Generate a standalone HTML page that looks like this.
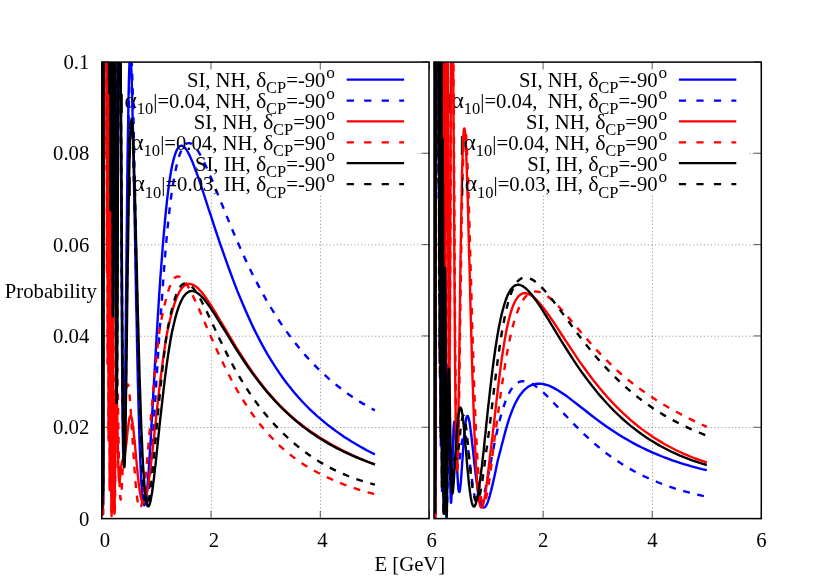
<!DOCTYPE html>
<html><head><meta charset="utf-8"><title>plot</title>
<style>
html,body{margin:0;padding:0;background:#fff;}
svg{display:block;will-change:transform;}
text{font-family:"Liberation Serif",serif;fill:#000;}
</style></head><body>
<svg width="830" height="581" viewBox="0 0 830 581">
<rect width="830" height="581" fill="#fff"/>
<defs><clipPath id="cl"><rect x="101.80" y="61.90" width="327.70" height="456.70"/></clipPath><clipPath id="cr"><rect x="434.00" y="61.90" width="327.30" height="456.70"/></clipPath></defs>
<g stroke="#8c8c8c" stroke-width="0.85" stroke-dasharray="1.2 2.3" transform="translate(0.3,0.3)" fill="none"><line x1="101.80" y1="427.26" x2="429.50" y2="427.26"/><line x1="101.80" y1="335.92" x2="429.50" y2="335.92"/><line x1="101.80" y1="244.58" x2="429.50" y2="244.58"/><line x1="101.80" y1="153.24" x2="429.50" y2="153.24"/><line x1="211.03" y1="518.60" x2="211.03" y2="61.90"/><line x1="320.27" y1="518.60" x2="320.27" y2="61.90"/><line x1="434.00" y1="427.26" x2="761.30" y2="427.26"/><line x1="434.00" y1="335.92" x2="761.30" y2="335.92"/><line x1="434.00" y1="244.58" x2="761.30" y2="244.58"/><line x1="434.00" y1="153.24" x2="761.30" y2="153.24"/><line x1="543.10" y1="518.60" x2="543.10" y2="61.90"/><line x1="652.20" y1="518.60" x2="652.20" y2="61.90"/></g>
<rect x="117.00" y="62.40" width="299.00" height="132.40" fill="#fff"/>
<g stroke="#333" stroke-width="0.8" fill="none"><line x1="101.80" y1="518.60" x2="109.40" y2="518.60"/><line x1="429.50" y1="518.60" x2="421.90" y2="518.60"/><line x1="101.80" y1="427.26" x2="109.40" y2="427.26"/><line x1="429.50" y1="427.26" x2="421.90" y2="427.26"/><line x1="101.80" y1="335.92" x2="109.40" y2="335.92"/><line x1="429.50" y1="335.92" x2="421.90" y2="335.92"/><line x1="101.80" y1="244.58" x2="109.40" y2="244.58"/><line x1="429.50" y1="244.58" x2="421.90" y2="244.58"/><line x1="101.80" y1="153.24" x2="109.40" y2="153.24"/><line x1="429.50" y1="153.24" x2="421.90" y2="153.24"/><line x1="101.80" y1="61.90" x2="109.40" y2="61.90"/><line x1="429.50" y1="61.90" x2="421.90" y2="61.90"/><line x1="101.80" y1="518.60" x2="101.80" y2="511.00"/><line x1="101.80" y1="61.90" x2="101.80" y2="69.50"/><line x1="211.03" y1="518.60" x2="211.03" y2="511.00"/><line x1="211.03" y1="61.90" x2="211.03" y2="69.50"/><line x1="320.27" y1="518.60" x2="320.27" y2="511.00"/><line x1="320.27" y1="61.90" x2="320.27" y2="69.50"/><line x1="429.50" y1="518.60" x2="429.50" y2="511.00"/><line x1="429.50" y1="61.90" x2="429.50" y2="69.50"/></g>
<line x1="346.70" y1="79.70" x2="404.10" y2="79.70" stroke="#0000ff" stroke-width="2.3"/><text x="326.30" y="77.80" font-size="17.3">o</text><text x="286.23" y="87.10" font-size="20.7">=-90</text><text x="266.05" y="93.20" font-size="16.5">CP</text><text x="256.05" y="87.10" font-size="22">δ</text><text x="255.85" y="87.10" font-size="20.7" text-anchor="end" xml:space="preserve">SI, NH, </text>
<path clip-path="url(#cl)" fill="none" stroke-width="2.4" stroke-linejoin="round" d="M102,31.9 102,31.9 102.1,31.9 102.1,31.9 102.1,67.6 102.1,422.2 102.1,31.9 102.1,31.9 102.2,31.9 102.2,31.9 102.2,122.6 102.2,495.1 102.2,31.9 102.2,31.9 102.3,31.9 102.3,31.9 102.3,31.9 102.3,31.9 102.3,31.9 102.4,31.9 102.4,220.1 102.4,355.2 102.4,376.7 102.4,495.3 102.4,485.8 102.5,195.4 102.5,31.9 102.5,31.9 102.5,31.9 102.5,31.9 102.5,31.9 102.6,31.9 102.6,31.9 102.6,31.9 102.6,31.9 102.6,31.9 102.6,31.9 102.7,31.9 102.7,31.9 102.7,31.9 102.7,31.9 102.7,31.9 102.8,31.9 102.8,31.9 102.8,31.9 102.8,31.9 102.8,31.9 102.8,31.9 102.9,31.9 102.9,70.2 102.9,310.2 102.9,31.9 102.9,388.4 102.9,302.7 103,283.3 103,494.4 103,339.2 103,504.5 103,428 103,458.7 103.1,485.3 103.1,390.8 103.1,499.8 103.1,333.3 103.1,423.6 103.2,363.3 103.2,202.6 103.2,466.3 103.2,31.9 103.2,327.5 103.2,181.9 103.3,31.9 103.3,338.7 103.3,31.9 103.3,31.9 103.3,247.9 103.3,31.9 103.4,31.9 103.4,116.3 103.4,31.9 103.4,31.9 103.4,31.9 103.5,31.9 103.5,31.9 103.5,31.9 103.5,31.9 103.5,31.9 103.5,31.9 103.6,31.9 103.6,31.9 103.6,31.9 103.6,31.9 103.6,31.9 103.6,31.9 103.7,31.9 103.7,31.9 103.7,31.9 103.7,31.9 103.7,31.9 103.7,31.9 103.8,31.9 103.8,31.9 103.8,31.9 103.8,31.9 103.8,31.9 103.9,31.9 103.9,31.9 103.9,31.9 103.9,31.9 103.9,31.9 103.9,31.9 104,31.9 104,31.9 104,31.9 104,31.9 104,31.9 104,31.9 104.1,31.9 104.1,31.9 104.1,31.9 104.1,31.9 104.1,31.9 104.2,31.9 104.2,31.9 104.2,31.9 104.2,31.9 104.2,31.9 104.2,31.9 104.3,31.9 104.3,31.9 104.3,31.9 104.3,31.9 104.3,31.9 104.3,31.9 104.4,31.9 104.4,31.9 104.4,31.9 104.4,31.9 104.4,31.9 104.4,31.9 104.5,31.9 104.5,31.9 104.5,31.9 104.5,31.9 104.5,31.9 104.6,31.9 104.6,31.9 104.6,31.9 104.6,31.9 104.6,31.9 104.6,31.9 104.7,31.9 104.7,31.9 104.7,31.9 104.7,31.9 104.7,31.9 104.7,31.9 104.8,31.9 104.8,31.9 104.8,31.9 104.8,31.9 104.8,31.9 104.8,31.9 104.9,31.9 104.9,31.9 104.9,31.9 104.9,31.9 104.9,31.9 105,31.9 105,31.9 105,31.9 105,31.9 105,31.9 105,31.9 105.1,31.9 105.1,31.9 105.1,31.9 105.1,31.9 105.1,31.9 105.1,31.9 105.2,31.9 105.2,31.9 105.2,31.9 105.2,31.9 105.2,31.9 105.3,31.9 105.3,31.9 105.3,31.9 105.3,31.9 105.3,31.9 105.3,31.9 105.4,31.9 105.4,31.9 105.4,31.9 105.4,31.9 105.4,31.9 105.4,31.9 105.5,31.9 105.5,31.9 105.5,31.9 105.5,31.9 105.5,31.9 105.5,31.9 105.6,31.9 105.6,31.9 105.6,31.9 105.6,31.9 105.6,31.9 105.7,31.9 105.7,31.9 105.7,31.9 105.7,31.9 105.7,31.9 105.7,31.9 105.8,31.9 105.8,31.9 105.8,31.9 105.8,31.9 105.8,31.9 105.8,31.9 105.9,31.9 105.9,31.9 105.9,31.9 105.9,31.9 105.9,31.9 106,31.9 106,31.9 106,31.9 106,31.9 106,31.9 106,31.9 106.1,31.9 106.1,31.9 106.1,31.9 106.1,31.9 106.1,31.9 106.1,31.9 106.2,31.9 106.2,31.9 106.2,31.9 106.2,31.9 106.2,31.9 106.2,31.9 106.3,31.9 106.3,31.9 106.3,31.9 106.3,31.9 106.3,31.9 106.4,31.9 106.4,31.9 106.4,31.9 106.4,31.9 106.4,31.9 106.4,31.9 106.5,31.9 106.5,31.9 106.5,31.9 106.5,31.9 106.5,31.9 106.5,31.9 106.6,31.9 106.6,31.9 106.6,31.9 106.6,31.9 106.6,31.9 106.6,31.9 106.7,31.9 106.7,31.9 106.7,31.9 106.7,31.9 106.7,31.9 106.8,31.9 106.8,31.9 106.8,31.9 106.8,31.9 106.8,31.9 106.8,31.9 106.9,31.9 106.9,31.9 106.9,31.9 106.9,31.9 106.9,31.9 106.9,31.9 107,31.9 107,31.9 107,31.9 107,31.9 107,31.9 107.1,31.9 107.1,31.9 107.1,31.9 107.1,31.9 107.1,31.9 107.1,31.9 107.2,31.9 107.2,31.9 107.2,31.9 107.2,31.9 107.2,31.9 107.2,31.9 107.3,31.9 107.3,31.9 107.3,31.9 107.4,31.9 107.4,31.9 107.4,31.9 107.5,31.9 107.5,31.9 107.6,31.9 107.6,31.9 107.6,31.9 107.7,31.9 107.7,31.9 107.7,31.9 107.8,31.9 107.8,31.9 107.8,31.9 107.9,31.9 107.9,31.9 108,31.9 108,31.9 108,31.9 108.1,31.9 108.1,31.9 108.1,31.9 108.2,31.9 108.2,31.9 108.2,31.9 108.3,31.9 108.3,31.9 108.4,31.9 108.4,31.9 108.4,31.9 108.5,31.9 108.5,31.9 108.5,31.9 108.6,31.9 108.6,31.9 108.6,31.9 108.7,31.9 108.7,31.9 108.8,31.9 108.8,31.9 108.8,31.9 108.9,31.9 108.9,31.9 108.9,31.9 109,31.9 109,31.9 109,31.9 109.1,43 109.1,74 109.2,89.4 109.2,89.2 109.2,74.2 109.3,45.5 109.3,31.9 109.3,31.9 109.4,31.9 109.4,31.9 109.4,31.9 109.5,31.9 109.5,31.9 109.6,31.9 109.6,31.9 109.6,31.9 109.7,31.9 109.7,31.9 109.7,31.9 109.8,31.9 109.8,31.9 109.8,31.9 109.9,31.9 109.9,31.9 110,31.9 110,31.9 110,31.9 110.1,31.9 110.1,31.9 110.1,31.9 110.2,31.9 110.2,31.9 110.2,31.9 110.3,31.9 110.3,31.9 110.4,31.9 110.4,58 110.4,99.2 110.5,134.4 110.5,163.1 110.5,185.1 110.6,200.2 110.6,208.5 110.6,210 110.7,204.9 110.7,193.7 110.8,176.7 110.8,154.4 110.8,127.3 110.9,96.2 110.9,61.5 110.9,31.9 111,31.9 111,31.9 111,31.9 111.1,31.9 111.1,31.9 111.2,31.9 111.2,31.9 111.2,31.9 111.3,31.9 111.3,31.9 111.3,31.9 111.4,31.9 111.4,31.9 111.4,31.9 111.5,31.9 111.5,31.9 111.6,31.9 111.6,31.9 111.6,31.9 111.7,31.9 111.7,31.9 111.7,31.9 111.8,31.9 111.8,31.9 111.8,31.9 111.9,31.9 111.9,31.9 112,31.9 112,31.9 112,31.9 112.1,31.9 112.1,31.9 112.1,31.9 112.2,31.9 112.2,31.9 112.2,31.9 112.3,49.5 112.3,81.8 112.4,112.6 112.4,141.7 112.4,169 112.5,194.2 112.5,217.2 112.5,237.9 112.6,256.2 112.6,272.1 112.7,285.5 112.7,296.3 112.7,304.6 112.8,310.4 112.8,313.7 112.8,314.6 112.9,313 112.9,309.2 112.9,303.2 113,295.1 113,285 113.1,273 113.1,259.3 113.1,244.1 113.2,227.3 113.2,209.3 113.2,190.2 113.3,170.1 113.3,149.1 113.3,127.5 113.4,105.3 113.4,82.8 113.5,60 113.5,37.1 113.5,31.9 113.6,31.9 113.6,31.9 113.6,31.9 113.7,31.9 113.7,31.9 113.7,31.9 113.8,31.9 113.8,31.9 113.9,31.9 113.9,31.9 113.9,31.9 114,31.9 114,31.9 114,31.9 114.1,31.9 114.1,31.9 114.1,31.9 114.2,31.9 114.2,31.9 114.3,31.9 114.3,31.9 114.3,31.9 114.4,31.9 114.4,31.9 114.4,31.9 114.5,31.9 114.5,31.9 114.5,31.9 114.6,31.9 114.6,31.9 114.7,31.9 114.7,31.9 114.7,31.9 114.8,31.9 114.8,31.9 114.8,31.9 114.9,31.9 114.9,31.9 114.9,31.9 115,31.9 115,31.9 115.1,31.9 115.1,31.9 115.1,31.9 115.2,31.9 115.2,31.9 115.2,38.5 115.3,56.8 115.3,75 115.3,93.1 115.4,110.9 115.4,128.5 115.5,145.8 115.5,162.8 115.5,179.4 115.6,195.6 115.6,211.4 115.6,226.7 115.7,241.4 115.7,255.6 115.7,269.3 115.8,282.3 115.8,294.7 115.9,306.5 115.9,317.6 115.9,328.1 116,337.8 116,346.9 116,355.3 116.1,362.9 116.1,369.9 116.1,376.1 116.2,381.6 116.2,386.4 116.3,390.5 116.3,393.8 116.3,396.5 116.4,398.5 116.4,399.7 116.4,400.4 116.5,400.3 116.5,399.6 116.5,398.3 116.6,396.4 116.6,393.8 116.7,390.7 116.7,387.1 116.7,382.8 116.8,378.1 116.8,372.9 116.8,367.2 116.9,361 116.9,354.4 116.9,347.3 117,339.9 117,332.1 117.1,324 117.1,315.6 117.1,306.8 117.2,297.8 117.2,288.5 117.2,279 117.3,269.3 117.3,259.5 117.3,249.4 117.4,239.2 117.4,229 117.5,218.6 117.5,208.1 117.5,197.6 117.6,187.1 117.6,176.5 117.6,166 117.7,155.5 117.7,145 117.7,134.7 117.8,124.3 117.8,114.1 117.9,104 117.9,94.1 117.9,84.3 118,74.6 118,65.1 118,55.8 118.1,46.7 118.1,37.8 118.1,31.9 118.2,31.9 118.4,31.9 118.6,31.9 118.8,31.9 119,31.9 119.2,31.9 119.5,31.9 119.7,31.9 119.9,31.9 120.1,31.9 120.3,31.9 120.5,62.7 120.7,105.2 120.9,148.8 121.2,192.1 121.4,234.3 121.6,274.4 121.8,311.6 122,345.4 122.2,375.3 122.4,401 122.6,422.4 122.9,439.3 123.1,451.8 123.3,460 123.5,464 123.7,464.2 123.9,460.7 124.1,453.9 124.3,444.1 124.6,431.7 124.8,417.1 125,400.5 125.2,382.4 125.4,363.1 125.6,342.9 125.8,322 126,300.9 126.3,279.7 126.5,258.7 126.7,238.1 126.9,218.1 127.1,198.9 127.3,180.5 127.5,163.2 127.7,147.1 128,132.1 128.2,118.5 128.4,106.1 128.6,95.2 128.8,85.6 129,77.4 129.2,70.5 129.4,65.1 129.7,60.9 129.9,58.1 130.1,56.5 130.3,56.1 130.5,56.9 130.7,58.9 130.9,61.8 131.1,65.7 131.4,70.6 131.6,76.3 131.8,82.9 132,90.1 132.2,98.1 132.4,106.6 132.6,115.7 132.8,125.2 133.1,135.2 133.3,145.6 133.5,156.3 133.7,167.3 133.9,178.4 134.1,189.8 134.3,201.3 134.5,212.8 134.8,224.4 135,236 135.2,247.6 135.4,259.1 135.6,270.5 135.8,281.7 136,292.9 136.2,303.8 136.5,314.6 136.7,325.1 136.9,335.4 137.1,345.5 137.3,355.3 137.5,364.8 137.7,374 137.9,382.9 138.2,391.5 138.4,399.9 138.6,407.8 138.8,415.5 139,422.8 139.2,429.8 139.4,436.5 139.6,442.9 139.8,448.9 140.1,454.6 140.3,459.9 140.5,464.9 140.7,469.6 140.9,474 141.1,478.1 141.3,481.9 141.5,485.3 141.8,488.5 142,491.4 142.2,493.9 142.4,496.2 142.6,498.3 142.8,500 143,501.5 143.2,502.8 143.5,503.8 143.7,504.5 143.9,505 144.1,505.3 144.3,505.4 144.5,505.3 144.7,504.9 144.9,504.4 145.2,503.7 145.4,502.8 145.6,501.7 145.8,500.4 146,499 146.2,497.4 146.4,495.7 146.6,493.9 146.9,491.9 147.1,489.7 147.3,487.5 147.5,485.1 147.7,482.6 147.9,480 148.1,477.4 148.3,474.6 148.6,471.7 148.8,468.8 149,465.7 149.2,462.6 149.4,459.5 149.6,456.2 149.8,452.9 150,449.6 150.3,446.2 150.5,442.7 150.7,439.2 150.9,435.7 151.1,432.1 151.3,428.5 151.5,424.9 151.7,421.3 152,417.6 152.2,413.9 152.4,410.2 152.6,406.5 152.8,402.8 153,399 153.2,395.3 153.4,391.6 153.7,387.8 153.9,384.1 154.1,380.4 154.3,376.7 154.5,373 154.7,369.3 154.9,365.6 155.1,361.9 155.4,358.3 155.6,354.6 155.8,351 156,347.4 156.2,343.9 156.4,340.3 157.7,318.8 159,298.1 160.3,278.6 161.7,260.4 163,243.5 164.3,228.1 165.6,214.2 166.9,201.7 168.2,190.7 169.5,181 170.8,172.7 172.1,165.7 173.5,159.9 174.8,155.2 176.1,151.6 177.4,148.9 178.7,147.1 180,146.1 181.3,145.7 182.6,146 183.9,146.9 185.3,148.2 186.6,150 187.9,152.2 189.2,154.6 190.5,157.4 191.8,160.4 193.1,163.6 194.4,167 195.7,170.5 197.1,174.2 198.4,177.9 199.7,181.7 201,185.6 202.3,189.5 203.6,193.5 204.9,197.5 206.2,201.5 207.5,205.5 208.8,209.6 210.2,213.6 211.5,217.6 212.8,221.6 214.1,225.6 215.4,229.6 216.7,233.5 218,237.4 219.3,241.3 220.6,245.2 222,249 225.8,259.9 229.6,270.5 233.4,280.7 237.2,290.6 241.1,300 244.9,309 248.7,317.6 252.5,325.9 256.4,333.7 260.2,341.1 264,348.1 267.8,354.8 271.7,361.2 275.5,367.2 279.3,372.9 283.1,378.3 287,383.5 290.8,388.3 294.6,392.9 298.4,397.3 302.2,401.5 306.1,405.5 309.9,409.3 313.7,412.9 317.5,416.4 321.4,419.7 325.2,422.9 329,425.9 332.8,428.8 336.7,431.6 340.5,434.3 344.3,436.9 348.1,439.3 351.9,441.7 355.8,444 359.6,446.3 363.4,448.4 367.2,450.5 371.1,452.5 374.9,454.4" stroke="#0000ff"/>
<line x1="346.70" y1="100.57" x2="404.10" y2="100.57" stroke="#0000ff" stroke-width="2.3" stroke-dasharray="7.2 10.3"/><text x="326.30" y="98.67" font-size="17.3">o</text><text x="286.23" y="107.97" font-size="20.7">=-90</text><text x="266.05" y="114.07" font-size="16.5">CP</text><text x="256.05" y="107.97" font-size="22">δ</text><text x="255.85" y="107.97" font-size="20.7" text-anchor="end" xml:space="preserve">|=0.04, NH, </text><text x="136.71" y="114.27" font-size="16.5">10</text><text x="124.41" y="107.97" font-size="23.5">α</text><text x="120.26" y="107.97" font-size="20.7">|</text>
<path clip-path="url(#cl)" fill="none" stroke-width="2.4" stroke-linejoin="round" d="M102,31.9 102,31.9 102.1,31.9 102.1,31.9 102.1,98.9 102.1,391.4 102.1,31.9 102.1,31.9 102.2,31.9 102.2,31.9 102.2,98.6 102.2,509.4 102.2,31.9 102.2,31.9 102.3,31.9 102.3,31.9 102.3,31.9 102.3,31.9 102.3,31.9 102.4,31.9 102.4,195.1 102.4,394.3 102.4,400.8 102.4,500.7 102.4,501.1 102.5,233.3 102.5,31.9 102.5,31.9 102.5,31.9 102.5,31.9 102.5,31.9 102.6,31.9 102.6,31.9 102.6,31.9 102.6,31.9 102.6,31.9 102.6,31.9 102.7,31.9 102.7,31.9 102.7,31.9 102.7,31.9 102.7,31.9 102.8,31.9 102.8,31.9 102.8,31.9 102.8,31.9 102.8,56.3 102.8,31.9 102.9,31.9 102.9,119.4 102.9,284.9 102.9,31.9 102.9,420.1 102.9,262.2 103,321.5 103,463.9 103,354.4 103,492.2 103,428.6 103,452.5 103.1,486.5 103.1,378 103.1,514.3 103.1,305.8 103.1,455.2 103.2,327.6 103.2,233.5 103.2,452.3 103.2,31.9 103.2,355.8 103.2,156.2 103.3,31.9 103.3,351.1 103.3,31.9 103.3,31.9 103.3,257.9 103.3,31.9 103.4,31.9 103.4,135.4 103.4,31.9 103.4,31.9 103.4,31.9 103.5,31.9 103.5,31.9 103.5,31.9 103.5,31.9 103.5,31.9 103.5,31.9 103.6,31.9 103.6,31.9 103.6,31.9 103.6,31.9 103.6,31.9 103.6,31.9 103.7,31.9 103.7,31.9 103.7,31.9 103.7,31.9 103.7,31.9 103.7,31.9 103.8,31.9 103.8,31.9 103.8,31.9 103.8,31.9 103.8,31.9 103.9,31.9 103.9,31.9 103.9,31.9 103.9,31.9 103.9,31.9 103.9,31.9 104,31.9 104,31.9 104,31.9 104,31.9 104,31.9 104,31.9 104.1,31.9 104.1,31.9 104.1,31.9 104.1,31.9 104.1,31.9 104.2,31.9 104.2,31.9 104.2,31.9 104.2,31.9 104.2,31.9 104.2,31.9 104.3,31.9 104.3,31.9 104.3,31.9 104.3,31.9 104.3,31.9 104.3,31.9 104.4,31.9 104.4,31.9 104.4,31.9 104.4,31.9 104.4,31.9 104.4,31.9 104.5,31.9 104.5,31.9 104.5,31.9 104.5,31.9 104.5,31.9 104.6,31.9 104.6,31.9 104.6,31.9 104.6,31.9 104.6,31.9 104.6,31.9 104.7,31.9 104.7,31.9 104.7,31.9 104.7,31.9 104.7,31.9 104.7,31.9 104.8,31.9 104.8,31.9 104.8,31.9 104.8,31.9 104.8,31.9 104.8,31.9 104.9,31.9 104.9,31.9 104.9,31.9 104.9,31.9 104.9,31.9 105,31.9 105,31.9 105,31.9 105,31.9 105,31.9 105,31.9 105.1,31.9 105.1,31.9 105.1,31.9 105.1,31.9 105.1,31.9 105.1,31.9 105.2,31.9 105.2,31.9 105.2,31.9 105.2,31.9 105.2,31.9 105.3,31.9 105.3,31.9 105.3,31.9 105.3,31.9 105.3,31.9 105.3,31.9 105.4,31.9 105.4,31.9 105.4,31.9 105.4,31.9 105.4,31.9 105.4,31.9 105.5,31.9 105.5,31.9 105.5,31.9 105.5,31.9 105.5,31.9 105.5,31.9 105.6,31.9 105.6,31.9 105.6,31.9 105.6,31.9 105.6,31.9 105.7,31.9 105.7,31.9 105.7,31.9 105.7,31.9 105.7,31.9 105.7,31.9 105.8,31.9 105.8,31.9 105.8,31.9 105.8,31.9 105.8,31.9 105.8,31.9 105.9,31.9 105.9,31.9 105.9,31.9 105.9,31.9 105.9,31.9 106,31.9 106,31.9 106,31.9 106,31.9 106,31.9 106,31.9 106.1,31.9 106.1,31.9 106.1,31.9 106.1,31.9 106.1,31.9 106.1,31.9 106.2,31.9 106.2,31.9 106.2,31.9 106.2,31.9 106.2,31.9 106.2,31.9 106.3,31.9 106.3,31.9 106.3,31.9 106.3,31.9 106.3,31.9 106.4,31.9 106.4,31.9 106.4,31.9 106.4,31.9 106.4,31.9 106.4,31.9 106.5,31.9 106.5,31.9 106.5,31.9 106.5,31.9 106.5,31.9 106.5,31.9 106.6,31.9 106.6,31.9 106.6,31.9 106.6,31.9 106.6,31.9 106.6,31.9 106.7,31.9 106.7,31.9 106.7,31.9 106.7,31.9 106.7,31.9 106.8,31.9 106.8,31.9 106.8,31.9 106.8,31.9 106.8,31.9 106.8,31.9 106.9,31.9 106.9,31.9 106.9,31.9 106.9,31.9 106.9,31.9 106.9,31.9 107,31.9 107,31.9 107,31.9 107,31.9 107,31.9 107.1,31.9 107.1,31.9 107.1,31.9 107.1,31.9 107.1,31.9 107.1,31.9 107.2,31.9 107.2,31.9 107.2,31.9 107.2,31.9 107.2,31.9 107.2,31.9 107.3,31.9 107.3,31.9 107.3,31.9 107.4,31.9 107.4,31.9 107.4,31.9 107.5,31.9 107.5,31.9 107.6,31.9 107.6,31.9 107.6,31.9 107.7,31.9 107.7,31.9 107.7,31.9 107.8,31.9 107.8,31.9 107.8,31.9 107.9,31.9 107.9,31.9 108,31.9 108,31.9 108,31.9 108.1,31.9 108.1,31.9 108.1,31.9 108.2,31.9 108.2,31.9 108.2,31.9 108.3,31.9 108.3,31.9 108.4,31.9 108.4,31.9 108.4,31.9 108.5,31.9 108.5,31.9 108.5,31.9 108.6,31.9 108.6,31.9 108.6,31.9 108.7,31.9 108.7,31.9 108.8,31.9 108.8,31.9 108.8,31.9 108.9,31.9 108.9,31.9 108.9,31.9 109,31.9 109,31.9 109,31.9 109.1,31.9 109.1,65.1 109.2,87.7 109.2,94.8 109.2,87 109.3,65.1 109.3,31.9 109.3,31.9 109.4,31.9 109.4,31.9 109.4,31.9 109.5,31.9 109.5,31.9 109.6,31.9 109.6,31.9 109.6,31.9 109.7,31.9 109.7,31.9 109.7,31.9 109.8,31.9 109.8,31.9 109.8,31.9 109.9,31.9 109.9,31.9 110,31.9 110,31.9 110,31.9 110.1,31.9 110.1,31.9 110.1,31.9 110.2,31.9 110.2,31.9 110.2,31.9 110.3,31.9 110.3,31.9 110.4,31.9 110.4,31.9 110.4,71.1 110.5,110.4 110.5,143.7 110.5,170.6 110.6,190.8 110.6,204.3 110.6,211 110.7,211.1 110.7,204.9 110.8,192.7 110.8,174.9 110.8,152 110.9,124.6 110.9,93.2 110.9,58.5 111,31.9 111,31.9 111,31.9 111.1,31.9 111.1,31.9 111.2,31.9 111.2,31.9 111.2,31.9 111.3,31.9 111.3,31.9 111.3,31.9 111.4,31.9 111.4,31.9 111.4,31.9 111.5,31.9 111.5,31.9 111.6,31.9 111.6,31.9 111.6,31.9 111.7,31.9 111.7,31.9 111.7,31.9 111.8,31.9 111.8,31.9 111.8,31.9 111.9,31.9 111.9,31.9 112,31.9 112,31.9 112,31.9 112.1,31.9 112.1,31.9 112.1,31.9 112.2,31.9 112.2,31.9 112.2,31.9 112.3,31.9 112.3,41.1 112.4,73.4 112.4,104.3 112.4,133.5 112.5,161 112.5,186.5 112.5,210 112.6,231.2 112.6,250.2 112.7,266.8 112.7,280.9 112.7,292.6 112.8,301.8 112.8,308.6 112.8,312.9 112.9,314.8 112.9,314.3 112.9,311.6 113,306.7 113,299.7 113.1,290.7 113.1,279.8 113.1,267.2 113.2,253 113.2,237.3 113.2,220.2 113.3,201.9 113.3,182.6 113.3,162.4 113.4,141.4 113.4,119.9 113.5,97.8 113.5,75.5 113.5,53 113.6,31.9 113.6,31.9 113.6,31.9 113.7,31.9 113.7,31.9 113.7,31.9 113.8,31.9 113.8,31.9 113.9,31.9 113.9,31.9 113.9,31.9 114,31.9 114,31.9 114,31.9 114.1,31.9 114.1,31.9 114.1,31.9 114.2,31.9 114.2,31.9 114.3,31.9 114.3,31.9 114.3,31.9 114.4,31.9 114.4,31.9 114.4,31.9 114.5,31.9 114.5,31.9 114.5,31.9 114.6,31.9 114.6,31.9 114.7,31.9 114.7,31.9 114.7,31.9 114.8,31.9 114.8,31.9 114.8,31.9 114.9,31.9 114.9,31.9 114.9,31.9 115,31.9 115,31.9 115.1,31.9 115.1,31.9 115.1,31.9 115.2,31.9 115.2,31.9 115.2,31.9 115.3,31.9 115.3,31.9 115.3,47.9 115.4,65.8 115.4,83.6 115.5,101.3 115.5,118.7 115.5,135.9 115.6,152.8 115.6,169.3 115.6,185.5 115.7,201.3 115.7,216.6 115.7,231.4 115.8,245.7 115.8,259.5 115.9,272.8 115.9,285.4 115.9,297.4 116,308.8 116,319.6 116,329.7 116.1,339.2 116.1,348 116.1,356.1 116.2,363.5 116.2,370.3 116.3,376.3 116.3,381.6 116.3,386.3 116.4,390.3 116.4,393.5 116.4,396.1 116.5,398.1 116.5,399.4 116.5,400 116.6,400 116.6,399.4 116.7,398.1 116.7,396.3 116.7,393.9 116.8,391 116.8,387.4 116.8,383.4 116.9,378.9 116.9,373.8 116.9,368.3 117,362.4 117,356 117.1,349.3 117.1,342.1 117.1,334.6 117.2,326.8 117.2,318.6 117.2,310.1 117.3,301.4 117.3,292.4 117.3,283.2 117.4,273.8 117.4,264.2 117.5,254.4 117.5,244.5 117.5,234.5 117.6,224.3 117.6,214.1 117.6,203.9 117.7,193.6 117.7,183.2 117.7,172.9 117.8,162.6 117.8,152.3 117.9,142 117.9,131.9 117.9,121.8 118,111.8 118,101.9 118,92.1 118.1,82.5 118.1,73.1 118.1,63.8 118.2,54.7 118.4,31.9 118.6,31.9 118.8,31.9 119,31.9 119.2,31.9 119.5,31.9 119.7,31.9 119.9,31.9 120.1,31.9 120.3,31.9 120.5,31.9 120.7,62.2 120.9,103.6 121.2,146 121.4,188.3 121.6,229.5 121.8,268.7 122,305.3 122.2,338.8 122.4,368.6 122.6,394.6 122.9,416.4 123.1,434.1 123.3,447.6 123.5,457 123.7,462.5 123.9,464.2 124.1,462.4 124.3,457.3 124.6,449.3 124.8,438.7 125,425.8 125.2,410.9 125.4,394.4 125.6,376.5 125.8,357.6 126,337.9 126.3,317.7 126.5,297.3 126.7,276.9 126.9,256.7 127.1,236.8 127.3,217.6 127.5,199 127.7,181.3 128,164.5 128.2,148.8 128.4,134.2 128.6,120.8 128.8,108.5 129,97.6 129.2,87.9 129.4,79.4 129.7,72.3 129.9,66.4 130.1,61.7 130.3,58.2 130.5,55.9 130.7,54.8 130.9,54.7 131.1,55.7 131.4,57.7 131.6,60.6 131.8,64.4 132,69.1 132.2,74.5 132.4,80.7 132.6,87.5 132.8,94.9 133.1,102.9 133.3,111.4 133.5,120.4 133.7,129.8 133.9,139.5 134.1,149.5 134.3,159.7 134.5,170.2 134.8,180.9 135,191.7 135.2,202.6 135.4,213.5 135.6,224.5 135.8,235.5 136,246.4 136.2,257.3 136.5,268.1 136.7,278.8 136.9,289.3 137.1,299.7 137.3,309.9 137.5,320 137.7,329.8 137.9,339.4 138.2,348.8 138.4,357.9 138.6,366.8 138.8,375.4 139,383.7 139.2,391.8 139.4,399.6 139.6,407.1 139.8,414.3 140.1,421.3 140.3,427.9 140.5,434.3 140.7,440.3 140.9,446.1 141.1,451.6 141.3,456.7 141.5,461.6 141.8,466.2 142,470.6 142.2,474.6 142.4,478.4 142.6,481.9 142.8,485.1 143,488.1 143.2,490.8 143.5,493.3 143.7,495.5 143.9,497.5 144.1,499.3 144.3,500.8 144.5,502.1 144.7,503.2 144.9,504.1 145.2,504.7 145.4,505.2 145.6,505.4 145.8,505.5 146,505.4 146.2,505.2 146.4,504.7 146.6,504.1 146.9,503.3 147.1,502.4 147.3,501.3 147.5,500.1 147.7,498.8 147.9,497.3 148.1,495.7 148.3,494 148.6,492.1 148.8,490.2 149,488.1 149.2,486 149.4,483.7 149.6,481.4 149.8,479 150,476.5 150.3,473.9 150.5,471.3 150.7,468.5 150.9,465.7 151.1,462.9 151.3,460 151.5,457 151.7,454 152,451 152.2,447.9 152.4,444.7 152.6,441.6 152.8,438.4 153,435.1 153.2,431.9 153.4,428.6 153.7,425.3 153.9,421.9 154.1,418.6 154.3,415.2 154.5,411.8 154.7,408.5 154.9,405.1 155.1,401.7 155.4,398.3 155.6,394.9 155.8,391.5 156,388.1 156.2,384.7 156.4,381.3 157.7,360.6 159,340.4 160.3,321.1 161.7,302.8 163,283.9 164.3,266.1 165.6,249.8 166.9,235.1 168.2,221.9 169.5,210 170.8,199.4 172.1,189.9 173.5,181.6 174.8,174.3 176.1,167.9 177.4,162.3 178.7,157.6 180,153.7 181.3,150.5 182.6,147.9 183.9,145.9 185.3,144.5 186.6,143.6 187.9,143.1 189.2,143.1 190.5,143.4 191.8,144.1 193.1,145.1 194.4,146.4 195.7,147.9 197.1,149.7 198.4,151.7 199.7,153.8 201,156.1 202.3,158.6 203.6,161.2 204.9,163.9 206.2,166.7 207.5,169.6 208.8,172.6 210.2,175.6 211.5,178.7 212.8,181.8 214.1,185 215.4,188.2 216.7,191.4 218,194.7 219.3,197.9 220.6,201.2 222,204.4 225.8,213.8 229.6,223.2 233.4,232.3 237.2,241.2 241.1,249.9 244.9,258.3 248.7,266.4 252.5,274.2 256.4,281.7 260.2,289 264,295.9 267.8,302.6 271.7,309 275.5,315.1 279.3,321 283.1,326.7 287,332.1 290.8,337.3 294.6,342.3 298.4,347.1 302.2,351.7 306.1,356.1 309.9,360.3 313.7,364.3 317.5,368.2 321.4,371.9 325.2,375.4 329,378.9 332.8,382.1 336.7,385.3 340.5,388.3 344.3,391.2 348.1,393.9 351.9,396.6 355.8,399.1 359.6,401.6 363.4,403.9 367.2,406.1 371.1,408.3 374.9,410.4" stroke="#0000ff" stroke-dasharray="6.8 7.7"/>
<line x1="346.70" y1="121.44" x2="404.10" y2="121.44" stroke="#ff0000" stroke-width="2.3"/><text x="326.30" y="119.54" font-size="17.3">o</text><text x="293.13" y="128.84" font-size="20.7">=90</text><text x="272.94" y="134.94" font-size="16.5">CP</text><text x="262.94" y="128.84" font-size="22">δ</text><text x="262.74" y="128.84" font-size="20.7" text-anchor="end" xml:space="preserve">SI, NH, </text>
<path clip-path="url(#cl)" fill="none" stroke-width="2.4" stroke-linejoin="round" d="M102,31.9 102,500.1 102.1,31.9 102.1,31.9 102.1,68.2 102.1,340.5 102.1,31.9 102.1,31.9 102.2,31.9 102.2,356 102.2,437.4 102.2,31.9 102.2,31.9 102.2,31.9 102.3,31.9 102.3,31.9 102.3,31.9 102.3,31.9 102.3,31.9 102.4,413.6 102.4,326.6 102.4,473.2 102.4,217.2 102.4,31.9 102.4,31.9 102.5,31.9 102.5,31.9 102.5,31.9 102.5,31.9 102.5,31.9 102.5,31.9 102.6,31.9 102.6,31.9 102.6,31.9 102.6,31.9 102.6,31.9 102.6,31.9 102.7,31.9 102.7,31.9 102.7,31.9 102.7,31.9 102.7,31.9 102.8,31.9 102.8,31.9 102.8,307.2 102.8,344.1 102.8,89.3 102.8,190.9 102.9,500 102.9,419.5 102.9,379.4 102.9,480.9 102.9,473.4 102.9,444.5 103,398.7 103,496.5 103,237.2 103,504.3 103,81.9 103,461.8 103.1,31.9 103.1,396.4 103.1,31.9 103.1,251.9 103.1,31.9 103.2,31.9 103.2,31.9 103.2,31.9 103.2,81.8 103.2,31.9 103.2,31.9 103.3,31.9 103.3,31.9 103.3,31.9 103.3,31.9 103.3,31.9 103.3,31.9 103.4,31.9 103.4,31.9 103.4,31.9 103.4,31.9 103.4,31.9 103.5,31.9 103.5,31.9 103.5,31.9 103.5,31.9 103.5,31.9 103.5,31.9 103.6,31.9 103.6,31.9 103.6,31.9 103.6,31.9 103.6,31.9 103.6,31.9 103.7,31.9 103.7,31.9 103.7,31.9 103.7,31.9 103.7,31.9 103.7,31.9 103.8,31.9 103.8,31.9 103.8,31.9 103.8,31.9 103.8,31.9 103.9,31.9 103.9,31.9 103.9,31.9 103.9,31.9 103.9,31.9 103.9,31.9 104,31.9 104,31.9 104,31.9 104,31.9 104,31.9 104,31.9 104.1,31.9 104.1,31.9 104.1,31.9 104.1,31.9 104.1,31.9 104.2,31.9 104.2,31.9 104.2,31.9 104.2,31.9 104.2,31.9 104.2,31.9 104.3,31.9 104.3,31.9 104.3,31.9 104.3,31.9 104.3,31.9 104.3,31.9 104.4,31.9 104.4,31.9 104.4,31.9 104.4,31.9 104.4,31.9 104.4,31.9 104.5,31.9 104.5,31.9 104.5,31.9 104.5,31.9 104.5,31.9 104.6,31.9 104.6,31.9 104.6,31.9 104.6,31.9 104.6,31.9 104.6,31.9 104.7,31.9 104.7,31.9 104.7,31.9 104.7,31.9 104.7,31.9 104.7,31.9 104.8,31.9 104.8,31.9 104.8,31.9 104.8,31.9 104.8,31.9 104.8,31.9 104.9,31.9 104.9,31.9 104.9,31.9 104.9,31.9 104.9,31.9 105,31.9 105,31.9 105,31.9 105,31.9 105,31.9 105,31.9 105.1,31.9 105.1,31.9 105.1,31.9 105.1,31.9 105.1,31.9 105.1,31.9 105.2,31.9 105.2,31.9 105.2,31.9 105.2,31.9 105.2,31.9 105.3,31.9 105.3,31.9 105.3,31.9 105.3,31.9 105.3,31.9 105.3,31.9 105.4,31.9 105.4,31.9 105.4,31.9 105.4,31.9 105.4,31.9 105.4,31.9 105.5,31.9 105.5,31.9 105.5,31.9 105.5,31.9 105.5,31.9 105.5,31.9 105.6,31.9 105.6,31.9 105.6,31.9 105.6,31.9 105.6,31.9 105.7,31.9 105.7,31.9 105.7,31.9 105.7,31.9 105.7,31.9 105.7,31.9 105.8,31.9 105.8,31.9 105.8,31.9 105.8,31.9 105.8,31.9 105.8,31.9 105.9,31.9 105.9,31.9 105.9,31.9 105.9,31.9 105.9,31.9 106,31.9 106,31.9 106,31.9 106,31.9 106,31.9 106,31.9 106.1,31.9 106.1,31.9 106.1,31.9 106.1,31.9 106.1,31.9 106.1,31.9 106.2,31.9 106.2,31.9 106.2,31.9 106.2,31.9 106.2,31.9 106.2,31.9 106.3,31.9 106.3,31.9 106.3,31.9 106.3,31.9 106.3,31.9 106.4,31.9 106.4,31.9 106.4,31.9 106.4,72.2 106.4,120.9 106.4,149 106.5,156.2 106.5,142.9 106.5,110.8 106.5,62.3 106.5,31.9 106.5,31.9 106.6,31.9 106.6,31.9 106.6,31.9 106.6,31.9 106.6,31.9 106.6,31.9 106.7,31.9 106.7,31.9 106.7,31.9 106.7,31.9 106.7,31.9 106.8,31.9 106.8,31.9 106.8,31.9 106.8,31.9 106.8,31.9 106.8,31.9 106.9,31.9 106.9,31.9 106.9,58.6 106.9,119.4 106.9,171.3 106.9,212.9 107,243.2 107,261.8 107,268.4 107,263.3 107,247.2 107.1,221 107.1,185.9 107.1,143.4 107.1,95 107.1,42.7 107.1,31.9 107.2,31.9 107.2,31.9 107.2,31.9 107.2,31.9 107.2,31.9 107.2,31.9 107.3,31.9 107.3,31.9 107.3,31.9 107.4,31.9 107.4,31.9 107.4,31.9 107.5,31.9 107.5,77.5 107.6,176.8 107.6,259.9 107.6,320.6 107.7,355.4 107.7,363.2 107.7,345.2 107.8,304.7 107.8,246.7 107.8,177 107.9,101.9 107.9,31.9 108,31.9 108,31.9 108,31.9 108.1,31.9 108.1,31.9 108.1,31.9 108.2,31.9 108.2,31.9 108.2,31.9 108.3,49 108.3,117.4 108.4,185.9 108.4,251.1 108.4,309.6 108.5,359 108.5,397.4 108.5,423.5 108.6,436.9 108.6,437.6 108.6,426.5 108.7,404.6 108.7,373.9 108.8,336 108.8,293.3 108.8,247.9 108.9,202.1 108.9,157.8 108.9,116.9 109,81.1 109,51.6 109,31.9 109.1,31.9 109.1,31.9 109.2,31.9 109.2,31.9 109.2,38.9 109.3,62.8 109.3,92.3 109.3,126.2 109.4,163.4 109.4,202.7 109.4,242.8 109.5,282.6 109.5,321 109.6,357 109.6,389.9 109.6,418.8 109.7,443.2 109.7,462.8 109.7,477.2 109.8,486.3 109.8,490.3 109.8,489.2 109.9,483.4 109.9,473.2 110,459.1 110,441.7 110,421.5 110.1,399.1 110.1,375.3 110.1,350.5 110.2,325.4 110.2,300.6 110.2,276.7 110.3,254 110.3,233.2 110.4,214.4 110.4,198.2 110.4,184.6 110.5,173.9 110.5,166.3 110.5,161.7 110.6,160.1 110.6,161.6 110.6,166 110.7,173.1 110.7,182.7 110.8,194.7 110.8,208.7 110.8,224.5 110.9,241.8 110.9,260.3 110.9,279.7 111,299.7 111,320.1 111,340.4 111.1,360.5 111.1,380.1 111.2,399 111.2,416.9 111.2,433.7 111.3,449.2 111.3,463.3 111.3,475.8 111.4,486.7 111.4,495.9 111.4,503.4 111.5,509.1 111.5,513.1 111.6,515.4 111.6,516.1 111.6,515.1 111.7,512.7 111.7,508.8 111.7,503.6 111.8,497.1 111.8,489.6 111.8,481.2 111.9,471.9 111.9,461.9 112,451.3 112,440.4 112,429.1 112.1,417.6 112.1,406.1 112.1,394.7 112.2,383.5 112.2,372.5 112.2,361.9 112.3,351.8 112.3,342.2 112.4,333.2 112.4,325 112.4,317.4 112.5,310.6 112.5,304.7 112.5,299.6 112.6,295.3 112.6,291.9 112.7,289.4 112.7,287.7 112.7,287 112.8,287 112.8,287.9 112.8,289.5 112.9,291.9 112.9,295.1 112.9,298.9 113,303.3 113,308.4 113.1,314 113.1,320.1 113.1,326.6 113.2,333.5 113.2,340.7 113.2,348.2 113.3,356 113.3,363.9 113.3,372 113.4,380.1 113.4,388.3 113.5,396.5 113.5,404.6 113.5,412.6 113.6,420.5 113.6,428.3 113.6,435.8 113.7,443 113.7,450 113.7,456.8 113.8,463.2 113.8,469.2 113.9,475 113.9,480.3 113.9,485.3 114,489.8 114,494 114,497.8 114.1,501.2 114.1,504.1 114.1,506.7 114.2,508.8 114.2,510.6 114.3,511.9 114.3,512.9 114.3,513.5 114.4,513.7 114.4,513.5 114.4,513.1 114.5,512.3 114.5,511.2 114.5,509.8 114.6,508.1 114.6,506.2 114.7,504 114.7,501.6 114.7,498.9 114.8,496.1 114.8,493.1 114.8,490 114.9,486.7 114.9,483.3 114.9,479.8 115,476.2 115,472.6 115.1,468.9 115.1,465.1 115.1,461.3 115.2,457.6 115.2,453.8 115.2,450 115.3,446.3 115.3,442.7 115.3,439 115.4,435.5 115.4,432 115.5,428.6 115.5,425.4 115.5,422.2 115.6,419.1 115.6,416.2 115.6,413.3 115.7,410.6 115.7,408.1 115.7,405.7 115.8,403.4 115.8,401.2 115.9,399.3 115.9,397.4 115.9,395.7 116,394.2 116,392.8 116,391.6 116.1,390.5 116.1,389.6 116.1,388.8 116.2,388.1 116.2,387.6 116.3,387.3 116.3,387.1 116.3,387 116.4,387.1 116.4,387.2 116.4,387.5 116.5,388 116.5,388.5 116.5,389.2 116.6,389.9 116.6,390.8 116.7,391.7 116.7,392.8 116.7,393.9 116.8,395.2 116.8,396.5 116.8,397.8 116.9,399.3 116.9,400.8 116.9,402.3 117,403.9 117,405.6 117.1,407.3 117.1,409.1 117.1,410.9 117.2,412.7 117.2,414.5 117.2,416.4 117.3,418.2 117.3,420.1 117.3,422 117.4,423.9 117.4,425.9 117.5,427.8 117.5,429.7 117.5,431.6 117.6,433.4 117.6,435.3 117.6,437.2 117.7,439 117.7,440.8 117.7,442.6 117.8,444.3 117.8,446.1 117.9,447.7 117.9,449.4 117.9,451 118,452.6 118,454.2 118,455.7 118.1,457.2 118.1,458.6 118.1,460 118.2,461.3 118.4,468.3 118.6,473.7 118.8,477.6 119,480 119.2,481.3 119.5,481.4 119.7,480.7 119.9,479.4 120.1,477.6 120.3,475.6 120.5,473.4 120.7,471.3 120.9,469.2 121.2,467.3 121.4,465.7 121.6,464.3 121.8,463.1 122,462.1 122.2,461.3 122.4,460.8 122.6,460.3 122.9,459.9 123.1,459.6 123.3,459.3 123.5,459 123.7,458.6 123.9,458.1 124.1,457.5 124.3,456.8 124.6,456 124.8,455 125,453.8 125.2,452.5 125.4,451.1 125.6,449.5 125.8,447.8 126,446 126.3,444.1 126.5,442.2 126.7,440.2 126.9,438.1 127.1,436.1 127.3,434.1 127.5,432.1 127.7,430.1 128,428.2 128.2,426.5 128.4,424.8 128.6,423.2 128.8,421.7 129,420.4 129.2,419.3 129.4,418.3 129.7,417.5 129.9,416.8 130.1,416.3 130.3,416 130.5,415.8 130.7,415.9 130.9,416.1 131.1,416.4 131.4,417 131.6,417.7 131.8,418.5 132,419.5 132.2,420.7 132.4,421.9 132.6,423.4 132.8,424.9 133.1,426.5 133.3,428.3 133.5,430.1 133.7,432.1 133.9,434.1 134.1,436.2 134.3,438.3 134.5,440.5 134.8,442.7 135,445 135.2,447.3 135.4,449.6 135.6,451.9 135.8,454.2 136,456.6 136.2,458.9 136.5,461.2 136.7,463.4 136.9,465.7 137.1,467.9 137.3,470.1 137.5,472.2 137.7,474.3 137.9,476.3 138.2,478.3 138.4,480.2 138.6,482 138.8,483.8 139,485.5 139.2,487.1 139.4,488.6 139.6,490.1 139.8,491.5 140.1,492.8 140.3,494.1 140.5,495.2 140.7,496.3 140.9,497.3 141.1,498.2 141.3,499 141.5,499.7 141.8,500.4 142,500.9 142.2,501.4 142.4,501.8 142.6,502.1 142.8,502.4 143,502.5 143.2,502.6 143.5,502.6 143.7,502.5 143.9,502.3 144.1,502.1 144.3,501.8 144.5,501.4 144.7,501 144.9,500.4 145.2,499.9 145.4,499.2 145.6,498.5 145.8,497.7 146,496.9 146.2,496 146.4,495 146.6,494 146.9,492.9 147.1,491.8 147.3,490.6 147.5,489.4 147.7,488.2 147.9,486.9 148.1,485.5 148.3,484.1 148.6,482.7 148.8,481.2 149,479.7 149.2,478.2 149.4,476.6 149.6,475 149.8,473.3 150,471.7 150.3,470 150.5,468.3 150.7,466.5 150.9,464.8 151.1,463 151.3,461.2 151.5,459.3 151.7,457.5 152,455.6 152.2,453.8 152.4,451.9 152.6,450 152.8,448.1 153,446.2 153.2,444.2 153.4,442.3 153.7,440.4 153.9,438.4 154.1,436.5 154.3,434.5 154.5,432.5 154.7,430.6 154.9,428.6 155.1,426.7 155.4,424.7 155.6,422.8 155.8,420.8 156,418.8 156.2,416.9 156.4,414.9 157.7,403.1 159,391.6 160.3,380.5 161.7,369.9 163,359.9 164.3,350.5 165.6,341.8 166.9,333.7 168.2,327.7 169.5,321.9 170.8,316.5 172.1,311.4 173.5,306.8 174.8,302.7 176.1,299.1 177.4,295.9 178.7,293.2 180,290.8 181.3,288.9 182.6,287.3 183.9,286 185.3,285 186.6,284.4 187.9,284 189.2,283.9 190.5,284 191.8,284.3 193.1,284.9 194.4,285.6 195.7,286.5 197.1,287.5 198.4,288.7 199.7,290.1 201,291.5 202.3,293.1 203.6,294.8 204.9,296.5 206.2,298.3 207.5,300.2 208.8,302.1 210.2,304.1 211.5,306.2 212.8,308.3 214.1,310.4 215.4,312.5 216.7,314.7 218,316.8 219.3,319 220.6,321.3 222,323.5 225.8,329.9 229.6,336.4 233.4,342.7 237.2,349 241.1,355.1 244.9,361 248.7,366.7 252.5,372.2 256.4,377.5 260.2,382.6 264,387.4 267.8,392.1 271.7,396.5 275.5,400.8 279.3,404.8 283.1,408.6 287,412.3 290.8,415.8 294.6,419.1 298.4,422.3 302.2,425.3 306.1,428.2 309.9,431 313.7,433.6 317.5,436.1 321.4,438.6 325.2,440.9 329,443.1 332.8,445.3 336.7,447.3 340.5,449.3 344.3,451.2 348.1,453.1 351.9,454.9 355.8,456.6 359.6,458.3 363.4,459.9 367.2,461.5 371.1,463 374.9,464.5" stroke="#ff0000"/>
<line x1="346.70" y1="142.31" x2="404.10" y2="142.31" stroke="#ff0000" stroke-width="2.3" stroke-dasharray="7.2 10.3"/><text x="326.30" y="140.41" font-size="17.3">o</text><text x="293.13" y="149.71" font-size="20.7">=90</text><text x="272.94" y="155.81" font-size="16.5">CP</text><text x="262.94" y="149.71" font-size="22">δ</text><text x="262.74" y="149.71" font-size="20.7" text-anchor="end" xml:space="preserve">|=0.04, NH, </text><text x="143.60" y="156.01" font-size="16.5">10</text><text x="131.30" y="149.71" font-size="23.5">α</text><text x="127.16" y="149.71" font-size="20.7">|</text>
<path clip-path="url(#cl)" fill="none" stroke-width="2.4" stroke-linejoin="round" d="M102,31.9 102,471.6 102.1,31.9 102.1,31.9 102.1,77.1 102.1,360 102.1,31.9 102.1,31.9 102.2,31.9 102.2,354.5 102.2,461.7 102.2,31.9 102.2,31.9 102.2,31.9 102.3,31.9 102.3,31.9 102.3,31.9 102.3,31.9 102.3,31.9 102.4,407.5 102.4,362.8 102.4,429.9 102.4,183.7 102.4,31.9 102.4,31.9 102.5,31.9 102.5,31.9 102.5,31.9 102.5,31.9 102.5,31.9 102.5,31.9 102.6,31.9 102.6,31.9 102.6,31.9 102.6,31.9 102.6,31.9 102.6,31.9 102.7,31.9 102.7,31.9 102.7,31.9 102.7,31.9 102.7,31.9 102.8,31.9 102.8,31.9 102.8,341.1 102.8,336.1 102.8,90 102.8,236.9 102.9,513.9 102.9,387.5 102.9,409.2 102.9,483.4 102.9,439.1 102.9,479.9 103,355 103,513.8 103,214.2 103,499.5 103,72.7 103,450.1 103.1,31.9 103.1,393.4 103.1,31.9 103.1,269.7 103.1,31.9 103.2,31.9 103.2,31.9 103.2,31.9 103.2,83 103.2,31.9 103.2,31.9 103.3,31.9 103.3,31.9 103.3,31.9 103.3,31.9 103.3,31.9 103.3,31.9 103.4,31.9 103.4,31.9 103.4,31.9 103.4,31.9 103.4,31.9 103.5,31.9 103.5,31.9 103.5,31.9 103.5,31.9 103.5,31.9 103.5,31.9 103.6,31.9 103.6,31.9 103.6,31.9 103.6,31.9 103.6,31.9 103.6,31.9 103.7,31.9 103.7,31.9 103.7,31.9 103.7,31.9 103.7,31.9 103.7,31.9 103.8,31.9 103.8,31.9 103.8,31.9 103.8,31.9 103.8,31.9 103.9,31.9 103.9,31.9 103.9,31.9 103.9,31.9 103.9,31.9 103.9,31.9 104,31.9 104,31.9 104,31.9 104,31.9 104,31.9 104,31.9 104.1,31.9 104.1,31.9 104.1,31.9 104.1,31.9 104.1,31.9 104.2,31.9 104.2,31.9 104.2,31.9 104.2,31.9 104.2,31.9 104.2,31.9 104.3,31.9 104.3,31.9 104.3,31.9 104.3,31.9 104.3,31.9 104.3,31.9 104.4,31.9 104.4,31.9 104.4,31.9 104.4,31.9 104.4,31.9 104.4,31.9 104.5,31.9 104.5,31.9 104.5,31.9 104.5,31.9 104.5,31.9 104.6,31.9 104.6,31.9 104.6,31.9 104.6,31.9 104.6,31.9 104.6,31.9 104.7,31.9 104.7,31.9 104.7,31.9 104.7,31.9 104.7,31.9 104.7,31.9 104.8,31.9 104.8,31.9 104.8,31.9 104.8,31.9 104.8,31.9 104.8,31.9 104.9,31.9 104.9,31.9 104.9,31.9 104.9,31.9 104.9,31.9 105,31.9 105,31.9 105,31.9 105,31.9 105,31.9 105,31.9 105.1,31.9 105.1,31.9 105.1,31.9 105.1,31.9 105.1,31.9 105.1,31.9 105.2,31.9 105.2,31.9 105.2,31.9 105.2,31.9 105.2,31.9 105.3,31.9 105.3,31.9 105.3,31.9 105.3,31.9 105.3,31.9 105.3,31.9 105.4,31.9 105.4,31.9 105.4,31.9 105.4,31.9 105.4,31.9 105.4,31.9 105.5,31.9 105.5,31.9 105.5,31.9 105.5,31.9 105.5,31.9 105.5,31.9 105.6,31.9 105.6,31.9 105.6,31.9 105.6,31.9 105.6,31.9 105.7,31.9 105.7,31.9 105.7,31.9 105.7,31.9 105.7,31.9 105.7,31.9 105.8,31.9 105.8,31.9 105.8,31.9 105.8,31.9 105.8,31.9 105.8,31.9 105.9,31.9 105.9,31.9 105.9,31.9 105.9,31.9 105.9,31.9 106,31.9 106,31.9 106,31.9 106,40.7 106,48.7 106,31.9 106.1,31.9 106.1,31.9 106.1,31.9 106.1,31.9 106.1,31.9 106.1,31.9 106.2,31.9 106.2,31.9 106.2,31.9 106.2,31.9 106.2,31.9 106.2,31.9 106.3,31.9 106.3,31.9 106.3,31.9 106.3,31.9 106.3,31.9 106.4,31.9 106.4,31.9 106.4,31.9 106.4,70.6 106.4,123.5 106.4,156.8 106.5,169.5 106.5,162 106.5,135.5 106.5,92.1 106.5,34.7 106.5,31.9 106.6,31.9 106.6,31.9 106.6,31.9 106.6,31.9 106.6,31.9 106.6,31.9 106.7,31.9 106.7,31.9 106.7,31.9 106.7,31.9 106.7,31.9 106.8,31.9 106.8,31.9 106.8,31.9 106.8,31.9 106.8,31.9 106.8,31.9 106.9,31.9 106.9,31.9 106.9,43.8 106.9,106.6 106.9,161.4 106.9,206.5 107,241.1 107,264.3 107,275.8 107,275.8 107,264.7 107.1,243.2 107.1,212.5 107.1,173.9 107.1,128.8 107.1,78.9 107.1,31.9 107.2,31.9 107.2,31.9 107.2,31.9 107.2,31.9 107.2,31.9 107.2,31.9 107.3,31.9 107.3,31.9 107.3,31.9 107.4,31.9 107.4,31.9 107.4,31.9 107.5,31.9 107.5,53.8 107.6,154.6 107.6,241.9 107.6,309.1 107.7,351.9 107.7,368.5 107.7,359.3 107.8,326.8 107.8,275.4 107.8,210.3 107.9,137.7 107.9,63.6 108,31.9 108,31.9 108,31.9 108.1,31.9 108.1,31.9 108.1,31.9 108.2,31.9 108.2,31.9 108.2,31.9 108.3,31.9 108.3,87.4 108.4,155.1 108.4,221.1 108.4,282.3 108.5,335.9 108.5,379.7 108.5,412.2 108.6,432.6 108.6,440.5 108.6,436.4 108.7,421.1 108.7,396.1 108.8,363 108.8,323.9 108.8,280.7 108.9,235.6 108.9,190.7 108.9,147.8 109,108.7 109,74.9 109,47.5 109.1,31.9 109.1,31.9 109.2,31.9 109.2,31.9 109.2,31.9 109.3,43.4 109.3,67.6 109.3,97.1 109.4,130.7 109.4,167.4 109.4,206 109.5,245.3 109.5,284.3 109.6,321.9 109.6,357.3 109.6,389.5 109.7,417.9 109.7,442.1 109.7,461.5 109.8,476 109.8,485.4 109.8,489.8 109.9,489.3 109.9,484.2 110,474.9 110,461.7 110,445.1 110.1,425.8 110.1,404.2 110.1,381 110.2,356.7 110.2,332 110.2,307.4 110.3,283.4 110.3,260.4 110.4,239 110.4,219.5 110.4,202.3 110.5,187.5 110.5,175.5 110.5,166.2 110.6,159.9 110.6,156.6 110.6,156.1 110.7,158.5 110.7,163.6 110.8,171.3 110.8,181.4 110.8,193.7 110.9,207.8 110.9,223.6 110.9,240.8 111,259.1 111,278.3 111,297.9 111.1,317.9 111.1,337.9 111.2,357.6 111.2,376.9 111.2,395.4 111.3,413.1 111.3,429.8 111.3,445.2 111.4,459.3 111.4,471.9 111.4,483 111.5,492.5 111.5,500.3 111.6,506.5 111.6,511.1 111.6,514 111.7,515.3 111.7,515.1 111.7,513.3 111.8,510.2 111.8,505.8 111.8,500.1 111.9,493.3 111.9,485.6 112,476.9 112,467.5 112,457.5 112.1,446.9 112.1,436 112.1,424.8 112.2,413.4 112.2,401.9 112.2,390.5 112.3,379.3 112.3,368.3 112.4,357.7 112.4,347.5 112.4,337.7 112.5,328.6 112.5,320 112.5,312.2 112.6,305 112.6,298.6 112.7,293 112.7,288.2 112.7,284.2 112.8,281 112.8,278.6 112.8,277 112.9,276.3 112.9,276.3 112.9,277.1 113,278.7 113,281 113.1,283.9 113.1,287.5 113.1,291.7 113.2,296.5 113.2,301.8 113.2,307.6 113.3,313.8 113.3,320.4 113.3,327.4 113.4,334.6 113.4,342.2 113.5,349.9 113.5,357.8 113.5,365.8 113.6,373.8 113.6,381.9 113.6,390 113.7,398.1 113.7,406.1 113.7,413.9 113.8,421.7 113.8,429.2 113.9,436.5 113.9,443.6 113.9,450.5 114,457.1 114,463.3 114,469.3 114.1,474.9 114.1,480.2 114.1,485.2 114.2,489.8 114.2,494 114.3,497.8 114.3,501.3 114.3,504.4 114.4,507.1 114.4,509.4 114.4,511.4 114.5,513 114.5,514.2 114.5,515.1 114.6,515.6 114.6,515.8 114.7,515.7 114.7,515.2 114.7,514.4 114.8,513.4 114.8,512.1 114.8,510.5 114.9,508.6 114.9,506.5 114.9,504.2 115,501.7 115,499 115.1,496.1 115.1,493 115.1,489.8 115.2,486.5 115.2,483 115.2,479.5 115.3,475.8 115.3,472.1 115.3,468.2 115.4,464.4 115.4,460.5 115.5,456.6 115.5,452.7 115.5,448.7 115.6,444.8 115.6,440.9 115.6,437 115.7,433.2 115.7,429.4 115.7,425.7 115.8,422 115.8,418.4 115.9,414.9 115.9,411.5 115.9,408.2 116,405 116,401.9 116,398.9 116.1,396 116.1,393.2 116.1,390.6 116.2,388.1 116.2,385.7 116.3,383.4 116.3,381.3 116.3,379.3 116.4,377.5 116.4,375.7 116.4,374.2 116.5,372.7 116.5,371.4 116.5,370.2 116.6,369.2 116.6,368.3 116.7,367.5 116.7,366.9 116.7,366.3 116.8,365.9 116.8,365.7 116.8,365.5 116.9,365.5 116.9,365.6 116.9,365.8 117,366.1 117,366.6 117.1,367.1 117.1,367.7 117.1,368.5 117.2,369.3 117.2,370.2 117.2,371.2 117.3,372.3 117.3,373.5 117.3,374.8 117.4,376.1 117.4,377.5 117.5,378.9 117.5,380.5 117.5,382.1 117.6,383.7 117.6,385.4 117.6,387.2 117.7,388.9 117.7,390.8 117.7,392.7 117.8,394.6 117.8,396.5 117.9,398.5 117.9,400.5 117.9,402.5 118,404.6 118,406.6 118,408.7 118.1,410.8 118.1,412.9 118.1,415 118.2,417.1 118.4,429.4 118.6,441.3 118.8,452.5 119,462.8 119.2,471.8 119.5,479.7 119.7,486.2 119.9,491.3 120.1,495.2 120.3,497.8 120.5,499.2 120.7,499.5 120.9,498.8 121.2,497.2 121.4,494.8 121.6,491.7 121.8,488 122,483.8 122.2,479.1 122.4,474.2 122.6,469 122.9,463.6 123.1,458.1 123.3,452.5 123.5,447 123.7,441.5 123.9,436.1 124.1,430.9 124.3,425.8 124.6,420.9 124.8,416.3 125,411.9 125.2,407.8 125.4,404 125.6,400.5 125.8,397.4 126,394.6 126.3,392.1 126.5,390 126.7,388.2 126.9,386.8 127.1,385.7 127.3,384.9 127.5,384.5 127.7,384.4 128,384.6 128.2,385.1 128.4,385.8 128.6,386.9 128.8,388.2 129,389.8 129.2,391.6 129.4,393.7 129.7,395.9 129.9,398.3 130.1,400.9 130.3,403.7 130.5,406.5 130.7,409.6 130.9,412.7 131.1,415.9 131.4,419.2 131.6,422.5 131.8,426 132,429.4 132.2,432.9 132.4,436.4 132.6,439.8 132.8,443.3 133.1,446.7 133.3,450.2 133.5,453.5 133.7,456.8 133.9,460.1 134.1,463.3 134.3,466.4 134.5,469.4 134.8,472.3 135,475.2 135.2,477.9 135.4,480.6 135.6,483.1 135.8,485.5 136,487.8 136.2,490 136.5,492.1 136.7,494 136.9,495.8 137.1,497.5 137.3,499 137.5,500.5 137.7,501.8 137.9,503 138.2,504 138.4,504.9 138.6,505.7 138.8,506.4 139,507 139.2,507.4 139.4,507.7 139.6,507.9 139.8,508 140.1,508 140.3,507.8 140.5,507.6 140.7,507.2 140.9,506.7 141.1,506.2 141.3,505.5 141.5,504.8 141.8,503.9 142,503 142.2,501.9 142.4,500.8 142.6,499.6 142.8,498.3 143,497 143.2,495.6 143.5,494.1 143.7,492.5 143.9,490.9 144.1,489.2 144.3,487.4 144.5,485.6 144.7,483.8 144.9,481.9 145.2,479.9 145.4,477.9 145.6,475.9 145.8,473.8 146,471.6 146.2,469.5 146.4,467.3 146.6,465.1 146.9,462.8 147.1,460.5 147.3,458.2 147.5,455.9 147.7,453.5 147.9,451.2 148.1,448.8 148.3,446.4 148.6,444 148.8,441.6 149,439.1 149.2,436.7 149.4,434.2 149.6,431.8 149.8,429.3 150,426.9 150.3,424.4 150.5,422 150.7,419.5 150.9,417.1 151.1,414.6 151.3,412.2 151.5,409.8 151.7,407.3 152,404.9 152.2,402.5 152.4,400.1 152.6,397.8 152.8,395.4 153,393 153.2,390.7 153.4,388.4 153.7,386.1 153.9,383.8 154.1,381.5 154.3,379.2 154.5,377 154.7,374.8 154.9,372.6 155.1,370.4 155.4,368.2 155.6,366.1 155.8,364 156,361.9 156.2,359.8 156.4,357.8 157.7,345.6 159,334.3 160.3,324.4 161.7,318.1 163,311.9 164.3,306.1 165.6,300.7 166.9,295.7 168.2,291.2 169.5,287.3 170.8,284 172.1,281.3 173.5,279.3 174.8,277.8 176.1,276.9 177.4,276.5 178.7,276.6 180,277 181.3,277.9 182.6,279 183.9,280.5 185.3,282.2 186.6,284.1 187.9,286.3 189.2,288.6 190.5,291 191.8,293.6 193.1,296.3 194.4,299.1 195.7,301.9 197.1,304.8 198.4,307.8 199.7,310.7 201,313.8 202.3,316.8 203.6,319.8 204.9,322.9 206.2,325.9 207.5,329 208.8,332 210.2,335 211.5,338 212.8,341 214.1,343.9 215.4,346.8 216.7,349.7 218,352.6 219.3,355.4 220.6,358.2 222,361 225.8,368.8 229.6,376.3 233.4,383.5 237.2,390.3 241.1,396.8 244.9,403 248.7,408.8 252.5,414.3 256.4,419.6 260.2,424.5 264,429.1 267.8,433.5 271.7,437.7 275.5,441.6 279.3,445.3 283.1,448.8 287,452 290.8,455.1 294.6,458.1 298.4,460.8 302.2,463.4 306.1,465.9 309.9,468.2 313.7,470.4 317.5,472.5 321.4,474.5 325.2,476.4 329,478.2 332.8,479.9 336.7,481.6 340.5,483.1 344.3,484.6 348.1,486 351.9,487.3 355.8,488.6 359.6,489.9 363.4,491 367.2,492.2 371.1,493.2 374.9,494.3" stroke="#ff0000" stroke-dasharray="6.8 7.7"/>
<line x1="346.70" y1="163.18" x2="404.10" y2="163.18" stroke="#000000" stroke-width="2.3"/><text x="326.30" y="161.28" font-size="17.3">o</text><text x="286.23" y="170.58" font-size="20.7">=-90</text><text x="266.05" y="176.68" font-size="16.5">CP</text><text x="256.05" y="170.58" font-size="22">δ</text><text x="255.85" y="170.58" font-size="20.7" text-anchor="end" xml:space="preserve">SI, IH, </text>
<path clip-path="url(#cl)" fill="none" stroke-width="2.4" stroke-linejoin="round" d="M102,31.9 102,134 102.1,31.9 102.1,31.9 102.1,31.9 102.1,474.1 102.1,31.9 102.1,31.9 102.2,31.9 102.2,31.9 102.2,232.1 102.2,508.2 102.2,31.9 102.2,31.9 102.3,31.9 102.3,31.9 102.3,31.9 102.3,31.9 102.3,31.9 102.4,31.9 102.4,31.9 102.4,463.1 102.4,502.1 102.4,429.1 102.4,215.5 102.5,31.9 102.5,72.2 102.5,31.9 102.5,31.9 102.5,31.9 102.5,31.9 102.6,31.9 102.6,31.9 102.6,31.9 102.6,31.9 102.6,31.9 102.6,31.9 102.7,31.9 102.7,31.9 102.7,31.9 102.7,31.9 102.7,31.9 102.8,31.9 102.8,31.9 102.8,31.9 102.8,31.9 102.8,31.9 102.8,31.9 102.9,215.5 102.9,31.9 102.9,108.6 102.9,363.8 102.9,31.9 102.9,470.9 103,276.3 103,421.7 103,430 103,436.3 103,459.4 103,469.9 103.1,438 103.1,462.2 103.1,430.1 103.1,364 103.1,477.4 103.2,189.7 103.2,490 103.2,138.2 103.2,230.1 103.2,352.4 103.2,31.9 103.3,291.2 103.3,81 103.3,31.9 103.3,234.8 103.3,31.9 103.3,31.9 103.4,80.5 103.4,31.9 103.4,31.9 103.4,31.9 103.4,31.9 103.5,31.9 103.5,31.9 103.5,31.9 103.5,31.9 103.5,31.9 103.5,31.9 103.6,31.9 103.6,31.9 103.6,31.9 103.6,31.9 103.6,31.9 103.6,31.9 103.7,31.9 103.7,31.9 103.7,31.9 103.7,31.9 103.7,31.9 103.7,31.9 103.8,31.9 103.8,31.9 103.8,31.9 103.8,31.9 103.8,31.9 103.9,31.9 103.9,31.9 103.9,31.9 103.9,31.9 103.9,31.9 103.9,31.9 104,31.9 104,31.9 104,31.9 104,31.9 104,31.9 104,31.9 104.1,31.9 104.1,31.9 104.1,31.9 104.1,31.9 104.1,31.9 104.2,31.9 104.2,31.9 104.2,31.9 104.2,31.9 104.2,31.9 104.2,31.9 104.3,31.9 104.3,31.9 104.3,31.9 104.3,31.9 104.3,31.9 104.3,31.9 104.4,31.9 104.4,31.9 104.4,31.9 104.4,31.9 104.4,31.9 104.4,31.9 104.5,31.9 104.5,31.9 104.5,31.9 104.5,31.9 104.5,31.9 104.6,31.9 104.6,31.9 104.6,31.9 104.6,31.9 104.6,31.9 104.6,31.9 104.7,31.9 104.7,31.9 104.7,31.9 104.7,31.9 104.7,31.9 104.7,31.9 104.8,31.9 104.8,31.9 104.8,31.9 104.8,31.9 104.8,31.9 104.8,31.9 104.9,31.9 104.9,31.9 104.9,31.9 104.9,31.9 104.9,31.9 105,31.9 105,31.9 105,31.9 105,31.9 105,31.9 105,31.9 105.1,31.9 105.1,31.9 105.1,31.9 105.1,31.9 105.1,31.9 105.1,31.9 105.2,31.9 105.2,31.9 105.2,31.9 105.2,31.9 105.2,31.9 105.3,31.9 105.3,31.9 105.3,31.9 105.3,31.9 105.3,31.9 105.3,31.9 105.4,31.9 105.4,31.9 105.4,31.9 105.4,31.9 105.4,31.9 105.4,31.9 105.5,31.9 105.5,31.9 105.5,31.9 105.5,31.9 105.5,31.9 105.5,31.9 105.6,31.9 105.6,31.9 105.6,31.9 105.6,31.9 105.6,31.9 105.7,31.9 105.7,31.9 105.7,31.9 105.7,31.9 105.7,31.9 105.7,31.9 105.8,31.9 105.8,31.9 105.8,31.9 105.8,31.9 105.8,31.9 105.8,31.9 105.9,31.9 105.9,31.9 105.9,31.9 105.9,31.9 105.9,31.9 106,31.9 106,31.9 106,31.9 106,31.9 106,31.9 106,31.9 106.1,31.9 106.1,31.9 106.1,31.9 106.1,31.9 106.1,31.9 106.1,31.9 106.2,31.9 106.2,31.9 106.2,31.9 106.2,31.9 106.2,31.9 106.2,31.9 106.3,31.9 106.3,31.9 106.3,31.9 106.3,31.9 106.3,31.9 106.4,31.9 106.4,31.9 106.4,31.9 106.4,31.9 106.4,31.9 106.4,31.9 106.5,31.9 106.5,31.9 106.5,31.9 106.5,31.9 106.5,31.9 106.5,31.9 106.6,31.9 106.6,31.9 106.6,31.9 106.6,31.9 106.6,31.9 106.6,31.9 106.7,31.9 106.7,31.9 106.7,31.9 106.7,31.9 106.7,31.9 106.8,31.9 106.8,31.9 106.8,31.9 106.8,31.9 106.8,31.9 106.8,31.9 106.9,31.9 106.9,31.9 106.9,31.9 106.9,31.9 106.9,31.9 106.9,31.9 107,31.9 107,31.9 107,31.9 107,31.9 107,31.9 107.1,31.9 107.1,31.9 107.1,31.9 107.1,31.9 107.1,31.9 107.1,31.9 107.2,31.9 107.2,31.9 107.2,31.9 107.2,31.9 107.2,31.9 107.2,31.9 107.3,31.9 107.3,31.9 107.3,31.9 107.4,31.9 107.4,31.9 107.4,31.9 107.5,31.9 107.5,31.9 107.6,31.9 107.6,31.9 107.6,31.9 107.7,31.9 107.7,31.9 107.7,31.9 107.8,31.9 107.8,31.9 107.8,31.9 107.9,31.9 107.9,31.9 108,31.9 108,31.9 108,31.9 108.1,31.9 108.1,31.9 108.1,31.9 108.2,31.9 108.2,31.9 108.2,31.9 108.3,31.9 108.3,31.9 108.4,31.9 108.4,31.9 108.4,31.9 108.5,31.9 108.5,31.9 108.5,31.9 108.6,31.9 108.6,31.9 108.6,31.9 108.7,31.9 108.7,31.9 108.8,31.9 108.8,31.9 108.8,31.9 108.9,31.9 108.9,31.9 108.9,31.9 109,31.9 109,31.9 109,31.9 109.1,47.1 109.1,75.2 109.2,88.4 109.2,86.8 109.2,71.2 109.3,42.9 109.3,31.9 109.3,31.9 109.4,31.9 109.4,31.9 109.4,31.9 109.5,31.9 109.5,31.9 109.6,31.9 109.6,31.9 109.6,31.9 109.7,31.9 109.7,31.9 109.7,31.9 109.8,31.9 109.8,31.9 109.8,31.9 109.9,31.9 109.9,31.9 110,31.9 110,31.9 110,31.9 110.1,31.9 110.1,31.9 110.1,31.9 110.2,31.9 110.2,31.9 110.2,31.9 110.3,31.9 110.3,31.9 110.4,31.9 110.4,45.2 110.4,86.8 110.5,122.8 110.5,153 110.5,176.9 110.6,194.4 110.6,205.5 110.6,210.2 110.7,208.7 110.7,201.3 110.8,188.3 110.8,170.1 110.8,147.2 110.9,120.2 110.9,89.6 110.9,56 111,31.9 111,31.9 111,31.9 111.1,31.9 111.1,31.9 111.2,31.9 111.2,31.9 111.2,31.9 111.3,31.9 111.3,31.9 111.3,31.9 111.4,31.9 111.4,31.9 111.4,31.9 111.5,31.9 111.5,31.9 111.6,31.9 111.6,31.9 111.6,31.9 111.7,31.9 111.7,31.9 111.7,31.9 111.8,31.9 111.8,31.9 111.8,31.9 111.9,31.9 111.9,31.9 112,31.9 112,31.9 112,31.9 112.1,31.9 112.1,31.9 112.1,31.9 112.2,31.9 112.2,31.9 112.2,31.9 112.3,31.9 112.3,44.8 112.4,75.7 112.4,105.3 112.4,133.5 112.5,160.1 112.5,184.9 112.5,207.8 112.6,228.6 112.6,247.4 112.7,263.9 112.7,278.2 112.7,290.3 112.8,300 112.8,307.4 112.8,312.6 112.9,315.5 112.9,316.3 112.9,314.9 113,311.4 113,305.9 113.1,298.6 113.1,289.4 113.1,278.6 113.2,266.2 113.2,252.4 113.2,237.3 113.3,221 113.3,203.7 113.3,185.4 113.4,166.4 113.4,146.7 113.5,126.6 113.5,106 113.5,85.2 113.6,64.3 113.6,43.4 113.6,31.9 113.7,31.9 113.7,31.9 113.7,31.9 113.8,31.9 113.8,31.9 113.9,31.9 113.9,31.9 113.9,31.9 114,31.9 114,31.9 114,31.9 114.1,31.9 114.1,31.9 114.1,31.9 114.2,31.9 114.2,31.9 114.3,31.9 114.3,31.9 114.3,31.9 114.4,31.9 114.4,31.9 114.4,31.9 114.5,31.9 114.5,31.9 114.5,31.9 114.6,31.9 114.6,31.9 114.7,31.9 114.7,31.9 114.7,31.9 114.8,31.9 114.8,31.9 114.8,31.9 114.9,31.9 114.9,31.9 114.9,31.9 115,31.9 115,31.9 115.1,31.9 115.1,31.9 115.1,31.9 115.2,31.9 115.2,31.9 115.2,31.9 115.3,31.9 115.3,31.9 115.3,40.4 115.4,57 115.4,73.7 115.5,90.2 115.5,106.7 115.5,123 115.6,139.1 115.6,154.9 115.6,170.5 115.7,185.7 115.7,200.6 115.7,215.1 115.8,229.3 115.8,243 115.9,256.2 115.9,268.9 115.9,281.1 116,292.9 116,304 116,314.6 116.1,324.7 116.1,334.1 116.1,343 116.2,351.3 116.2,358.9 116.3,365.9 116.3,372.4 116.3,378.2 116.4,383.4 116.4,387.9 116.4,391.9 116.5,395.2 116.5,398 116.5,400.1 116.6,401.7 116.6,402.7 116.7,403.1 116.7,403 116.7,402.3 116.8,401 116.8,399.3 116.8,397 116.9,394.3 116.9,391.1 116.9,387.4 117,383.3 117,378.8 117.1,373.8 117.1,368.5 117.1,362.8 117.2,356.7 117.2,350.3 117.2,343.6 117.3,336.6 117.3,329.3 117.3,321.8 117.4,314 117.4,306 117.5,297.8 117.5,289.5 117.5,280.9 117.6,272.3 117.6,263.4 117.6,254.5 117.7,245.5 117.7,236.5 117.7,227.3 117.8,218.2 117.8,209 117.9,199.8 117.9,190.6 117.9,181.4 118,172.3 118,163.2 118,154.2 118.1,145.2 118.1,136.4 118.1,127.7 118.2,119.1 118.4,71.7 118.6,31.9 118.8,31.9 119,31.9 119.2,31.9 119.5,31.9 119.7,31.9 119.9,31.9 120.1,31.9 120.3,31.9 120.5,31.9 120.7,61.3 120.9,96 121.2,132.5 121.4,169.9 121.6,207.2 121.8,243.6 122,278.5 122.2,311.3 122.4,341.6 122.6,368.9 122.9,393 123.1,413.8 123.3,431.1 123.5,445 123.7,455.4 123.9,462.5 124.1,466.4 124.3,467.4 124.6,465.5 124.8,461.1 125,454.4 125.2,445.6 125.4,435 125.6,422.9 125.8,409.4 126,394.9 126.3,379.5 126.5,363.5 126.7,347.2 126.9,330.6 127.1,313.9 127.3,297.4 127.5,281.2 127.7,265.4 128,250 128.2,235.3 128.4,221.3 128.6,208.1 128.8,195.7 129,184.2 129.2,173.7 129.4,164 129.7,155.4 129.9,147.7 130.1,141 130.3,135.3 130.5,130.5 130.7,126.7 130.9,123.8 131.1,121.8 131.4,120.7 131.6,120.4 131.8,120.9 132,122.1 132.2,124.1 132.4,126.8 132.6,130.1 132.8,134 133.1,138.5 133.3,143.6 133.5,149.1 133.7,155 133.9,161.4 134.1,168.1 134.3,175.2 134.5,182.5 134.8,190.1 135,198 135.2,206 135.4,214.2 135.6,222.5 135.8,231 136,239.5 136.2,248.1 136.5,256.7 136.7,265.3 136.9,273.9 137.1,282.5 137.3,291 137.5,299.5 137.7,307.8 137.9,316.1 138.2,324.3 138.4,332.3 138.6,340.2 138.8,348 139,355.6 139.2,363 139.4,370.3 139.6,377.4 139.8,384.3 140.1,391 140.3,397.6 140.5,403.9 140.7,410 140.9,416 141.1,421.7 141.3,427.3 141.5,432.6 141.8,437.7 142,442.6 142.2,447.3 142.4,451.9 142.6,456.2 142.8,460.3 143,464.2 143.2,467.9 143.5,471.4 143.7,474.8 143.9,477.9 144.1,480.8 144.3,483.6 144.5,486.2 144.7,488.6 144.9,490.9 145.2,493 145.4,494.9 145.6,496.6 145.8,498.2 146,499.6 146.2,500.9 146.4,502.1 146.6,503.1 146.9,503.9 147.1,504.7 147.3,505.3 147.5,505.7 147.7,506.1 147.9,506.3 148.1,506.4 148.3,506.4 148.6,506.3 148.8,506.1 149,505.8 149.2,505.4 149.4,504.9 149.6,504.3 149.8,503.7 150,502.9 150.3,502.1 150.5,501.2 150.7,500.2 150.9,499.1 151.1,498 151.3,496.8 151.5,495.6 151.7,494.3 152,492.9 152.2,491.5 152.4,490 152.6,488.5 152.8,487 153,485.4 153.2,483.7 153.4,482.1 153.7,480.4 153.9,478.6 154.1,476.9 154.3,475.1 154.5,473.2 154.7,471.4 154.9,469.5 155.1,467.6 155.4,465.7 155.6,463.8 155.8,461.8 156,459.8 156.2,457.9 156.4,455.9 157.7,443.4 159,430.8 160.3,418.4 161.7,406.3 163,394.7 164.3,383.6 165.6,373.2 166.9,363.4 168.2,354.3 169.5,346 170.8,338.3 172.1,331.4 173.5,325.4 174.8,320 176.1,315.1 177.4,310.7 178.7,306.9 180,303.6 181.3,300.7 182.6,298.2 183.9,296.2 185.3,294.5 186.6,293.2 187.9,292.2 189.2,291.5 190.5,291.1 191.8,291 193.1,291.1 194.4,291.4 195.7,292 197.1,292.7 198.4,293.7 199.7,294.7 201,296 202.3,297.3 203.6,298.8 204.9,300.3 206.2,302 207.5,303.7 208.8,305.5 210.2,307.4 211.5,309.3 212.8,311.3 214.1,313.3 215.4,315.4 216.7,317.5 218,319.6 219.3,321.7 220.6,323.8 222,326 225.8,332.2 229.6,338.5 233.4,344.7 237.2,350.8 241.1,356.7 244.9,362.5 248.7,368 252.5,373.4 256.4,378.6 260.2,383.5 264,388.3 267.8,392.9 271.7,397.3 275.5,401.5 279.3,405.5 283.1,409.3 287,412.9 290.8,416.4 294.6,419.8 298.4,422.9 302.2,426 306.1,428.9 309.9,431.7 313.7,434.3 317.5,436.9 321.4,439.3 325.2,441.6 329,443.9 332.8,446 336.7,448.1 340.5,450 344.3,451.9 348.1,453.7 351.9,455.4 355.8,457.1 359.6,458.7 363.4,460.2 367.2,461.7 371.1,463.1 374.9,464.5" stroke="#000000"/>
<line x1="346.70" y1="184.05" x2="404.10" y2="184.05" stroke="#000000" stroke-width="2.3" stroke-dasharray="7.2 10.3"/><text x="326.30" y="182.15" font-size="17.3">o</text><text x="286.23" y="191.45" font-size="20.7">=-90</text><text x="266.05" y="197.55" font-size="16.5">CP</text><text x="256.05" y="191.45" font-size="22">δ</text><text x="255.85" y="191.45" font-size="20.7" text-anchor="end" xml:space="preserve">|=0.03, IH, </text><text x="144.76" y="197.75" font-size="16.5">10</text><text x="132.46" y="191.45" font-size="23.5">α</text><text x="128.32" y="191.45" font-size="20.7">|</text>
<path clip-path="url(#cl)" fill="none" stroke-width="2.4" stroke-linejoin="round" d="M102,31.9 102,113.4 102.1,31.9 102.1,31.9 102.1,31.9 102.1,446.6 102.1,31.9 102.1,31.9 102.2,31.9 102.2,31.9 102.2,267.2 102.2,504.5 102.2,31.9 102.2,31.9 102.3,31.9 102.3,31.9 102.3,31.9 102.3,31.9 102.3,31.9 102.4,31.9 102.4,31.9 102.4,478.3 102.4,483.2 102.4,405 102.4,203 102.5,31.9 102.5,98.3 102.5,31.9 102.5,31.9 102.5,31.9 102.5,31.9 102.6,31.9 102.6,31.9 102.6,31.9 102.6,31.9 102.6,31.9 102.6,31.9 102.7,31.9 102.7,31.9 102.7,31.9 102.7,31.9 102.7,31.9 102.8,31.9 102.8,31.9 102.8,31.9 102.8,31.9 102.8,31.9 102.8,31.9 102.9,239.1 102.9,31.9 102.9,87.4 102.9,388 102.9,38.5 102.9,455.2 103,306.3 103,392.8 103,459.3 103,408.6 103,484.5 103,442.6 103.1,463.2 103.1,433.2 103.1,455.9 103.1,338.7 103.1,493.5 103.2,183.9 103.2,481.8 103.2,159.1 103.2,207.7 103.2,370.6 103.2,31.9 103.3,277.7 103.3,106.4 103.3,31.9 103.3,228.9 103.3,31.9 103.3,31.9 103.4,75.9 103.4,31.9 103.4,31.9 103.4,31.9 103.4,31.9 103.5,31.9 103.5,31.9 103.5,31.9 103.5,31.9 103.5,31.9 103.5,31.9 103.6,31.9 103.6,31.9 103.6,31.9 103.6,31.9 103.6,31.9 103.6,31.9 103.7,31.9 103.7,31.9 103.7,31.9 103.7,31.9 103.7,31.9 103.7,31.9 103.8,31.9 103.8,31.9 103.8,31.9 103.8,31.9 103.8,31.9 103.9,31.9 103.9,31.9 103.9,31.9 103.9,31.9 103.9,31.9 103.9,31.9 104,31.9 104,31.9 104,31.9 104,31.9 104,31.9 104,31.9 104.1,31.9 104.1,31.9 104.1,31.9 104.1,31.9 104.1,31.9 104.2,31.9 104.2,31.9 104.2,31.9 104.2,31.9 104.2,31.9 104.2,31.9 104.3,31.9 104.3,31.9 104.3,31.9 104.3,31.9 104.3,31.9 104.3,31.9 104.4,31.9 104.4,31.9 104.4,31.9 104.4,31.9 104.4,31.9 104.4,31.9 104.5,31.9 104.5,31.9 104.5,31.9 104.5,31.9 104.5,31.9 104.6,31.9 104.6,31.9 104.6,31.9 104.6,31.9 104.6,31.9 104.6,31.9 104.7,31.9 104.7,31.9 104.7,31.9 104.7,31.9 104.7,31.9 104.7,31.9 104.8,31.9 104.8,31.9 104.8,31.9 104.8,31.9 104.8,31.9 104.8,31.9 104.9,31.9 104.9,31.9 104.9,31.9 104.9,31.9 104.9,31.9 105,31.9 105,31.9 105,31.9 105,31.9 105,31.9 105,31.9 105.1,31.9 105.1,31.9 105.1,31.9 105.1,31.9 105.1,31.9 105.1,31.9 105.2,31.9 105.2,31.9 105.2,31.9 105.2,31.9 105.2,31.9 105.3,31.9 105.3,31.9 105.3,31.9 105.3,31.9 105.3,31.9 105.3,31.9 105.4,31.9 105.4,31.9 105.4,31.9 105.4,31.9 105.4,31.9 105.4,31.9 105.5,31.9 105.5,31.9 105.5,31.9 105.5,31.9 105.5,31.9 105.5,31.9 105.6,31.9 105.6,31.9 105.6,31.9 105.6,31.9 105.6,31.9 105.7,31.9 105.7,31.9 105.7,31.9 105.7,31.9 105.7,31.9 105.7,31.9 105.8,31.9 105.8,31.9 105.8,31.9 105.8,31.9 105.8,31.9 105.8,31.9 105.9,31.9 105.9,31.9 105.9,31.9 105.9,31.9 105.9,31.9 106,31.9 106,31.9 106,31.9 106,31.9 106,31.9 106,31.9 106.1,31.9 106.1,31.9 106.1,31.9 106.1,31.9 106.1,31.9 106.1,31.9 106.2,31.9 106.2,31.9 106.2,31.9 106.2,31.9 106.2,31.9 106.2,31.9 106.3,31.9 106.3,31.9 106.3,31.9 106.3,31.9 106.3,31.9 106.4,31.9 106.4,31.9 106.4,31.9 106.4,31.9 106.4,31.9 106.4,31.9 106.5,31.9 106.5,31.9 106.5,31.9 106.5,31.9 106.5,31.9 106.5,31.9 106.6,31.9 106.6,31.9 106.6,31.9 106.6,31.9 106.6,31.9 106.6,31.9 106.7,31.9 106.7,31.9 106.7,31.9 106.7,31.9 106.7,31.9 106.8,31.9 106.8,31.9 106.8,31.9 106.8,31.9 106.8,31.9 106.8,31.9 106.9,31.9 106.9,31.9 106.9,31.9 106.9,31.9 106.9,31.9 106.9,31.9 107,31.9 107,31.9 107,31.9 107,31.9 107,31.9 107.1,31.9 107.1,31.9 107.1,31.9 107.1,31.9 107.1,31.9 107.1,31.9 107.2,31.9 107.2,31.9 107.2,31.9 107.2,31.9 107.2,31.9 107.2,31.9 107.3,31.9 107.3,31.9 107.3,31.9 107.4,31.9 107.4,31.9 107.4,31.9 107.5,31.9 107.5,31.9 107.6,31.9 107.6,31.9 107.6,31.9 107.7,31.9 107.7,31.9 107.7,31.9 107.8,31.9 107.8,31.9 107.8,31.9 107.9,31.9 107.9,31.9 108,31.9 108,31.9 108,31.9 108.1,31.9 108.1,31.9 108.1,31.9 108.2,31.9 108.2,31.9 108.2,31.9 108.3,31.9 108.3,31.9 108.4,31.9 108.4,31.9 108.4,31.9 108.5,31.9 108.5,31.9 108.5,31.9 108.6,31.9 108.6,31.9 108.6,31.9 108.7,31.9 108.7,31.9 108.8,31.9 108.8,31.9 108.8,31.9 108.9,31.9 108.9,31.9 108.9,31.9 109,31.9 109,31.9 109,31.9 109.1,62.1 109.1,84.9 109.2,92.7 109.2,85.8 109.2,65.3 109.3,32.4 109.3,31.9 109.3,31.9 109.4,31.9 109.4,31.9 109.4,31.9 109.5,31.9 109.5,31.9 109.6,31.9 109.6,31.9 109.6,31.9 109.7,31.9 109.7,31.9 109.7,31.9 109.8,31.9 109.8,31.9 109.8,31.9 109.9,31.9 109.9,31.9 110,31.9 110,31.9 110,31.9 110.1,31.9 110.1,31.9 110.1,31.9 110.2,31.9 110.2,31.9 110.2,31.9 110.3,31.9 110.3,31.9 110.4,31.9 110.4,70.8 110.4,109.5 110.5,142.4 110.5,169.1 110.5,189.4 110.6,203.2 110.6,210.5 110.6,211.4 110.7,206.2 110.7,195.2 110.8,178.8 110.8,157.4 110.8,131.7 110.9,102 110.9,69.1 110.9,33.6 111,31.9 111,31.9 111,31.9 111.1,31.9 111.1,31.9 111.2,31.9 111.2,31.9 111.2,31.9 111.3,31.9 111.3,31.9 111.3,31.9 111.4,31.9 111.4,31.9 111.4,31.9 111.5,31.9 111.5,31.9 111.6,31.9 111.6,31.9 111.6,31.9 111.7,31.9 111.7,31.9 111.7,31.9 111.8,31.9 111.8,31.9 111.8,31.9 111.9,31.9 111.9,31.9 112,31.9 112,31.9 112,31.9 112.1,31.9 112.1,31.9 112.1,31.9 112.2,31.9 112.2,31.9 112.2,31.9 112.3,43.7 112.3,74.9 112.4,104.9 112.4,133.4 112.4,160.2 112.5,185.2 112.5,208.2 112.5,229.2 112.6,248.1 112.6,264.7 112.7,279 112.7,291 112.7,300.7 112.8,308 112.8,313 112.8,315.8 112.9,316.2 112.9,314.6 112.9,310.8 113,305 113,297.3 113.1,287.7 113.1,276.5 113.1,263.7 113.2,249.5 113.2,234 113.2,217.2 113.3,199.5 113.3,180.8 113.3,161.4 113.4,141.3 113.4,120.8 113.5,99.9 113.5,78.8 113.5,57.6 113.6,36.5 113.6,31.9 113.6,31.9 113.7,31.9 113.7,31.9 113.7,31.9 113.8,31.9 113.8,31.9 113.9,31.9 113.9,31.9 113.9,31.9 114,31.9 114,31.9 114,31.9 114.1,31.9 114.1,31.9 114.1,31.9 114.2,31.9 114.2,31.9 114.3,31.9 114.3,31.9 114.3,31.9 114.4,31.9 114.4,31.9 114.4,31.9 114.5,31.9 114.5,31.9 114.5,31.9 114.6,31.9 114.6,31.9 114.7,31.9 114.7,31.9 114.7,31.9 114.8,31.9 114.8,31.9 114.8,31.9 114.9,31.9 114.9,31.9 114.9,31.9 115,31.9 115,31.9 115.1,31.9 115.1,31.9 115.1,31.9 115.2,31.9 115.2,31.9 115.2,31.9 115.3,36.9 115.3,53.8 115.3,70.7 115.4,87.5 115.4,104.2 115.5,120.8 115.5,137.1 115.5,153.2 115.6,169 115.6,184.5 115.6,199.7 115.7,214.4 115.7,228.7 115.7,242.6 115.8,256 115.8,268.9 115.9,281.3 115.9,293.2 115.9,304.4 116,315.1 116,325.3 116,334.8 116.1,343.7 116.1,352 116.1,359.6 116.2,366.6 116.2,373 116.3,378.8 116.3,383.9 116.3,388.4 116.4,392.2 116.4,395.4 116.4,398 116.5,400 116.5,401.4 116.5,402.2 116.6,402.4 116.6,402 116.7,401 116.7,399.6 116.7,397.5 116.8,395 116.8,392 116.8,388.5 116.9,384.5 116.9,380.1 116.9,375.2 117,369.9 117,364.3 117.1,358.2 117.1,351.9 117.1,345.1 117.2,338.1 117.2,330.8 117.2,323.2 117.3,315.3 117.3,307.2 117.3,298.9 117.4,290.4 117.4,281.8 117.5,272.9 117.5,264 117.5,254.9 117.6,245.7 117.6,236.4 117.6,227.1 117.7,217.8 117.7,208.4 117.7,199 117.8,189.6 117.8,180.2 117.9,170.9 117.9,161.6 117.9,152.4 118,143.3 118,134.2 118,125.3 118.1,116.5 118.1,107.9 118.1,99.3 118.2,91 118.4,45.9 118.6,31.9 118.8,31.9 119,31.9 119.2,31.9 119.5,31.9 119.7,31.9 119.9,31.9 120.1,31.9 120.3,31.9 120.5,50.3 120.7,85.3 120.9,122.5 121.2,160.8 121.4,199.2 121.6,236.8 121.8,272.9 122,306.9 122.2,338.2 122.4,366.5 122.6,391.5 122.9,412.9 123.1,430.6 123.3,444.7 123.5,455.2 123.7,462.1 123.9,465.8 124.1,466.2 124.3,463.8 124.6,458.7 124.8,451.1 125,441.5 125.2,429.9 125.4,416.8 125.6,402.4 125.8,386.9 126,370.6 126.3,353.8 126.5,336.6 126.7,319.3 126.9,302 127.1,285 127.3,268.3 127.5,252.1 127.7,236.6 128,221.8 128.2,207.8 128.4,194.6 128.6,182.5 128.8,171.3 129,161.1 129.2,152 129.4,143.9 129.7,136.9 129.9,131 130.1,126 130.3,122.2 130.5,119.3 130.7,117.4 130.9,116.4 131.1,116.3 131.4,117.1 131.6,118.7 131.8,121.1 132,124.2 132.2,128 132.4,132.5 132.6,137.5 132.8,143.2 133.1,149.3 133.3,155.9 133.5,162.9 133.7,170.2 133.9,177.9 134.1,185.9 134.3,194.2 134.5,202.7 134.8,211.4 135,220.2 135.2,229.1 135.4,238.2 135.6,247.3 135.8,256.4 136,265.5 136.2,274.6 136.5,283.7 136.7,292.7 136.9,301.6 137.1,310.5 137.3,319.2 137.5,327.7 137.7,336.2 137.9,344.5 138.2,352.6 138.4,360.5 138.6,368.3 138.8,375.8 139,383.1 139.2,390.3 139.4,397.2 139.6,403.9 139.8,410.4 140.1,416.6 140.3,422.7 140.5,428.5 140.7,434 140.9,439.4 141.1,444.5 141.3,449.3 141.5,454 141.8,458.4 142,462.6 142.2,466.6 142.4,470.3 142.6,473.9 142.8,477.2 143,480.3 143.2,483.2 143.5,485.9 143.7,488.4 143.9,490.7 144.1,492.8 144.3,494.7 144.5,496.5 144.7,498 144.9,499.4 145.2,500.6 145.4,501.7 145.6,502.6 145.8,503.3 146,503.9 146.2,504.3 146.4,504.6 146.6,504.8 146.9,504.8 147.1,504.7 147.3,504.5 147.5,504.2 147.7,503.7 147.9,503.2 148.1,502.5 148.3,501.7 148.6,500.9 148.8,499.9 149,498.8 149.2,497.7 149.4,496.5 149.6,495.2 149.8,493.8 150,492.4 150.3,490.9 150.5,489.3 150.7,487.7 150.9,486 151.1,484.2 151.3,482.4 151.5,480.6 151.7,478.7 152,476.8 152.2,474.8 152.4,472.8 152.6,470.7 152.8,468.6 153,466.5 153.2,464.4 153.4,462.2 153.7,460.1 153.9,457.9 154.1,455.6 154.3,453.4 154.5,451.2 154.7,448.9 154.9,446.6 155.1,444.3 155.4,442 155.6,439.7 155.8,437.4 156,435.1 156.2,432.8 156.4,430.5 157.7,416.3 159,402.4 160.3,389 161.7,376.2 163,364.2 164.3,352.9 165.6,342.5 166.9,332.9 168.2,326 169.5,320.2 170.8,314.3 172.1,308.5 173.5,303.3 174.8,298.8 176.1,294.9 177.4,291.7 178.7,289.1 180,287 181.3,285.4 182.6,284.3 183.9,283.6 185.3,283.3 186.6,283.3 187.9,283.7 189.2,284.4 190.5,285.4 191.8,286.6 193.1,288 194.4,289.7 195.7,291.5 197.1,293.5 198.4,295.6 199.7,297.9 201,300.3 202.3,302.7 203.6,305.3 204.9,307.9 206.2,310.5 207.5,313.3 208.8,316 210.2,318.8 211.5,321.6 212.8,324.4 214.1,327.2 215.4,330 216.7,332.8 218,335.6 219.3,338.4 220.6,341.1 222,343.8 225.8,351.6 229.6,359.1 233.4,366.3 237.2,373.1 241.1,379.6 244.9,385.8 248.7,391.7 252.5,397.3 256.4,402.6 260.2,407.6 264,412.4 267.8,417 271.7,421.4 275.5,425.6 279.3,429.5 283.1,433.3 287,437 290.8,440.5 294.6,443.8 298.4,446.9 302.2,449.9 306.1,452.8 309.9,455.5 313.7,458.1 317.5,460.5 321.4,462.9 325.2,465.1 329,467.2 332.8,469.1 336.7,471 340.5,472.8 344.3,474.4 348.1,476 351.9,477.5 355.8,478.9 359.6,480.2 363.4,481.4 367.2,482.5 371.1,483.6 374.9,484.7" stroke="#000000" stroke-dasharray="6.8 7.7"/>
<rect x="449.20" y="62.40" width="299.00" height="132.40" fill="#fff"/>
<g stroke="#333" stroke-width="0.8" fill="none"><line x1="434.00" y1="518.60" x2="441.60" y2="518.60"/><line x1="761.30" y1="518.60" x2="753.70" y2="518.60"/><line x1="434.00" y1="427.26" x2="441.60" y2="427.26"/><line x1="761.30" y1="427.26" x2="753.70" y2="427.26"/><line x1="434.00" y1="335.92" x2="441.60" y2="335.92"/><line x1="761.30" y1="335.92" x2="753.70" y2="335.92"/><line x1="434.00" y1="244.58" x2="441.60" y2="244.58"/><line x1="761.30" y1="244.58" x2="753.70" y2="244.58"/><line x1="434.00" y1="153.24" x2="441.60" y2="153.24"/><line x1="761.30" y1="153.24" x2="753.70" y2="153.24"/><line x1="434.00" y1="61.90" x2="441.60" y2="61.90"/><line x1="761.30" y1="61.90" x2="753.70" y2="61.90"/><line x1="434.00" y1="518.60" x2="434.00" y2="511.00"/><line x1="434.00" y1="61.90" x2="434.00" y2="69.50"/><line x1="543.10" y1="518.60" x2="543.10" y2="511.00"/><line x1="543.10" y1="61.90" x2="543.10" y2="69.50"/><line x1="652.20" y1="518.60" x2="652.20" y2="511.00"/><line x1="652.20" y1="61.90" x2="652.20" y2="69.50"/><line x1="761.30" y1="518.60" x2="761.30" y2="511.00"/><line x1="761.30" y1="61.90" x2="761.30" y2="69.50"/></g>
<line x1="678.90" y1="79.70" x2="736.30" y2="79.70" stroke="#0000ff" stroke-width="2.3"/><text x="658.50" y="77.80" font-size="17.3">o</text><text x="618.43" y="87.10" font-size="20.7">=-90</text><text x="598.25" y="93.20" font-size="16.5">CP</text><text x="588.25" y="87.10" font-size="22">δ</text><text x="588.05" y="87.10" font-size="20.7" text-anchor="end" xml:space="preserve">SI, NH, </text>
<path clip-path="url(#cr)" fill="none" stroke-width="2.4" stroke-linejoin="round" d="M434.2,31.9 434.2,424 434.3,31.9 434.3,31.9 434.3,31.9 434.3,385.4 434.3,31.9 434.3,31.9 434.4,31.9 434.4,105.7 434.4,493.8 434.4,135.9 434.4,31.9 434.4,31.9 434.5,31.9 434.5,31.9 434.5,31.9 434.5,31.9 434.5,31.9 434.5,203.3 434.6,214.9 434.6,424.4 434.6,406.4 434.6,149.5 434.6,31.9 434.7,31.9 434.7,31.9 434.7,31.9 434.7,31.9 434.7,31.9 434.7,31.9 434.8,31.9 434.8,31.9 434.8,31.9 434.8,31.9 434.8,31.9 434.8,31.9 434.9,31.9 434.9,31.9 434.9,31.9 434.9,31.9 434.9,31.9 435,31.9 435,31.9 435,227.7 435,102.7 435,31.9 435,92.8 435.1,469.7 435.1,244.5 435.1,275 435.1,518.6 435.1,378.2 435.1,453.3 435.2,473.8 435.2,461.1 435.2,413.2 435.2,501.5 435.2,304.3 435.2,507.5 435.3,188.7 435.3,466.3 435.3,100.4 435.3,329.3 435.3,123.9 435.4,31.9 435.4,279.2 435.4,31.9 435.4,252.6 435.4,31.9 435.4,31.9 435.5,147.8 435.5,31.9 435.5,31.9 435.5,31.9 435.5,31.9 435.5,31.9 435.6,31.9 435.6,31.9 435.6,31.9 435.6,31.9 435.6,31.9 435.6,31.9 435.7,31.9 435.7,31.9 435.7,31.9 435.7,31.9 435.7,31.9 435.8,31.9 435.8,31.9 435.8,31.9 435.8,31.9 435.8,31.9 435.8,31.9 435.9,31.9 435.9,31.9 435.9,31.9 435.9,31.9 435.9,31.9 435.9,31.9 436,31.9 436,31.9 436,31.9 436,31.9 436,31.9 436.1,31.9 436.1,31.9 436.1,31.9 436.1,31.9 436.1,31.9 436.1,31.9 436.2,31.9 436.2,31.9 436.2,31.9 436.2,31.9 436.2,31.9 436.2,31.9 436.3,31.9 436.3,31.9 436.3,31.9 436.3,31.9 436.3,31.9 436.3,31.9 436.4,31.9 436.4,31.9 436.4,31.9 436.4,31.9 436.4,31.9 436.5,31.9 436.5,31.9 436.5,31.9 436.5,31.9 436.5,31.9 436.5,31.9 436.6,31.9 436.6,31.9 436.6,31.9 436.6,31.9 436.6,31.9 436.6,31.9 436.7,31.9 436.7,31.9 436.7,31.9 436.7,31.9 436.7,31.9 436.7,31.9 436.8,31.9 436.8,31.9 436.8,31.9 436.8,31.9 436.8,31.9 436.9,31.9 436.9,31.9 436.9,31.9 436.9,31.9 436.9,31.9 436.9,31.9 437,31.9 437,31.9 437,31.9 437,31.9 437,31.9 437,31.9 437.1,31.9 437.1,31.9 437.1,31.9 437.1,31.9 437.1,31.9 437.2,31.9 437.2,31.9 437.2,31.9 437.2,31.9 437.2,31.9 437.2,31.9 437.3,31.9 437.3,31.9 437.3,31.9 437.3,31.9 437.3,31.9 437.3,31.9 437.4,31.9 437.4,31.9 437.4,31.9 437.4,31.9 437.4,31.9 437.4,31.9 437.5,31.9 437.5,31.9 437.5,31.9 437.5,31.9 437.5,31.9 437.6,31.9 437.6,31.9 437.6,31.9 437.6,31.9 437.6,31.9 437.6,31.9 437.7,31.9 437.7,31.9 437.7,31.9 437.7,31.9 437.7,31.9 437.7,31.9 437.8,31.9 437.8,31.9 437.8,31.9 437.8,31.9 437.8,31.9 437.8,31.9 437.9,31.9 437.9,31.9 437.9,31.9 437.9,31.9 437.9,31.9 438,31.9 438,31.9 438,31.9 438,31.9 438,31.9 438,31.9 438.1,31.9 438.1,31.9 438.1,31.9 438.1,31.9 438.1,31.9 438.1,31.9 438.2,31.9 438.2,31.9 438.2,31.9 438.2,38.9 438.2,47.2 438.3,31.9 438.3,31.9 438.3,31.9 438.3,31.9 438.3,31.9 438.3,31.9 438.4,31.9 438.4,31.9 438.4,31.9 438.4,31.9 438.4,31.9 438.4,31.9 438.5,31.9 438.5,31.9 438.5,31.9 438.5,31.9 438.5,31.9 438.5,31.9 438.6,31.9 438.6,31.9 438.6,31.9 438.6,56.6 438.6,110.9 438.7,146.1 438.7,161.2 438.7,156.4 438.7,132.7 438.7,92 438.7,37.1 438.8,31.9 438.8,31.9 438.8,31.9 438.8,31.9 438.8,31.9 438.8,31.9 438.9,31.9 438.9,31.9 438.9,31.9 438.9,31.9 438.9,31.9 438.9,31.9 439,31.9 439,31.9 439,31.9 439,31.9 439,31.9 439.1,31.9 439.1,31.9 439.1,31.9 439.1,31.9 439.1,83.5 439.1,139.6 439.2,186.6 439.2,223.3 439.2,248.9 439.2,263.1 439.2,265.8 439.2,257.3 439.3,238.4 439.3,210.1 439.3,173.5 439.3,130.2 439.3,81.7 439.4,31.9 439.4,31.9 439.4,31.9 439.4,31.9 439.4,31.9 439.4,31.9 439.5,31.9 439.5,31.9 439.5,31.9 439.6,31.9 439.6,31.9 439.6,31.9 439.7,31.9 439.7,31.9 439.7,82.1 439.8,178.3 439.8,258.4 439.9,316.6 439.9,349.5 439.9,356.1 440,337.6 440,297.4 440,240 440.1,171.2 440.1,97.2 440.1,31.9 440.2,31.9 440.2,31.9 440.3,31.9 440.3,31.9 440.3,31.9 440.4,31.9 440.4,31.9 440.4,31.9 440.5,31.9 440.5,36.2 440.5,103.6 440.6,171.4 440.6,236.3 440.7,295 440.7,345.1 440.7,384.6 440.8,412.1 440.8,427.1 440.8,429.6 440.9,420.2 440.9,400.1 440.9,370.8 441,334.1 441,292.3 441.1,247.3 441.1,201.5 441.1,156.8 441.2,115.1 441.2,78 441.2,47 441.3,31.9 441.3,31.9 441.3,31.9 441.4,31.9 441.4,31.9 441.5,31.9 441.5,45 441.5,73.1 441.6,106 441.6,142.5 441.6,181.4 441.7,221.5 441.7,261.6 441.7,300.7 441.8,337.7 441.8,371.8 441.9,402.1 441.9,428.1 441.9,449.3 442,465.4 442,476.3 442,481.9 442.1,482.3 442.1,477.9 442.1,468.9 442.2,455.8 442.2,439.1 442.3,419.4 442.3,397.3 442.3,373.4 442.4,348.4 442.4,322.9 442.4,297.4 442.5,272.6 442.5,248.9 442.5,226.9 442.6,206.9 442.6,189.4 442.7,174.4 442.7,162.4 442.7,153.5 442.8,147.6 442.8,144.9 442.8,145.4 442.9,148.8 442.9,155.1 442.9,164.2 443,175.7 443,189.4 443.1,205.1 443.1,222.5 443.1,241.2 443.2,261 443.2,281.6 443.2,302.6 443.3,323.7 443.3,344.6 443.3,365.2 443.4,385 443.4,404 443.5,421.9 443.5,438.4 443.5,453.5 443.6,467.1 443.6,478.9 443.6,489 443.7,497.3 443.7,503.8 443.7,508.4 443.8,511.2 443.8,512.3 443.9,511.6 443.9,509.3 443.9,505.5 444,500.2 444,493.6 444,485.8 444.1,476.9 444.1,467.1 444.1,456.6 444.2,445.4 444.2,433.7 444.3,421.6 444.3,409.4 444.3,397 444.4,384.7 444.4,372.6 444.4,360.7 444.5,349.3 444.5,338.3 444.5,327.9 444.6,318.2 444.6,309.2 444.7,301 444.7,293.7 444.7,287.2 444.8,281.7 444.8,277.1 444.8,273.5 444.9,270.8 444.9,269.1 444.9,268.3 445,268.5 445,269.6 445.1,271.6 445.1,274.4 445.1,278 445.2,282.4 445.2,287.5 445.2,293.3 445.3,299.6 445.3,306.5 445.3,314 445.4,321.8 445.4,330 445.5,338.6 445.5,347.3 445.5,356.3 445.6,365.5 445.6,374.7 445.6,383.9 445.7,393.1 445.7,402.2 445.7,411.2 445.8,420.1 445.8,428.7 445.9,437 445.9,445.1 445.9,452.9 446,460.3 446,467.3 446,473.9 446.1,480.1 446.1,485.9 446.1,491.2 446.2,496 446.2,500.3 446.3,504.2 446.3,507.6 446.3,510.5 446.4,512.9 446.4,514.8 446.4,516.2 446.5,517.2 446.5,517.7 446.5,517.7 446.6,517.4 446.6,516.6 446.7,515.4 446.7,513.8 446.7,511.9 446.8,509.6 446.8,507 446.8,504.1 446.9,501 446.9,497.5 446.9,493.9 447,490 447,485.9 447.1,481.7 447.1,477.3 447.1,472.8 447.2,468.2 447.2,463.5 447.2,458.8 447.3,454 447.3,449.2 447.3,444.5 447.4,439.7 447.4,435 447.5,430.3 447.5,425.7 447.5,421.2 447.6,416.8 447.6,412.5 447.6,408.4 447.7,404.3 447.7,400.5 447.7,396.8 447.8,393.2 447.8,389.9 447.9,386.7 447.9,383.8 447.9,381 448,378.4 448,376 448,373.9 448.1,371.9 448.1,370.2 448.1,368.7 448.2,367.4 448.2,366.3 448.3,365.5 448.3,364.8 448.3,364.3 448.4,364.1 448.4,364.1 448.4,364.2 448.5,364.6 448.5,365.1 448.5,365.8 448.6,366.7 448.6,367.8 448.7,369 448.7,370.4 448.7,372 448.8,373.7 448.8,375.5 448.8,377.5 448.9,379.6 448.9,381.8 448.9,384.1 449,386.5 449,389 449.1,391.6 449.1,394.3 449.1,397 449.2,399.8 449.2,402.7 449.2,405.6 449.3,408.6 449.3,411.6 449.3,414.6 449.4,417.6 449.4,420.7 449.5,423.7 449.5,426.8 449.5,429.8 449.6,432.9 449.6,435.9 449.6,438.9 449.7,441.9 449.7,444.8 449.7,447.7 449.8,450.6 449.8,453.4 449.9,456.2 449.9,458.9 449.9,461.5 450,464.1 450,466.6 450,469 450.1,471.4 450.1,473.7 450.1,475.9 450.2,478.1 450.2,480.1 450.3,482.1 450.3,484 450.3,485.8 450.4,487.5 450.6,495.7 450.8,500.8 451,502.9 451.2,502.3 451.4,499.3 451.6,494.4 451.8,487.9 452.1,480.4 452.3,472.4 452.5,464.1 452.7,455.9 452.9,448.3 453.1,441.3 453.3,435.3 453.5,430.3 453.8,426.4 454,423.6 454.2,422 454.4,421.6 454.6,422.1 454.8,423.6 455,426 455.2,429.1 455.5,432.8 455.7,436.9 455.9,441.5 456.1,446.2 456.3,451.1 456.5,456 456.7,460.8 456.9,465.5 457.2,469.9 457.4,474 457.6,477.7 457.8,481.1 458,484 458.2,486.5 458.4,488.5 458.6,490.1 458.9,491.2 459.1,491.8 459.3,492 459.5,491.8 459.7,491.1 459.9,490.1 460.1,488.7 460.3,487 460.5,485.1 460.8,482.8 461,480.3 461.2,477.7 461.4,474.9 461.6,471.9 461.8,468.9 462,465.7 462.2,462.6 462.5,459.4 462.7,456.2 462.9,453 463.1,449.9 463.3,446.9 463.5,443.9 463.7,441.1 463.9,438.3 464.2,435.7 464.4,433.3 464.6,430.9 464.8,428.8 465,426.7 465.2,424.9 465.4,423.2 465.6,421.7 465.9,420.4 466.1,419.2 466.3,418.3 466.5,417.5 466.7,416.8 466.9,416.4 467.1,416 467.3,415.9 467.5,415.9 467.8,416.1 468,416.4 468.2,416.8 468.4,417.4 468.6,418.1 468.8,418.9 469,419.9 469.2,420.9 469.5,422.1 469.7,423.3 469.9,424.6 470.1,426.1 470.3,427.6 470.5,429.1 470.7,430.8 470.9,432.4 471.2,434.2 471.4,436 471.6,437.8 471.8,439.6 472,441.5 472.2,443.4 472.4,445.4 472.6,447.3 472.9,449.3 473.1,451.2 473.3,453.2 473.5,455.1 473.7,457.1 473.9,459 474.1,461 474.3,462.9 474.5,464.8 474.8,466.6 475,468.5 475.2,470.3 475.4,472.1 475.6,473.8 475.8,475.5 476,477.2 476.2,478.9 476.5,480.5 476.7,482 476.9,483.6 477.1,485 477.3,486.5 477.5,487.9 477.7,489.2 477.9,490.5 478.2,491.7 478.4,492.9 478.6,494.1 478.8,495.2 479,496.2 479.2,497.3 479.4,498.2 479.6,499.1 479.9,500 480.1,500.8 480.3,501.6 480.5,502.3 480.7,502.9 480.9,503.6 481.1,504.1 481.3,504.6 481.5,505.1 481.8,505.6 482,505.9 482.2,506.3 482.4,506.6 482.6,506.9 482.8,507.1 483,507.2 483.2,507.4 483.5,507.5 483.7,507.5 483.9,507.5 484.1,507.5 484.3,507.4 484.5,507.4 484.7,507.2 484.9,507.1 485.2,506.9 485.4,506.6 485.6,506.4 485.8,506.1 486,505.7 486.2,505.4 486.4,505 486.6,504.6 486.9,504.1 487.1,503.6 487.3,503.2 487.5,502.6 487.7,502.1 487.9,501.5 488.1,500.9 488.3,500.3 488.6,499.7 489.9,495.3 491.2,490.4 492.5,484.9 493.8,479.2 495.1,473.2 496.4,467 497.7,460.8 499,455.8 500.3,450.9 501.6,445.7 503,440.5 504.3,435.4 505.6,430.6 506.9,426 508.2,421.7 509.5,417.7 510.8,414 512.1,410.6 513.4,407.4 514.7,404.5 516,401.8 517.4,399.4 518.7,397.2 520,395.2 521.3,393.5 522.6,391.9 523.9,390.5 525.2,389.2 526.5,388.1 527.8,387.1 529.1,386.3 530.4,385.6 531.8,385 533.1,384.5 534.4,384.2 535.7,383.9 537,383.7 538.3,383.7 539.6,383.7 540.9,383.8 542.2,383.9 543.5,384.2 544.8,384.5 546.2,384.8 547.5,385.2 548.8,385.7 550.1,386.2 551.4,386.8 552.7,387.4 554,388.1 557.8,390.3 561.6,392.7 565.5,395.3 569.3,398.1 573.1,401.1 576.9,404 580.7,407 584.6,410 588.4,413 592.2,416 596,418.9 599.8,421.7 603.7,424.5 607.5,427.2 611.3,429.8 615.1,432.3 618.9,434.7 622.7,437.1 626.6,439.3 630.4,441.5 634.2,443.6 638,445.6 641.8,447.5 645.7,449.3 649.5,451.1 653.3,452.8 657.1,454.4 660.9,456 664.7,457.5 668.6,458.9 672.4,460.3 676.2,461.6 680,462.9 683.8,464.1 687.7,465.2 691.5,466.3 695.3,467.3 699.1,468.4 702.9,469.3 706.8,470.2" stroke="#0000ff"/>
<line x1="678.90" y1="100.57" x2="736.30" y2="100.57" stroke="#0000ff" stroke-width="2.3" stroke-dasharray="7.2 10.3"/><text x="658.50" y="98.67" font-size="17.3">o</text><text x="618.43" y="107.97" font-size="20.7">=-90</text><text x="598.25" y="114.07" font-size="16.5">CP</text><text x="588.25" y="107.97" font-size="22">δ</text><text x="588.05" y="107.97" font-size="20.7" text-anchor="end" xml:space="preserve">|=0.04,  NH, </text><text x="463.73" y="114.27" font-size="16.5">10</text><text x="451.43" y="107.97" font-size="23.5">α</text><text x="447.29" y="107.97" font-size="20.7">|</text>
<path clip-path="url(#cr)" fill="none" stroke-width="2.4" stroke-linejoin="round" d="M434.2,31.9 434.2,394 434.3,31.9 434.3,31.9 434.3,31.9 434.3,421.8 434.3,31.9 434.3,31.9 434.4,31.9 434.4,101.2 434.4,509.8 434.4,113.1 434.4,31.9 434.4,31.9 434.5,31.9 434.5,31.9 434.5,31.9 434.5,31.9 434.5,31.9 434.5,194.5 434.6,253.1 434.6,392.4 434.6,371.4 434.6,134.4 434.6,31.9 434.7,31.9 434.7,31.9 434.7,31.9 434.7,31.9 434.7,31.9 434.7,31.9 434.8,31.9 434.8,31.9 434.8,31.9 434.8,31.9 434.8,31.9 434.8,31.9 434.9,31.9 434.9,31.9 434.9,31.9 434.9,31.9 434.9,31.9 435,31.9 435,31.9 435,250.7 435,97.3 435,31.9 435,138 435.1,473.2 435.1,222.8 435.1,311 435.1,512.1 435.1,358.4 435.1,487.6 435.2,432.9 435.2,490.7 435.2,386.4 435.2,514.7 435.2,290.9 435.2,515.7 435.3,176.7 435.3,484.1 435.3,78.3 435.3,366.7 435.3,89.8 435.4,73.2 435.4,256.5 435.4,31.9 435.4,279.3 435.4,31.9 435.4,31.9 435.5,147.5 435.5,31.9 435.5,31.9 435.5,31.9 435.5,31.9 435.5,31.9 435.6,31.9 435.6,31.9 435.6,31.9 435.6,31.9 435.6,31.9 435.6,31.9 435.7,31.9 435.7,31.9 435.7,31.9 435.7,31.9 435.7,31.9 435.8,31.9 435.8,31.9 435.8,31.9 435.8,31.9 435.8,31.9 435.8,31.9 435.9,31.9 435.9,31.9 435.9,31.9 435.9,31.9 435.9,31.9 435.9,31.9 436,31.9 436,31.9 436,31.9 436,31.9 436,31.9 436.1,31.9 436.1,31.9 436.1,31.9 436.1,31.9 436.1,31.9 436.1,31.9 436.2,31.9 436.2,31.9 436.2,31.9 436.2,31.9 436.2,31.9 436.2,31.9 436.3,31.9 436.3,31.9 436.3,31.9 436.3,31.9 436.3,31.9 436.3,31.9 436.4,31.9 436.4,31.9 436.4,31.9 436.4,31.9 436.4,31.9 436.5,31.9 436.5,31.9 436.5,31.9 436.5,31.9 436.5,31.9 436.5,31.9 436.6,31.9 436.6,31.9 436.6,31.9 436.6,31.9 436.6,31.9 436.6,31.9 436.7,31.9 436.7,31.9 436.7,31.9 436.7,31.9 436.7,31.9 436.7,31.9 436.8,31.9 436.8,31.9 436.8,31.9 436.8,31.9 436.8,31.9 436.9,31.9 436.9,31.9 436.9,31.9 436.9,31.9 436.9,31.9 436.9,31.9 437,31.9 437,31.9 437,31.9 437,31.9 437,31.9 437,31.9 437.1,31.9 437.1,31.9 437.1,31.9 437.1,31.9 437.1,31.9 437.2,31.9 437.2,31.9 437.2,31.9 437.2,31.9 437.2,31.9 437.2,31.9 437.3,31.9 437.3,31.9 437.3,31.9 437.3,31.9 437.3,31.9 437.3,31.9 437.4,31.9 437.4,31.9 437.4,31.9 437.4,31.9 437.4,31.9 437.4,31.9 437.5,31.9 437.5,31.9 437.5,31.9 437.5,31.9 437.5,31.9 437.6,31.9 437.6,31.9 437.6,31.9 437.6,31.9 437.6,31.9 437.6,31.9 437.7,31.9 437.7,31.9 437.7,31.9 437.7,31.9 437.7,31.9 437.7,31.9 437.8,31.9 437.8,31.9 437.8,31.9 437.8,31.9 437.8,31.9 437.8,31.9 437.9,31.9 437.9,31.9 437.9,31.9 437.9,31.9 437.9,31.9 438,31.9 438,31.9 438,31.9 438,31.9 438,31.9 438,31.9 438.1,31.9 438.1,31.9 438.1,31.9 438.1,31.9 438.1,31.9 438.1,31.9 438.2,31.9 438.2,31.9 438.2,36.6 438.2,80.5 438.2,92.8 438.3,74 438.3,31.9 438.3,31.9 438.3,31.9 438.3,31.9 438.3,31.9 438.4,31.9 438.4,31.9 438.4,31.9 438.4,31.9 438.4,31.9 438.4,31.9 438.5,31.9 438.5,31.9 438.5,31.9 438.5,31.9 438.5,31.9 438.5,31.9 438.6,31.9 438.6,31.9 438.6,31.9 438.6,85.9 438.6,141.7 438.7,179.4 438.7,198.1 438.7,197.6 438.7,178.8 438.7,143.4 438.7,93.8 438.8,32.9 438.8,31.9 438.8,31.9 438.8,31.9 438.8,31.9 438.8,31.9 438.9,31.9 438.9,31.9 438.9,31.9 438.9,31.9 438.9,31.9 438.9,31.9 439,31.9 439,31.9 439,31.9 439,31.9 439,31.9 439.1,31.9 439.1,31.9 439.1,31.9 439.1,40.9 439.1,103.6 439.1,159.6 439.2,207.5 439.2,245.9 439.2,274 439.2,291.3 439.2,297.7 439.2,293.4 439.3,279 439.3,255.2 439.3,223.2 439.3,184.3 439.3,139.9 439.4,91.5 439.4,40.8 439.4,31.9 439.4,31.9 439.4,31.9 439.4,31.9 439.5,31.9 439.5,31.9 439.5,31.9 439.6,31.9 439.6,31.9 439.6,31.9 439.7,31.9 439.7,31.9 439.7,95.4 439.8,189.3 439.8,269.6 439.9,330.6 439.9,368.4 439.9,381.6 440,370.8 440,338.5 440,288.8 440.1,226.8 440.1,158 440.1,88.2 440.2,31.9 440.2,31.9 440.3,31.9 440.3,31.9 440.3,31.9 440.4,31.9 440.4,31.9 440.4,31.9 440.5,31.9 440.5,51.2 440.5,112.9 440.6,176.6 440.6,238.8 440.7,296.6 440.7,347.3 440.7,389 440.8,420.1 440.8,439.8 440.8,447.8 440.9,444.6 440.9,430.9 440.9,407.9 441,377.3 441,340.9 441.1,300.5 441.1,258.2 441.1,215.9 441.2,175.4 441.2,138.3 441.2,106.1 441.3,79.7 441.3,60.1 441.3,47.7 441.4,42.8 441.4,45.4 441.5,55.1 441.5,71.3 441.5,93.5 441.6,120.6 441.6,151.8 441.6,185.9 441.7,222 441.7,258.9 441.7,295.6 441.8,331.2 441.8,364.7 441.9,395.4 441.9,422.6 441.9,445.8 442,464.7 442,478.9 442,488.4 442.1,493.2 442.1,493.5 442.1,489.3 442.2,481.1 442.2,469.2 442.3,454.2 442.3,436.4 442.3,416.5 442.4,395 442.4,372.5 442.4,349.5 442.5,326.4 442.5,304 442.5,282.5 442.6,262.4 442.6,244 442.7,227.7 442.7,213.8 442.7,202.3 442.8,193.5 442.8,187.5 442.8,184.2 442.9,183.7 442.9,185.8 442.9,190.5 443,197.6 443,207 443.1,218.4 443.1,231.6 443.1,246.3 443.2,262.4 443.2,279.5 443.2,297.4 443.3,315.8 443.3,334.4 443.3,353.1 443.4,371.5 443.4,389.4 443.5,406.7 443.5,423.2 443.5,438.6 443.6,452.9 443.6,465.9 443.6,477.5 443.7,487.7 443.7,496.4 443.7,503.5 443.8,509.1 443.8,513.1 443.9,515.5 443.9,516.5 443.9,516 444,514.1 444,511 444,506.6 444.1,501.1 444.1,494.6 444.1,487.2 444.2,479 444.2,470.1 444.3,460.7 444.3,450.8 444.3,440.6 444.4,430.2 444.4,419.7 444.4,409.2 444.5,398.8 444.5,388.6 444.5,378.7 444.6,369.2 444.6,360.1 444.7,351.5 444.7,343.5 444.7,336.1 444.8,329.4 444.8,323.4 444.8,318.1 444.9,313.5 444.9,309.8 444.9,306.8 445,304.6 445,303.1 445.1,302.5 445.1,302.6 445.1,303.4 445.2,304.9 445.2,307.1 445.2,309.9 445.3,313.4 445.3,317.4 445.3,322 445.4,327 445.4,332.5 445.5,338.4 445.5,344.6 445.5,351.2 445.6,358 445.6,365.1 445.6,372.3 445.7,379.6 445.7,387 445.7,394.5 445.8,402 445.8,409.4 445.9,416.8 445.9,424 445.9,431.1 446,438.1 446,444.9 446,451.4 446.1,457.7 446.1,463.7 446.1,469.4 446.2,474.8 446.2,479.9 446.3,484.6 446.3,489.1 446.3,493.1 446.4,496.8 446.4,500.1 446.4,503.1 446.5,505.7 446.5,508 446.5,509.9 446.6,511.4 446.6,512.6 446.7,513.4 446.7,513.9 446.7,514.1 446.8,513.9 446.8,513.5 446.8,512.7 446.9,511.7 446.9,510.4 446.9,508.9 447,507.2 447,505.2 447.1,503 447.1,500.6 447.1,498.1 447.2,495.4 447.2,492.5 447.2,489.5 447.3,486.5 447.3,483.3 447.3,480 447.4,476.7 447.4,473.3 447.5,469.9 447.5,466.5 447.5,463 447.6,459.6 447.6,456.2 447.6,452.8 447.7,449.4 447.7,446.1 447.7,442.8 447.8,439.6 447.8,436.5 447.9,433.5 447.9,430.5 447.9,427.7 448,424.9 448,422.3 448,419.8 448.1,417.4 448.1,415.1 448.1,412.9 448.2,410.9 448.2,409 448.3,407.3 448.3,405.6 448.3,404.2 448.4,402.8 448.4,401.6 448.4,400.5 448.5,399.6 448.5,398.8 448.5,398.1 448.6,397.6 448.6,397.2 448.7,396.9 448.7,396.8 448.7,396.7 448.8,396.8 448.8,397 448.8,397.3 448.9,397.8 448.9,398.3 448.9,399 449,399.7 449,400.5 449.1,401.4 449.1,402.4 449.1,403.5 449.2,404.7 449.2,405.9 449.2,407.2 449.3,408.6 449.3,410 449.3,411.4 449.4,413 449.4,414.5 449.5,416.1 449.5,417.8 449.5,419.5 449.6,421.2 449.6,422.9 449.6,424.6 449.7,426.4 449.7,428.2 449.7,430 449.8,431.8 449.8,433.6 449.9,435.4 449.9,437.2 449.9,439 450,440.7 450,442.5 450,444.3 450.1,446 450.1,447.7 450.1,449.4 450.2,451 450.2,452.7 450.3,454.3 450.3,455.9 450.3,457.4 450.4,458.9 450.6,467 450.8,473.7 451,478.9 451.2,482.6 451.4,484.9 451.6,486 451.8,486 452.1,485.1 452.3,483.5 452.5,481.5 452.7,479.1 452.9,476.7 453.1,474.2 453.3,471.9 453.5,469.7 453.8,467.8 454,466.2 454.2,465 454.4,464.1 454.6,463.4 454.8,463.1 455,463 455.2,463.1 455.5,463.4 455.7,463.8 455.9,464.3 456.1,464.8 456.3,465.3 456.5,465.8 456.7,466.2 456.9,466.5 457.2,466.7 457.4,466.8 457.6,466.7 457.8,466.5 458,466.1 458.2,465.6 458.4,464.9 458.6,464.1 458.9,463.1 459.1,462 459.3,460.8 459.5,459.4 459.7,458 459.9,456.5 460.1,455 460.3,453.4 460.5,451.9 460.8,450.3 461,448.7 461.2,447.1 461.4,445.6 461.6,444.1 461.8,442.7 462,441.4 462.2,440.2 462.5,439 462.7,438 462.9,437.1 463.1,436.2 463.3,435.5 463.5,434.9 463.7,434.5 463.9,434.1 464.2,433.9 464.4,433.8 464.6,433.9 464.8,434 465,434.3 465.2,434.7 465.4,435.2 465.6,435.8 465.9,436.6 466.1,437.4 466.3,438.3 466.5,439.3 466.7,440.4 466.9,441.6 467.1,442.9 467.3,444.2 467.5,445.6 467.8,447 468,448.5 468.2,450 468.4,451.6 468.6,453.3 468.8,454.9 469,456.6 469.2,458.3 469.5,460 469.7,461.7 469.9,463.4 470.1,465.1 470.3,466.9 470.5,468.6 470.7,470.3 470.9,472 471.2,473.6 471.4,475.3 471.6,476.9 471.8,478.5 472,480.1 472.2,481.6 472.4,483.1 472.6,484.5 472.9,485.9 473.1,487.3 473.3,488.6 473.5,489.9 473.7,491.2 473.9,492.4 474.1,493.5 474.3,494.6 474.5,495.6 474.8,496.6 475,497.6 475.2,498.5 475.4,499.3 475.6,500.1 475.8,500.8 476,501.5 476.2,502.1 476.5,502.7 476.7,503.2 476.9,503.7 477.1,504.1 477.3,504.5 477.5,504.8 477.7,505.1 477.9,505.3 478.2,505.5 478.4,505.6 478.6,505.7 478.8,505.7 479,505.7 479.2,505.6 479.4,505.5 479.6,505.4 479.9,505.2 480.1,505 480.3,504.7 480.5,504.4 480.7,504.1 480.9,503.7 481.1,503.3 481.3,502.8 481.5,502.3 481.8,501.8 482,501.3 482.2,500.7 482.4,500.1 482.6,499.5 482.8,498.8 483,498.1 483.2,497.4 483.5,496.6 483.7,495.9 483.9,495.1 484.1,494.3 484.3,493.4 484.5,492.6 484.7,491.7 484.9,490.8 485.2,489.9 485.4,489 485.6,488 485.8,487.1 486,486.1 486.2,485.1 486.4,484.1 486.6,483.1 486.9,482.1 487.1,481.1 487.3,480.1 487.5,479 487.7,478 487.9,476.9 488.1,475.8 488.3,474.8 488.6,473.7 489.9,466.9 491.2,460.1 492.5,453.4 493.8,446.7 495.1,440.4 496.4,434.3 497.7,428.5 499,423 500.3,417.9 501.6,413.1 503,408.7 504.3,404.7 505.6,401.1 506.9,397.8 508.2,394.9 509.5,392.3 510.8,390 512.1,388.1 513.4,386.4 514.7,385 516,383.8 517.4,382.9 518.7,382.2 520,381.7 521.3,381.3 522.6,381.2 523.9,381.2 525.2,381.3 526.5,381.6 527.8,382 529.1,382.4 530.4,383 531.8,383.7 533.1,384.5 534.4,385.3 535.7,386.2 537,387.2 538.3,388.2 539.6,389.3 540.9,390.4 542.2,391.5 543.5,392.7 544.8,394 546.2,395.2 547.5,396.5 548.8,397.8 550.1,399.1 551.4,400.5 552.7,401.8 554,403.2 557.8,407.2 561.6,411.3 565.5,415.3 569.3,419.4 573.1,423.3 576.9,427.2 580.7,431 584.6,434.7 588.4,438.2 592.2,441.6 596,444.9 599.8,448.1 603.7,451.2 607.5,454.1 611.3,456.9 615.1,459.5 618.9,462.1 622.7,464.5 626.6,466.9 630.4,469.1 634.2,471.2 638,473.3 641.8,475.2 645.7,477 649.5,478.8 653.3,480.4 657.1,482 660.9,483.5 664.7,485 668.6,486.3 672.4,487.6 676.2,488.9 680,490 683.8,491.2 687.7,492.2 691.5,493.2 695.3,494.2 699.1,495 702.9,495.9 706.8,496.7" stroke="#0000ff" stroke-dasharray="6.8 7.7"/>
<line x1="678.90" y1="121.44" x2="736.30" y2="121.44" stroke="#ff0000" stroke-width="2.3"/><text x="658.50" y="119.54" font-size="17.3">o</text><text x="625.33" y="128.84" font-size="20.7">=90</text><text x="605.14" y="134.94" font-size="16.5">CP</text><text x="595.14" y="128.84" font-size="22">δ</text><text x="594.94" y="128.84" font-size="20.7" text-anchor="end" xml:space="preserve">SI, NH, </text>
<path clip-path="url(#cr)" fill="none" stroke-width="2.4" stroke-linejoin="round" d="M434.2,31.9 434.2,31.9 434.3,31.9 434.3,31.9 434.3,31.9 434.3,476.8 434.3,66.2 434.3,31.9 434.4,31.9 434.4,31.9 434.4,31.9 434.4,430.1 434.4,232.8 434.4,31.9 434.5,31.9 434.5,31.9 434.5,31.9 434.5,31.9 434.5,31.9 434.5,31.9 434.6,31.9 434.6,314.7 434.6,267.6 434.6,409.1 434.6,471.1 434.7,276.3 434.7,31.9 434.7,157 434.7,31.9 434.7,31.9 434.7,31.9 434.8,31.9 434.8,31.9 434.8,31.9 434.8,31.9 434.8,31.9 434.8,31.9 434.9,31.9 434.9,31.9 434.9,31.9 434.9,31.9 434.9,31.9 435,31.9 435,31.9 435,31.9 435,31.9 435,31.9 435,31.9 435.1,31.9 435.1,31.9 435.1,33.3 435.1,31.9 435.1,343.2 435.1,31.9 435.2,203.5 435.2,371.2 435.2,196.9 435.2,492.9 435.2,288.5 435.2,510.9 435.3,381.3 435.3,491.2 435.3,441.9 435.3,467.3 435.3,437.3 435.4,484.8 435.4,346 435.4,517.3 435.4,290.7 435.4,374.6 435.4,436.1 435.5,106.3 435.5,417.4 435.5,259.8 435.5,31.9 435.5,379 435.5,136 435.6,31.9 435.6,254.1 435.6,131.8 435.6,31.9 435.6,31.9 435.6,209.7 435.7,31.9 435.7,31.9 435.7,58.6 435.7,31.9 435.7,31.9 435.8,31.9 435.8,31.9 435.8,31.9 435.8,31.9 435.8,31.9 435.8,31.9 435.9,31.9 435.9,31.9 435.9,31.9 435.9,31.9 435.9,31.9 435.9,31.9 436,31.9 436,31.9 436,31.9 436,31.9 436,31.9 436.1,31.9 436.1,31.9 436.1,31.9 436.1,31.9 436.1,31.9 436.1,31.9 436.2,31.9 436.2,31.9 436.2,31.9 436.2,31.9 436.2,31.9 436.2,31.9 436.3,31.9 436.3,31.9 436.3,31.9 436.3,31.9 436.3,31.9 436.3,31.9 436.4,31.9 436.4,31.9 436.4,31.9 436.4,31.9 436.4,31.9 436.5,31.9 436.5,31.9 436.5,31.9 436.5,31.9 436.5,31.9 436.5,31.9 436.6,31.9 436.6,31.9 436.6,31.9 436.6,31.9 436.6,31.9 436.6,31.9 436.7,31.9 436.7,31.9 436.7,31.9 436.7,31.9 436.7,31.9 436.7,31.9 436.8,31.9 436.8,31.9 436.8,31.9 436.8,31.9 436.8,31.9 436.9,31.9 436.9,31.9 436.9,31.9 436.9,31.9 436.9,31.9 436.9,31.9 437,31.9 437,31.9 437,31.9 437,31.9 437,31.9 437,31.9 437.1,31.9 437.1,31.9 437.1,31.9 437.1,31.9 437.1,31.9 437.2,31.9 437.2,31.9 437.2,31.9 437.2,31.9 437.2,31.9 437.2,31.9 437.3,31.9 437.3,31.9 437.3,31.9 437.3,31.9 437.3,31.9 437.3,31.9 437.4,31.9 437.4,31.9 437.4,31.9 437.4,31.9 437.4,31.9 437.4,31.9 437.5,31.9 437.5,31.9 437.5,31.9 437.5,31.9 437.5,31.9 437.6,31.9 437.6,31.9 437.6,31.9 437.6,31.9 437.6,31.9 437.6,31.9 437.7,31.9 437.7,31.9 437.7,31.9 437.7,31.9 437.7,31.9 437.7,31.9 437.8,31.9 437.8,31.9 437.8,31.9 437.8,31.9 437.8,31.9 437.8,31.9 437.9,31.9 437.9,31.9 437.9,31.9 437.9,31.9 437.9,31.9 438,31.9 438,31.9 438,31.9 438,31.9 438,31.9 438,31.9 438.1,31.9 438.1,31.9 438.1,31.9 438.1,31.9 438.1,31.9 438.1,31.9 438.2,31.9 438.2,31.9 438.2,31.9 438.2,31.9 438.2,31.9 438.3,31.9 438.3,31.9 438.3,31.9 438.3,31.9 438.3,31.9 438.3,31.9 438.4,31.9 438.4,31.9 438.4,31.9 438.4,31.9 438.4,31.9 438.4,31.9 438.5,31.9 438.5,31.9 438.5,31.9 438.5,31.9 438.5,31.9 438.5,31.9 438.6,31.9 438.6,31.9 438.6,31.9 438.6,31.9 438.6,31.9 438.7,31.9 438.7,31.9 438.7,31.9 438.7,31.9 438.7,31.9 438.7,31.9 438.8,31.9 438.8,31.9 438.8,31.9 438.8,31.9 438.8,31.9 438.8,31.9 438.9,31.9 438.9,31.9 438.9,31.9 438.9,31.9 438.9,31.9 438.9,31.9 439,31.9 439,31.9 439,31.9 439,31.9 439,31.9 439.1,31.9 439.1,31.9 439.1,31.9 439.1,31.9 439.1,31.9 439.1,31.9 439.2,31.9 439.2,31.9 439.2,31.9 439.2,31.9 439.2,31.9 439.2,31.9 439.3,31.9 439.3,31.9 439.3,31.9 439.3,31.9 439.3,31.9 439.4,31.9 439.4,31.9 439.4,31.9 439.4,31.9 439.4,31.9 439.4,31.9 439.5,31.9 439.5,31.9 439.5,31.9 439.6,31.9 439.6,31.9 439.6,31.9 439.7,31.9 439.7,31.9 439.7,31.9 439.8,31.9 439.8,31.9 439.9,31.9 439.9,31.9 439.9,31.9 440,31.9 440,31.9 440,31.9 440.1,31.9 440.1,31.9 440.1,31.9 440.2,31.9 440.2,31.9 440.3,31.9 440.3,31.9 440.3,31.9 440.4,31.9 440.4,31.9 440.4,31.9 440.5,31.9 440.5,31.9 440.5,31.9 440.6,31.9 440.6,31.9 440.7,31.9 440.7,31.9 440.7,31.9 440.8,31.9 440.8,31.9 440.8,31.9 440.9,31.9 440.9,31.9 440.9,31.9 441,31.9 441,31.9 441.1,31.9 441.1,31.9 441.1,31.9 441.2,31.9 441.2,31.9 441.2,31.9 441.3,31.9 441.3,31.9 441.3,54.1 441.4,92.9 441.4,117.9 441.5,129 441.5,126.4 441.5,110.9 441.6,83.5 441.6,45.5 441.6,31.9 441.7,31.9 441.7,31.9 441.7,31.9 441.8,31.9 441.8,31.9 441.9,31.9 441.9,31.9 441.9,31.9 442,31.9 442,31.9 442,31.9 442.1,31.9 442.1,31.9 442.1,31.9 442.2,31.9 442.2,31.9 442.3,31.9 442.3,31.9 442.3,31.9 442.4,31.9 442.4,31.9 442.4,31.9 442.5,31.9 442.5,31.9 442.5,31.9 442.6,31.9 442.6,31.9 442.7,31.9 442.7,54.2 442.7,96.2 442.8,133.3 442.8,165.1 442.8,191.2 442.9,211.5 442.9,225.8 442.9,234.1 443,236.4 443,233.1 443.1,224.3 443.1,210.3 443.1,191.6 443.2,168.7 443.2,141.9 443.2,112 443.3,79.3 443.3,44.5 443.3,31.9 443.4,31.9 443.4,31.9 443.5,31.9 443.5,31.9 443.5,31.9 443.6,31.9 443.6,31.9 443.6,31.9 443.7,31.9 443.7,31.9 443.7,31.9 443.8,31.9 443.8,31.9 443.9,31.9 443.9,31.9 443.9,31.9 444,31.9 444,31.9 444,31.9 444.1,31.9 444.1,31.9 444.1,31.9 444.2,31.9 444.2,31.9 444.3,31.9 444.3,31.9 444.3,31.9 444.4,31.9 444.4,31.9 444.4,31.9 444.5,31.9 444.5,31.9 444.5,31.9 444.6,31.9 444.6,31.9 444.7,51.9 444.7,81.9 444.7,110.9 444.8,138.5 444.8,164.8 444.8,189.4 444.9,212.4 444.9,233.5 444.9,252.7 445,269.9 445,285 445.1,298 445.1,308.9 445.1,317.6 445.2,324.2 445.2,328.7 445.2,331 445.3,331.3 445.3,329.6 445.3,326 445.4,320.6 445.4,313.3 445.5,304.4 445.5,293.9 445.5,282 445.6,268.7 445.6,254.2 445.6,238.6 445.7,222 445.7,204.5 445.7,186.3 445.8,167.4 445.8,148.1 445.9,128.4 445.9,108.4 445.9,88.4 446,68.3 446,48.2 446,31.9 446.1,31.9 446.1,31.9 446.1,31.9 446.2,31.9 446.2,31.9 446.3,31.9 446.3,31.9 446.3,31.9 446.4,31.9 446.4,31.9 446.4,31.9 446.5,31.9 446.5,31.9 446.5,31.9 446.6,31.9 446.6,31.9 446.7,31.9 446.7,31.9 446.7,31.9 446.8,31.9 446.8,31.9 446.8,31.9 446.9,31.9 446.9,31.9 446.9,31.9 447,31.9 447,31.9 447.1,31.9 447.1,31.9 447.1,31.9 447.2,31.9 447.2,31.9 447.2,31.9 447.3,31.9 447.3,31.9 447.3,31.9 447.4,31.9 447.4,31.9 447.5,31.9 447.5,31.9 447.5,31.9 447.6,31.9 447.6,31.9 447.6,31.9 447.7,31.9 447.7,37.6 447.7,53.5 447.8,69.4 447.8,85.3 447.9,101.2 447.9,116.9 447.9,132.6 448,148 448,163.2 448,178.2 448.1,192.9 448.1,207.3 448.1,221.3 448.2,235 448.2,248.3 448.3,261.1 448.3,273.6 448.3,285.5 448.4,297 448.4,308 448.4,318.4 448.5,328.3 448.5,337.7 448.5,346.6 448.6,354.8 448.6,362.5 448.7,369.7 448.7,376.2 448.7,382.2 448.8,387.6 448.8,392.4 448.8,396.7 448.9,400.3 448.9,403.4 448.9,406 449,407.9 449,409.4 449.1,410.2 449.1,410.6 449.1,410.4 449.2,409.7 449.2,408.5 449.2,406.8 449.3,404.6 449.3,402 449.3,398.9 449.4,395.4 449.4,391.5 449.5,387.1 449.5,382.4 449.5,377.3 449.6,371.9 449.6,366.1 449.6,360 449.7,353.7 449.7,347 449.7,340 449.8,332.9 449.8,325.4 449.9,317.8 449.9,310 449.9,302 450,293.8 450,285.5 450,277.1 450.1,268.5 450.1,259.9 450.1,251.1 450.2,242.4 450.2,233.5 450.3,224.7 450.3,215.8 450.3,206.9 450.4,198 450.6,147.3 450.8,99.9 451,57.8 451.2,31.9 451.4,31.9 451.6,31.9 451.8,31.9 452.1,31.9 452.3,31.9 452.5,31.9 452.7,31.9 452.9,31.9 453.1,52.3 453.3,84 453.5,118.1 453.8,153.6 454,189.5 454.2,225.2 454.4,259.8 454.6,292.9 454.8,323.9 455,352.3 455.2,378 455.5,400.7 455.7,420.1 455.9,436.3 456.1,449.3 456.3,459 456.5,465.7 456.7,469.3 456.9,470.1 457.2,468.3 457.4,464.1 457.6,457.7 457.8,449.3 458,439.2 458.2,427.6 458.4,414.8 458.6,400.9 458.9,386.2 459.1,370.9 459.3,355.1 459.5,339.1 459.7,323.1 459.9,307.1 460.1,291.4 460.3,276 460.5,261.1 460.8,246.7 461,232.9 461.2,219.9 461.4,207.7 461.6,196.2 461.8,185.7 462,176 462.2,167.2 462.5,159.3 462.7,152.4 462.9,146.4 463.1,141.2 463.3,137 463.5,133.6 463.7,131.1 463.9,129.4 464.2,128.5 464.4,128.4 464.6,128.9 464.8,130.2 465,132.1 465.2,134.7 465.4,137.8 465.6,141.5 465.9,145.7 466.1,150.4 466.3,155.5 466.5,161.1 466.7,167 466.9,173.3 467.1,179.9 467.3,186.8 467.5,194 467.8,201.4 468,209 468.2,216.7 468.4,224.6 468.6,232.7 468.8,240.8 469,249 469.2,257.2 469.5,265.5 469.7,273.7 469.9,282 470.1,290.2 470.3,298.4 470.5,306.5 470.7,314.5 470.9,322.4 471.2,330.3 471.4,338 471.6,345.5 471.8,353 472,360.3 472.2,367.4 472.4,374.4 472.6,381.2 472.9,387.9 473.1,394.3 473.3,400.6 473.5,406.7 473.7,412.6 473.9,418.3 474.1,423.9 474.3,429.2 474.5,434.3 474.8,439.3 475,444.1 475.2,448.6 475.4,453 475.6,457.2 475.8,461.2 476,465 476.2,468.6 476.5,472.1 476.7,475.3 476.9,478.4 477.1,481.3 477.3,484.1 477.5,486.6 477.7,489 477.9,491.3 478.2,493.4 478.4,495.3 478.6,497 478.8,498.7 479,500.1 479.2,501.5 479.4,502.6 479.6,503.7 479.9,504.6 480.1,505.4 480.3,506.1 480.5,506.6 480.7,507 480.9,507.3 481.1,507.5 481.3,507.6 481.5,507.6 481.8,507.5 482,507.3 482.2,507 482.4,506.6 482.6,506.1 482.8,505.6 483,504.9 483.2,504.2 483.5,503.4 483.7,502.5 483.9,501.6 484.1,500.6 484.3,499.5 484.5,498.4 484.7,497.2 484.9,496 485.2,494.7 485.4,493.3 485.6,492 485.8,490.5 486,489 486.2,487.5 486.4,486 486.6,484.4 486.9,482.8 487.1,481.1 487.3,479.4 487.5,477.7 487.7,476 487.9,474.2 488.1,472.4 488.3,470.6 488.6,468.8 489.9,457.1 491.2,446.6 492.5,436 493.8,424.8 495.1,413.4 496.4,401.9 497.7,390.7 499,379.9 500.3,369.5 501.6,359.8 503,350.7 504.3,342.4 505.6,334.9 506.9,328.2 508.2,322.2 509.5,317 510.8,312.4 512.1,308.4 513.4,304.9 514.7,302 516,299.6 517.4,297.7 518.7,296.1 520,294.9 521.3,294.1 522.6,293.5 523.9,293.2 525.2,293.2 526.5,293.4 527.8,293.7 529.1,294.3 530.4,295 531.8,295.8 533.1,296.8 534.4,297.9 535.7,299.1 537,300.4 538.3,301.8 539.6,303.2 540.9,304.8 542.2,306.4 543.5,308.1 544.8,309.8 546.2,311.5 547.5,313.4 548.8,315.2 550.1,317.1 551.4,319 552.7,320.9 554,322.8 557.8,328.6 561.6,334.5 565.5,340.3 569.3,346.2 573.1,351.9 576.9,357.6 580.7,363.1 584.6,368.5 588.4,373.7 592.2,378.8 596,383.6 599.8,388.3 603.7,392.9 607.5,397.2 611.3,401.4 615.1,405.4 618.9,409.2 622.7,412.9 626.6,416.4 630.4,419.8 634.2,423 638,426.1 641.8,429.1 645.7,431.9 649.5,434.6 653.3,437.2 657.1,439.6 660.9,441.9 664.7,444.2 668.6,446.3 672.4,448.3 676.2,450.2 680,452 683.8,453.8 687.7,455.4 691.5,457 695.3,458.5 699.1,459.9 702.9,461.2 706.8,462.5" stroke="#ff0000"/>
<line x1="678.90" y1="142.31" x2="736.30" y2="142.31" stroke="#ff0000" stroke-width="2.3" stroke-dasharray="7.2 10.3"/><text x="658.50" y="140.41" font-size="17.3">o</text><text x="625.33" y="149.71" font-size="20.7">=90</text><text x="605.14" y="155.81" font-size="16.5">CP</text><text x="595.14" y="149.71" font-size="22">δ</text><text x="594.94" y="149.71" font-size="20.7" text-anchor="end" xml:space="preserve">|=0.04, NH, </text><text x="475.80" y="156.01" font-size="16.5">10</text><text x="463.50" y="149.71" font-size="23.5">α</text><text x="459.36" y="149.71" font-size="20.7">|</text>
<path clip-path="url(#cr)" fill="none" stroke-width="2.4" stroke-linejoin="round" d="M434.2,31.9 434.2,31.9 434.3,52.2 434.3,31.9 434.3,31.9 434.3,435 434.3,83.1 434.3,31.9 434.4,31.9 434.4,31.9 434.4,31.9 434.4,452.9 434.4,222 434.4,31.9 434.5,31.9 434.5,31.9 434.5,31.9 434.5,31.9 434.5,31.9 434.5,31.9 434.6,31.9 434.6,338 434.6,294.2 434.6,423.2 434.6,498.6 434.7,327.4 434.7,31.9 434.7,168.6 434.7,31.9 434.7,31.9 434.7,31.9 434.8,31.9 434.8,31.9 434.8,31.9 434.8,31.9 434.8,31.9 434.8,31.9 434.9,31.9 434.9,31.9 434.9,31.9 434.9,31.9 434.9,31.9 435,31.9 435,31.9 435,31.9 435,31.9 435,31.9 435,31.9 435.1,31.9 435.1,62.3 435.1,31.9 435.1,31.9 435.1,355.7 435.1,31.9 435.2,237.2 435.2,325.8 435.2,216.4 435.2,463.5 435.2,295.9 435.2,489.6 435.3,390.7 435.3,466.2 435.3,465.8 435.3,432.1 435.3,477.2 435.4,450.1 435.4,380.1 435.4,515.7 435.4,287.7 435.4,420.4 435.4,416.8 435.5,142.8 435.5,451 435.5,251.1 435.5,31.9 435.5,412.4 435.5,138.4 435.6,31.9 435.6,301 435.6,141.5 435.6,31.9 435.6,33.8 435.6,233.7 435.7,31.9 435.7,31.9 435.7,115.2 435.7,31.9 435.7,31.9 435.8,31.9 435.8,35.4 435.8,31.9 435.8,31.9 435.8,31.9 435.8,31.9 435.9,31.9 435.9,31.9 435.9,31.9 435.9,31.9 435.9,31.9 435.9,31.9 436,31.9 436,31.9 436,31.9 436,31.9 436,31.9 436.1,31.9 436.1,31.9 436.1,31.9 436.1,31.9 436.1,31.9 436.1,31.9 436.2,31.9 436.2,31.9 436.2,31.9 436.2,31.9 436.2,31.9 436.2,31.9 436.3,31.9 436.3,31.9 436.3,31.9 436.3,31.9 436.3,31.9 436.3,31.9 436.4,31.9 436.4,31.9 436.4,31.9 436.4,31.9 436.4,31.9 436.5,31.9 436.5,31.9 436.5,31.9 436.5,31.9 436.5,31.9 436.5,31.9 436.6,31.9 436.6,31.9 436.6,31.9 436.6,31.9 436.6,31.9 436.6,31.9 436.7,31.9 436.7,31.9 436.7,31.9 436.7,31.9 436.7,31.9 436.7,31.9 436.8,31.9 436.8,31.9 436.8,31.9 436.8,31.9 436.8,31.9 436.9,31.9 436.9,31.9 436.9,31.9 436.9,31.9 436.9,31.9 436.9,31.9 437,31.9 437,31.9 437,31.9 437,31.9 437,31.9 437,31.9 437.1,31.9 437.1,31.9 437.1,31.9 437.1,31.9 437.1,31.9 437.2,31.9 437.2,31.9 437.2,31.9 437.2,31.9 437.2,31.9 437.2,31.9 437.3,31.9 437.3,31.9 437.3,31.9 437.3,31.9 437.3,31.9 437.3,31.9 437.4,31.9 437.4,31.9 437.4,31.9 437.4,31.9 437.4,31.9 437.4,31.9 437.5,31.9 437.5,31.9 437.5,31.9 437.5,31.9 437.5,31.9 437.6,31.9 437.6,31.9 437.6,31.9 437.6,31.9 437.6,31.9 437.6,31.9 437.7,31.9 437.7,31.9 437.7,31.9 437.7,31.9 437.7,31.9 437.7,31.9 437.8,31.9 437.8,31.9 437.8,31.9 437.8,31.9 437.8,31.9 437.8,31.9 437.9,31.9 437.9,31.9 437.9,31.9 437.9,31.9 437.9,31.9 438,31.9 438,31.9 438,31.9 438,31.9 438,31.9 438,31.9 438.1,31.9 438.1,31.9 438.1,31.9 438.1,31.9 438.1,31.9 438.1,31.9 438.2,31.9 438.2,31.9 438.2,31.9 438.2,31.9 438.2,31.9 438.3,31.9 438.3,31.9 438.3,31.9 438.3,31.9 438.3,31.9 438.3,31.9 438.4,31.9 438.4,31.9 438.4,31.9 438.4,31.9 438.4,31.9 438.4,31.9 438.5,31.9 438.5,31.9 438.5,31.9 438.5,31.9 438.5,31.9 438.5,31.9 438.6,31.9 438.6,31.9 438.6,31.9 438.6,31.9 438.6,31.9 438.7,31.9 438.7,31.9 438.7,31.9 438.7,31.9 438.7,31.9 438.7,31.9 438.8,31.9 438.8,31.9 438.8,31.9 438.8,31.9 438.8,31.9 438.8,31.9 438.9,31.9 438.9,31.9 438.9,31.9 438.9,31.9 438.9,31.9 438.9,31.9 439,31.9 439,31.9 439,31.9 439,31.9 439,31.9 439.1,31.9 439.1,31.9 439.1,31.9 439.1,31.9 439.1,31.9 439.1,31.9 439.2,31.9 439.2,31.9 439.2,31.9 439.2,31.9 439.2,31.9 439.2,31.9 439.3,31.9 439.3,31.9 439.3,31.9 439.3,31.9 439.3,31.9 439.4,31.9 439.4,31.9 439.4,31.9 439.4,31.9 439.4,31.9 439.4,31.9 439.5,31.9 439.5,31.9 439.5,31.9 439.6,31.9 439.6,31.9 439.6,31.9 439.7,31.9 439.7,31.9 439.7,31.9 439.8,31.9 439.8,31.9 439.9,31.9 439.9,31.9 439.9,31.9 440,31.9 440,31.9 440,31.9 440.1,31.9 440.1,31.9 440.1,31.9 440.2,31.9 440.2,31.9 440.3,31.9 440.3,31.9 440.3,31.9 440.4,31.9 440.4,40.8 440.4,31.9 440.5,31.9 440.5,31.9 440.5,31.9 440.6,31.9 440.6,31.9 440.7,31.9 440.7,31.9 440.7,31.9 440.8,31.9 440.8,31.9 440.8,31.9 440.9,31.9 440.9,31.9 440.9,31.9 441,31.9 441,31.9 441.1,31.9 441.1,31.9 441.1,31.9 441.2,31.9 441.2,31.9 441.2,31.9 441.3,31.9 441.3,31.9 441.3,52 441.4,95.9 441.4,126.9 441.5,144.4 441.5,148.4 441.5,139.5 441.6,118.5 441.6,86.6 441.6,45.3 441.7,31.9 441.7,31.9 441.7,31.9 441.8,31.9 441.8,31.9 441.9,31.9 441.9,31.9 441.9,31.9 442,31.9 442,31.9 442,31.9 442.1,31.9 442.1,31.9 442.1,31.9 442.2,31.9 442.2,31.9 442.3,31.9 442.3,31.9 442.3,31.9 442.4,31.9 442.4,31.9 442.4,31.9 442.5,31.9 442.5,31.9 442.5,31.9 442.6,31.9 442.6,31.9 442.7,31.9 442.7,36.1 442.7,80.2 442.8,120.1 442.8,155.2 442.8,185.1 442.9,209.4 442.9,228.1 442.9,240.9 443,248 443,249.4 443.1,245.3 443.1,235.9 443.1,221.7 443.2,202.9 443.2,180 443.2,153.6 443.3,124.1 443.3,92 443.3,57.9 443.4,31.9 443.4,31.9 443.5,31.9 443.5,31.9 443.5,31.9 443.6,31.9 443.6,31.9 443.6,31.9 443.7,31.9 443.7,31.9 443.7,31.9 443.8,31.9 443.8,31.9 443.9,31.9 443.9,31.9 443.9,31.9 444,31.9 444,31.9 444,31.9 444.1,31.9 444.1,31.9 444.1,31.9 444.2,31.9 444.2,31.9 444.3,31.9 444.3,31.9 444.3,31.9 444.4,31.9 444.4,31.9 444.4,31.9 444.5,31.9 444.5,31.9 444.5,31.9 444.6,31.9 444.6,31.9 444.7,31.9 444.7,53.6 444.7,83.1 444.8,111.7 444.8,139.1 444.8,165.1 444.9,189.8 444.9,212.8 444.9,234.1 445,253.6 445,271.2 445.1,286.9 445.1,300.5 445.1,312.1 445.2,321.7 445.2,329.1 445.2,334.6 445.3,337.9 445.3,339.3 445.3,338.8 445.4,336.3 445.4,332.1 445.5,326 445.5,318.4 445.5,309.1 445.6,298.4 445.6,286.3 445.6,272.9 445.7,258.5 445.7,242.9 445.7,226.5 445.8,209.2 445.8,191.3 445.9,172.8 445.9,153.9 445.9,134.6 446,115.1 446,95.5 446,75.9 446.1,56.4 446.1,37.1 446.1,31.9 446.2,31.9 446.2,31.9 446.3,31.9 446.3,31.9 446.3,31.9 446.4,31.9 446.4,31.9 446.4,31.9 446.5,31.9 446.5,31.9 446.5,31.9 446.6,31.9 446.6,31.9 446.7,31.9 446.7,31.9 446.7,31.9 446.8,31.9 446.8,31.9 446.8,31.9 446.9,31.9 446.9,31.9 446.9,31.9 447,31.9 447,31.9 447.1,31.9 447.1,31.9 447.1,31.9 447.2,31.9 447.2,31.9 447.2,31.9 447.3,31.9 447.3,31.9 447.3,31.9 447.4,31.9 447.4,31.9 447.5,31.9 447.5,31.9 447.5,31.9 447.6,31.9 447.6,31.9 447.6,31.9 447.7,31.9 447.7,31.9 447.7,31.9 447.8,35.8 447.8,51.2 447.9,66.6 447.9,82 447.9,97.4 448,112.8 448,128 448,143.1 448.1,158 448.1,172.7 448.1,187.2 448.2,201.4 448.2,215.3 448.3,228.9 448.3,242.1 448.3,254.9 448.4,267.4 448.4,279.4 448.4,290.9 448.5,302 448.5,312.7 448.5,322.8 448.6,332.5 448.6,341.6 448.7,350.2 448.7,358.3 448.7,365.8 448.8,372.8 448.8,379.3 448.8,385.2 448.9,390.5 448.9,395.3 448.9,399.5 449,403.2 449,406.4 449.1,409 449.1,411.1 449.1,412.6 449.2,413.7 449.2,414.2 449.2,414.2 449.3,413.7 449.3,412.8 449.3,411.4 449.4,409.5 449.4,407.2 449.5,404.4 449.5,401.2 449.5,397.6 449.6,393.7 449.6,389.3 449.6,384.6 449.7,379.6 449.7,374.2 449.7,368.5 449.8,362.5 449.8,356.2 449.9,349.7 449.9,342.9 449.9,335.9 450,328.6 450,321.2 450,313.6 450.1,305.8 450.1,297.9 450.1,289.8 450.2,281.6 450.2,273.3 450.3,264.9 450.3,256.4 450.3,247.9 450.4,239.3 450.6,189.2 450.8,140.5 451,95.5 451.2,55.9 451.4,31.9 451.6,31.9 451.8,31.9 452.1,31.9 452.3,31.9 452.5,31.9 452.7,31.9 452.9,31.9 453.1,31.9 453.3,53.8 453.5,84 453.8,116.5 454,150.4 454.2,184.9 454.4,219.3 454.6,252.9 454.8,285.1 455,315.5 455.2,343.7 455.5,369.4 455.7,392.4 455.9,412.4 456.1,429.5 456.3,443.5 456.5,454.5 456.7,462.6 456.9,467.9 457.2,470.4 457.4,470.4 457.6,468.1 457.8,463.5 458,457 458.2,448.7 458.4,438.9 458.6,427.7 458.9,415.4 459.1,402.1 459.3,388.1 459.5,373.4 459.7,358.4 459.9,343.2 460.1,327.8 460.3,312.5 460.5,297.4 460.8,282.6 461,268.1 461.2,254.2 461.4,240.7 461.6,227.9 461.8,215.8 462,204.4 462.2,193.8 462.5,183.9 462.7,174.9 462.9,166.7 463.1,159.3 463.3,152.7 463.5,147 463.7,142 463.9,137.9 464.2,134.5 464.4,131.9 464.6,130 464.8,128.8 465,128.3 465.2,128.5 465.4,129.2 465.6,130.6 465.9,132.5 466.1,135 466.3,137.9 466.5,141.4 466.7,145.2 466.9,149.6 467.1,154.3 467.3,159.3 467.5,164.8 467.8,170.5 468,176.5 468.2,182.8 468.4,189.4 468.6,196.1 468.8,203.1 469,210.2 469.2,217.4 469.5,224.8 469.7,232.3 469.9,239.8 470.1,247.4 470.3,255.1 470.5,262.8 470.7,270.4 470.9,278.1 471.2,285.7 471.4,293.3 471.6,300.9 471.8,308.4 472,315.7 472.2,323.1 472.4,330.3 472.6,337.4 472.9,344.4 473.1,351.2 473.3,357.9 473.5,364.5 473.7,371 473.9,377.3 474.1,383.5 474.3,389.5 474.5,395.3 474.8,401 475,406.6 475.2,411.9 475.4,417.1 475.6,422.2 475.8,427 476,431.8 476.2,436.3 476.5,440.7 476.7,444.9 476.9,448.9 477.1,452.8 477.3,456.6 477.5,460.1 477.7,463.5 477.9,466.8 478.2,469.9 478.4,472.8 478.6,475.6 478.8,478.3 479,480.7 479.2,483.1 479.4,485.3 479.6,487.4 479.9,489.3 480.1,491.1 480.3,492.8 480.5,494.3 480.7,495.8 480.9,497 481.1,498.2 481.3,499.3 481.5,500.2 481.8,501.1 482,501.8 482.2,502.4 482.4,502.9 482.6,503.4 482.8,503.7 483,503.9 483.2,504 483.5,504.1 483.7,504.1 483.9,503.9 484.1,503.7 484.3,503.5 484.5,503.1 484.7,502.7 484.9,502.2 485.2,501.6 485.4,501 485.6,500.3 485.8,499.5 486,498.7 486.2,497.8 486.4,496.9 486.6,495.9 486.9,494.9 487.1,493.8 487.3,492.7 487.5,491.5 487.7,490.3 487.9,489.1 488.1,487.8 488.3,486.5 488.6,485.1 489.9,476 491.2,466 492.5,455.4 493.8,444.4 495.1,434.3 496.4,425.4 497.7,416.1 499,406.5 500.3,396.9 501.6,387.5 503,378.5 504.3,369.8 505.6,361.7 506.9,354.1 508.2,347 509.5,340.5 510.8,334.6 512.1,329.1 513.4,324.1 514.7,319.6 516,315.5 517.4,311.8 518.7,308.5 520,305.6 521.3,303 522.6,300.8 523.9,298.8 525.2,297.1 526.5,295.7 527.8,294.5 529.1,293.5 530.4,292.8 531.8,292.2 533.1,291.8 534.4,291.6 535.7,291.5 537,291.6 538.3,291.8 539.6,292.1 540.9,292.6 542.2,293.2 543.5,293.8 544.8,294.6 546.2,295.4 547.5,296.3 548.8,297.3 550.1,298.3 551.4,299.4 552.7,300.6 554,301.8 557.8,305.6 561.6,309.7 565.5,313.9 569.3,318.4 573.1,322.9 576.9,327.4 580.7,331.9 584.6,336.4 588.4,340.8 592.2,345.1 596,349.3 599.8,353.4 603.7,357.4 607.5,361.2 611.3,364.9 615.1,368.5 618.9,372 622.7,375.3 626.6,378.5 630.4,381.6 634.2,384.6 638,387.5 641.8,390.3 645.7,393 649.5,395.6 653.3,398.1 657.1,400.6 660.9,403 664.7,405.3 668.6,407.5 672.4,409.7 676.2,411.8 680,413.8 683.8,415.8 687.7,417.8 691.5,419.6 695.3,421.5 699.1,423.3 702.9,425.1 706.8,426.8" stroke="#ff0000" stroke-dasharray="6.8 7.7"/>
<line x1="678.90" y1="163.18" x2="736.30" y2="163.18" stroke="#000000" stroke-width="2.3"/><text x="658.50" y="161.28" font-size="17.3">o</text><text x="618.43" y="170.58" font-size="20.7">=-90</text><text x="598.25" y="176.68" font-size="16.5">CP</text><text x="588.25" y="170.58" font-size="22">δ</text><text x="588.05" y="170.58" font-size="20.7" text-anchor="end" xml:space="preserve">SI, IH, </text>
<path clip-path="url(#cr)" fill="none" stroke-width="2.4" stroke-linejoin="round" d="M434.2,31.9 434.2,346 434.3,31.9 434.3,31.9 434.3,284.6 434.3,201.1 434.3,31.9 434.3,31.9 434.4,31.9 434.4,248.5 434.4,443.8 434.4,83.9 434.4,31.9 434.4,31.9 434.5,31.9 434.5,31.9 434.5,31.9 434.5,31.9 434.5,31.9 434.5,31.9 434.6,428.9 434.6,394.7 434.6,477.1 434.6,373.3 434.6,291.9 434.7,205.7 434.7,31.9 434.7,31.9 434.7,31.9 434.7,31.9 434.7,31.9 434.8,31.9 434.8,31.9 434.8,31.9 434.8,31.9 434.8,31.9 434.8,31.9 434.9,31.9 434.9,31.9 434.9,31.9 434.9,31.9 434.9,31.9 435,31.9 435,31.9 435,31.9 435,31.9 435,373.2 435,169.2 435.1,38.5 435.1,447.9 435.1,385.4 435.1,313 435.1,512.4 435.1,412.3 435.2,473.9 435.2,443.8 435.2,477.9 435.2,377.5 435.2,481.2 435.2,285.4 435.3,433.9 435.3,224.2 435.3,287.4 435.3,256.7 435.3,31.9 435.4,361.7 435.4,31.9 435.4,254.5 435.4,31.9 435.4,31.9 435.4,201.8 435.5,31.9 435.5,31.9 435.5,31.9 435.5,31.9 435.5,31.9 435.5,31.9 435.6,31.9 435.6,31.9 435.6,31.9 435.6,31.9 435.6,31.9 435.6,31.9 435.7,31.9 435.7,31.9 435.7,31.9 435.7,31.9 435.7,31.9 435.8,31.9 435.8,31.9 435.8,31.9 435.8,31.9 435.8,31.9 435.8,31.9 435.9,31.9 435.9,31.9 435.9,31.9 435.9,31.9 435.9,31.9 435.9,31.9 436,31.9 436,31.9 436,31.9 436,31.9 436,31.9 436.1,31.9 436.1,31.9 436.1,31.9 436.1,31.9 436.1,31.9 436.1,31.9 436.2,31.9 436.2,31.9 436.2,31.9 436.2,31.9 436.2,31.9 436.2,31.9 436.3,31.9 436.3,31.9 436.3,31.9 436.3,31.9 436.3,31.9 436.3,31.9 436.4,31.9 436.4,31.9 436.4,31.9 436.4,31.9 436.4,31.9 436.5,31.9 436.5,31.9 436.5,31.9 436.5,31.9 436.5,31.9 436.5,31.9 436.6,31.9 436.6,31.9 436.6,31.9 436.6,31.9 436.6,31.9 436.6,31.9 436.7,31.9 436.7,31.9 436.7,31.9 436.7,31.9 436.7,31.9 436.7,31.9 436.8,31.9 436.8,31.9 436.8,31.9 436.8,31.9 436.8,31.9 436.9,31.9 436.9,31.9 436.9,31.9 436.9,31.9 436.9,31.9 436.9,31.9 437,31.9 437,31.9 437,31.9 437,31.9 437,31.9 437,31.9 437.1,31.9 437.1,31.9 437.1,31.9 437.1,31.9 437.1,31.9 437.2,31.9 437.2,31.9 437.2,31.9 437.2,31.9 437.2,31.9 437.2,31.9 437.3,31.9 437.3,31.9 437.3,31.9 437.3,31.9 437.3,31.9 437.3,31.9 437.4,31.9 437.4,31.9 437.4,31.9 437.4,31.9 437.4,31.9 437.4,31.9 437.5,31.9 437.5,31.9 437.5,31.9 437.5,31.9 437.5,31.9 437.6,31.9 437.6,31.9 437.6,31.9 437.6,31.9 437.6,31.9 437.6,31.9 437.7,31.9 437.7,31.9 437.7,31.9 437.7,31.9 437.7,31.9 437.7,31.9 437.8,31.9 437.8,31.9 437.8,31.9 437.8,31.9 437.8,31.9 437.8,31.9 437.9,31.9 437.9,31.9 437.9,31.9 437.9,31.9 437.9,31.9 438,31.9 438,31.9 438,31.9 438,31.9 438,31.9 438,31.9 438.1,31.9 438.1,31.9 438.1,31.9 438.1,31.9 438.1,31.9 438.1,31.9 438.2,31.9 438.2,40.4 438.2,31.9 438.2,31.9 438.2,31.9 438.3,31.9 438.3,31.9 438.3,31.9 438.3,31.9 438.3,31.9 438.3,31.9 438.4,31.9 438.4,31.9 438.4,31.9 438.4,31.9 438.4,31.9 438.4,31.9 438.5,31.9 438.5,31.9 438.5,31.9 438.5,31.9 438.5,31.9 438.5,31.9 438.6,49.1 438.6,105 438.6,141 438.6,155.9 438.6,150.1 438.7,124.7 438.7,81.8 438.7,31.9 438.7,31.9 438.7,31.9 438.7,31.9 438.8,31.9 438.8,31.9 438.8,31.9 438.8,31.9 438.8,31.9 438.8,31.9 438.9,31.9 438.9,31.9 438.9,31.9 438.9,31.9 438.9,31.9 438.9,31.9 439,31.9 439,31.9 439,31.9 439,31.9 439,31.9 439.1,31.9 439.1,91.6 439.1,147.2 439.1,193 439.1,227.8 439.1,250.9 439.2,262 439.2,261.3 439.2,249.1 439.2,226.4 439.2,194.3 439.2,154.1 439.3,107.4 439.3,55.8 439.3,31.9 439.3,31.9 439.3,31.9 439.4,31.9 439.4,31.9 439.4,31.9 439.4,31.9 439.4,31.9 439.4,31.9 439.5,31.9 439.5,31.9 439.5,31.9 439.6,31.9 439.6,31.9 439.6,31.9 439.7,40 439.7,143 439.7,231.6 439.8,299.1 439.8,341.2 439.9,356.1 439.9,344.5 439.9,309.1 440,254.6 440,186.4 440,111.1 440.1,34.9 440.1,31.9 440.1,31.9 440.2,31.9 440.2,31.9 440.3,31.9 440.3,31.9 440.3,31.9 440.4,31.9 440.4,31.9 440.4,31.9 440.5,79.1 440.5,149 440.5,216.7 440.6,278.8 440.6,332.6 440.7,375.9 440.7,407.2 440.7,425.7 440.8,431.3 440.8,424.5 440.8,406.4 440.9,378.5 440.9,342.6 440.9,300.9 441,255.4 441,208.5 441.1,162.3 441.1,118.7 441.1,79.5 441.2,46 441.2,31.9 441.2,31.9 441.3,31.9 441.3,31.9 441.3,31.9 441.4,31.9 441.4,31.9 441.5,56.2 441.5,88.4 441.5,124.5 441.6,163.5 441.6,204.1 441.6,245.1 441.7,285.4 441.7,323.8 441.7,359.6 441.8,391.8 441.8,419.9 441.9,443.3 441.9,461.6 441.9,474.6 442,482.4 442,484.9 442,482.5 442.1,475.3 442.1,463.8 442.1,448.4 442.2,429.8 442.2,408.6 442.3,385.3 442.3,360.5 442.3,334.9 442.4,309.1 442.4,283.7 442.4,259.1 442.5,236 442.5,214.7 442.5,195.5 442.6,178.9 442.6,165 442.7,154 442.7,146.1 442.7,141.2 442.8,139.5 442.8,140.8 442.8,145.1 442.9,152.1 442.9,161.8 442.9,173.8 443,187.9 443,203.9 443.1,221.5 443.1,240.3 443.1,260.2 443.2,280.7 443.2,301.6 443.2,322.6 443.3,343.4 443.3,363.8 443.3,383.6 443.4,402.4 443.4,420.2 443.5,436.8 443.5,452 443.5,465.6 443.6,477.7 443.6,488 443.6,496.7 443.7,503.6 443.7,508.7 443.7,512.1 443.8,513.8 443.8,513.8 443.9,512.2 443.9,509.2 443.9,504.7 444,498.9 444,492 444,483.9 444.1,474.9 444.1,465.2 444.1,454.7 444.2,443.6 444.2,432.2 444.3,420.4 444.3,408.5 444.3,396.5 444.4,384.6 444.4,372.9 444.4,361.4 444.5,350.3 444.5,339.7 444.5,329.6 444.6,320.1 444.6,311.3 444.7,303.2 444.7,295.9 444.7,289.4 444.8,283.7 444.8,278.8 444.8,274.9 444.9,271.8 444.9,269.6 444.9,268.3 445,267.8 445,268.2 445.1,269.4 445.1,271.3 445.1,274 445.2,277.5 445.2,281.6 445.2,286.3 445.3,291.7 445.3,297.6 445.3,303.9 445.4,310.7 445.4,317.9 445.5,325.5 445.5,333.3 445.5,341.4 445.6,349.7 445.6,358.1 445.6,366.6 445.7,375.2 445.7,383.8 445.7,392.3 445.8,400.8 445.8,409.1 445.9,417.3 445.9,425.3 445.9,433.1 446,440.6 446,447.9 446,454.9 446.1,461.6 446.1,467.9 446.1,473.9 446.2,479.5 446.2,484.7 446.3,489.5 446.3,493.9 446.3,498 446.4,501.6 446.4,504.8 446.4,507.6 446.5,510 446.5,512 446.5,513.6 446.6,514.8 446.6,515.6 446.7,516.1 446.7,516.2 446.7,516 446.8,515.4 446.8,514.5 446.8,513.3 446.9,511.7 446.9,509.9 446.9,507.9 447,505.6 447,503.1 447.1,500.3 447.1,497.4 447.1,494.3 447.2,491 447.2,487.5 447.2,484 447.3,480.3 447.3,476.5 447.3,472.6 447.4,468.7 447.4,464.7 447.5,460.7 447.5,456.7 447.5,452.6 447.6,448.6 447.6,444.5 447.6,440.5 447.7,436.5 447.7,432.6 447.7,428.7 447.8,425 447.8,421.2 447.9,417.6 447.9,414.1 447.9,410.6 448,407.3 448,404.1 448,401 448.1,398.1 448.1,395.2 448.1,392.5 448.2,390 448.2,387.6 448.3,385.3 448.3,383.2 448.3,381.2 448.4,379.4 448.4,377.7 448.4,376.1 448.5,374.7 448.5,373.5 448.5,372.4 448.6,371.5 448.6,370.7 448.7,370 448.7,369.5 448.7,369.1 448.8,368.8 448.8,368.7 448.8,368.7 448.9,368.9 448.9,369.1 448.9,369.5 449,370 449,370.6 449.1,371.4 449.1,372.2 449.1,373.1 449.2,374.1 449.2,375.3 449.2,376.5 449.3,377.7 449.3,379.1 449.3,380.6 449.4,382.1 449.4,383.7 449.5,385.3 449.5,387 449.5,388.8 449.6,390.6 449.6,392.4 449.6,394.3 449.7,396.2 449.7,398.2 449.7,400.2 449.8,402.2 449.8,404.3 449.9,406.4 449.9,408.4 449.9,410.5 450,412.7 450,414.8 450,416.9 450.1,419 450.1,421.1 450.1,423.3 450.2,425.4 450.2,427.5 450.3,429.5 450.3,431.6 450.3,433.7 450.4,435.7 450.6,447.1 450.8,457.5 451,466.7 451.2,474.5 451.4,480.9 451.6,485.8 451.8,489.5 452.1,491.9 452.3,493.2 452.5,493.5 452.7,492.9 452.9,491.6 453.1,489.7 453.3,487.3 453.5,484.5 453.8,481.4 454,478.1 454.2,474.6 454.4,471.1 454.6,467.5 454.8,463.8 455,460.2 455.2,456.7 455.5,453.2 455.7,449.8 455.9,446.4 456.1,443.2 456.3,440.1 456.5,437 456.7,434.1 456.9,431.4 457.2,428.7 457.4,426.2 457.6,423.9 457.8,421.6 458,419.6 458.2,417.7 458.4,415.9 458.6,414.3 458.9,412.9 459.1,411.6 459.3,410.5 459.5,409.6 459.7,408.9 459.9,408.3 460.1,407.9 460.3,407.7 460.5,407.7 460.8,407.8 461,408.1 461.2,408.6 461.4,409.2 461.6,410 461.8,411 462,412.1 462.2,413.3 462.5,414.7 462.7,416.3 462.9,417.9 463.1,419.6 463.3,421.5 463.5,423.5 463.7,425.5 463.9,427.7 464.2,429.9 464.4,432.2 464.6,434.5 464.8,436.9 465,439.3 465.2,441.8 465.4,444.3 465.6,446.8 465.9,449.3 466.1,451.8 466.3,454.3 466.5,456.8 466.7,459.3 466.9,461.8 467.1,464.2 467.3,466.6 467.5,469 467.8,471.3 468,473.6 468.2,475.8 468.4,478 468.6,480.1 468.8,482.1 469,484.1 469.2,485.9 469.5,487.8 469.7,489.5 469.9,491.2 470.1,492.7 470.3,494.2 470.5,495.6 470.7,497 470.9,498.2 471.2,499.4 471.4,500.4 471.6,501.4 471.8,502.3 472,503.1 472.2,503.8 472.4,504.5 472.6,505 472.9,505.5 473.1,505.9 473.3,506.2 473.5,506.4 473.7,506.5 473.9,506.6 474.1,506.5 474.3,506.4 474.5,506.2 474.8,506 475,505.6 475.2,505.2 475.4,504.8 475.6,504.2 475.8,503.6 476,502.9 476.2,502.2 476.5,501.4 476.7,500.6 476.9,499.6 477.1,498.7 477.3,497.6 477.5,496.6 477.7,495.4 477.9,494.3 478.2,493.1 478.4,491.8 478.6,490.5 478.8,489.1 479,487.7 479.2,486.3 479.4,484.9 479.6,483.4 479.9,481.8 480.1,480.3 480.3,478.7 480.5,477.1 480.7,475.4 480.9,473.8 481.1,472.1 481.3,470.4 481.5,468.7 481.8,466.9 482,465.2 482.2,463.4 482.4,461.6 482.6,459.8 482.8,458 483,456.2 483.2,454.3 483.5,452.4 483.7,450.4 483.9,448.3 484.1,446.3 484.3,444.2 484.5,442.2 484.7,440.1 484.9,438 485.2,436 485.4,433.9 485.6,431.9 485.8,429.8 486,427.7 486.2,425.7 486.4,423.6 486.6,421.6 486.9,419.6 487.1,417.5 487.3,415.5 487.5,413.5 487.7,411.5 487.9,409.5 488.1,407.5 488.3,405.6 488.6,403.6 489.9,391.8 491.2,380.5 492.5,369.8 493.8,359.8 495.1,350.5 496.4,341.9 497.7,333.9 499,326.7 500.3,320.2 501.6,314.4 503,309.1 504.3,304.5 505.6,300.5 506.9,297 508.2,294 509.5,291.6 510.8,289.5 512.1,287.9 513.4,286.6 514.7,285.7 516,285.1 517.4,284.8 518.7,284.8 520,285 521.3,285.5 522.6,286.1 523.9,287 525.2,287.9 526.5,289.1 527.8,290.3 529.1,291.7 530.4,293.2 531.8,294.8 533.1,296.4 534.4,298.2 535.7,300 537,301.8 538.3,303.7 539.6,305.7 540.9,307.7 542.2,309.7 543.5,311.8 544.8,313.9 546.2,316 547.5,318.1 548.8,320.2 550.1,322.3 551.4,324.5 552.7,326.6 554,328.8 557.8,335.1 561.6,341.3 565.5,347.5 569.3,353.5 573.1,359.4 576.9,365.1 580.7,370.6 584.6,376 588.4,381.1 592.2,386.1 596,390.8 599.8,395.4 603.7,399.8 607.5,404 611.3,408 615.1,411.9 618.9,415.5 622.7,419 626.6,422.4 630.4,425.6 634.2,428.6 638,431.5 641.8,434.3 645.7,436.9 649.5,439.5 653.3,441.8 657.1,444.1 660.9,446.3 664.7,448.3 668.6,450.3 672.4,452.2 676.2,453.9 680,455.6 683.8,457.2 687.7,458.7 691.5,460.1 695.3,461.4 699.1,462.7 702.9,463.9 706.8,465" stroke="#000000"/>
<line x1="678.90" y1="184.05" x2="736.30" y2="184.05" stroke="#000000" stroke-width="2.3" stroke-dasharray="7.2 10.3"/><text x="658.50" y="182.15" font-size="17.3">o</text><text x="618.43" y="191.45" font-size="20.7">=-90</text><text x="598.25" y="197.55" font-size="16.5">CP</text><text x="588.25" y="191.45" font-size="22">δ</text><text x="588.05" y="191.45" font-size="20.7" text-anchor="end" xml:space="preserve">|=0.03, IH, </text><text x="476.96" y="197.75" font-size="16.5">10</text><text x="464.66" y="191.45" font-size="23.5">α</text><text x="460.52" y="191.45" font-size="20.7">|</text>
<path clip-path="url(#cr)" fill="none" stroke-width="2.4" stroke-linejoin="round" d="M434.2,31.9 434.2,373.6 434.3,31.9 434.3,31.9 434.3,276.9 434.3,232.4 434.3,31.9 434.3,31.9 434.4,31.9 434.4,251.1 434.4,416.2 434.4,87.6 434.4,31.9 434.4,31.9 434.5,31.9 434.5,31.9 434.5,31.9 434.5,31.9 434.5,31.9 434.5,31.9 434.6,411.2 434.6,387.8 434.6,498.2 434.6,403.5 434.6,320.1 434.7,211.1 434.7,31.9 434.7,31.9 434.7,31.9 434.7,31.9 434.7,31.9 434.8,31.9 434.8,31.9 434.8,31.9 434.8,31.9 434.8,31.9 434.8,31.9 434.9,31.9 434.9,31.9 434.9,31.9 434.9,31.9 434.9,31.9 435,31.9 435,31.9 435,31.9 435,31.9 435,376.2 435,201 435.1,41.9 435.1,432.2 435.1,413 435.1,303 435.1,506.1 435.1,432.8 435.2,445.8 435.2,472.1 435.2,449.7 435.2,403.5 435.2,456.6 435.2,312.6 435.3,409 435.3,257.3 435.3,261.8 435.3,291.6 435.3,31.9 435.4,380.3 435.4,31.9 435.4,244.2 435.4,31.9 435.4,31.9 435.4,221.1 435.5,31.9 435.5,31.9 435.5,33.6 435.5,31.9 435.5,31.9 435.5,31.9 435.6,31.9 435.6,31.9 435.6,31.9 435.6,31.9 435.6,31.9 435.6,31.9 435.7,31.9 435.7,31.9 435.7,31.9 435.7,31.9 435.7,31.9 435.8,31.9 435.8,31.9 435.8,31.9 435.8,31.9 435.8,31.9 435.8,31.9 435.9,31.9 435.9,31.9 435.9,31.9 435.9,31.9 435.9,31.9 435.9,31.9 436,31.9 436,31.9 436,31.9 436,31.9 436,31.9 436.1,31.9 436.1,31.9 436.1,31.9 436.1,31.9 436.1,31.9 436.1,31.9 436.2,31.9 436.2,31.9 436.2,31.9 436.2,31.9 436.2,31.9 436.2,31.9 436.3,31.9 436.3,31.9 436.3,31.9 436.3,31.9 436.3,31.9 436.3,31.9 436.4,31.9 436.4,31.9 436.4,31.9 436.4,31.9 436.4,31.9 436.5,31.9 436.5,31.9 436.5,31.9 436.5,31.9 436.5,31.9 436.5,31.9 436.6,31.9 436.6,31.9 436.6,31.9 436.6,31.9 436.6,31.9 436.6,31.9 436.7,31.9 436.7,31.9 436.7,31.9 436.7,31.9 436.7,31.9 436.7,31.9 436.8,31.9 436.8,31.9 436.8,31.9 436.8,31.9 436.8,31.9 436.9,31.9 436.9,31.9 436.9,31.9 436.9,31.9 436.9,31.9 436.9,31.9 437,31.9 437,31.9 437,31.9 437,31.9 437,31.9 437,31.9 437.1,31.9 437.1,31.9 437.1,31.9 437.1,31.9 437.1,31.9 437.2,31.9 437.2,31.9 437.2,31.9 437.2,31.9 437.2,31.9 437.2,31.9 437.3,31.9 437.3,31.9 437.3,31.9 437.3,31.9 437.3,31.9 437.3,31.9 437.4,31.9 437.4,31.9 437.4,31.9 437.4,31.9 437.4,31.9 437.4,31.9 437.5,31.9 437.5,31.9 437.5,31.9 437.5,31.9 437.5,31.9 437.6,31.9 437.6,31.9 437.6,31.9 437.6,31.9 437.6,31.9 437.6,31.9 437.7,31.9 437.7,31.9 437.7,31.9 437.7,31.9 437.7,31.9 437.7,31.9 437.8,31.9 437.8,31.9 437.8,31.9 437.8,31.9 437.8,31.9 437.8,31.9 437.9,31.9 437.9,31.9 437.9,31.9 437.9,31.9 437.9,31.9 438,31.9 438,31.9 438,31.9 438,31.9 438,31.9 438,31.9 438.1,31.9 438.1,31.9 438.1,31.9 438.1,31.9 438.1,31.9 438.1,31.9 438.2,59.4 438.2,71.3 438.2,50.3 438.2,31.9 438.2,31.9 438.3,31.9 438.3,31.9 438.3,31.9 438.3,31.9 438.3,31.9 438.3,31.9 438.4,31.9 438.4,31.9 438.4,31.9 438.4,31.9 438.4,31.9 438.4,31.9 438.5,31.9 438.5,31.9 438.5,31.9 438.5,31.9 438.5,31.9 438.5,31.9 438.6,88.1 438.6,139.7 438.6,171.5 438.6,182.7 438.6,173.7 438.7,145.8 438.7,101.1 438.7,42.7 438.7,31.9 438.7,31.9 438.7,31.9 438.8,31.9 438.8,31.9 438.8,31.9 438.8,31.9 438.8,31.9 438.8,31.9 438.9,31.9 438.9,31.9 438.9,31.9 438.9,31.9 438.9,31.9 438.9,31.9 439,31.9 439,31.9 439,31.9 439,31.9 439,31.9 439.1,71.6 439.1,132.1 439.1,184.1 439.1,226.1 439.1,257.1 439.1,276.6 439.2,284.3 439.2,280.5 439.2,265.7 439.2,240.9 439.2,207.1 439.2,165.9 439.3,118.8 439.3,67.5 439.3,31.9 439.3,31.9 439.3,31.9 439.4,31.9 439.4,31.9 439.4,31.9 439.4,31.9 439.4,31.9 439.4,31.9 439.5,31.9 439.5,31.9 439.5,31.9 439.6,31.9 439.6,31.9 439.6,31.9 439.7,86 439.7,184.1 439.7,266.8 439.8,327.7 439.8,363.2 439.9,372.1 439.9,355.4 439.9,316.3 440,259.7 440,191.1 440,117 440.1,43.5 440.1,31.9 440.1,31.9 440.2,31.9 440.2,31.9 440.3,31.9 440.3,31.9 440.3,31.9 440.4,31.9 440.4,31.9 440.4,57.5 440.5,124.9 440.5,192.4 440.5,256.7 440.6,314.6 440.6,363.5 440.7,401.5 440.7,427.4 440.7,440.8 440.8,441.6 440.8,430.6 440.8,409.1 440.9,378.6 440.9,341.2 440.9,298.9 441,253.9 441,208.4 441.1,164.5 441.1,123.9 441.1,88.3 441.2,58.9 441.2,36.8 441.2,31.9 441.3,31.9 441.3,31.9 441.3,31.9 441.4,45.3 441.4,68.9 441.5,98 441.5,131.4 441.5,168.2 441.6,207 441.6,246.6 441.6,286 441.7,324 441.7,359.7 441.7,392.2 441.8,420.8 441.8,445 441.9,464.3 441.9,478.6 441.9,487.6 442,491.5 442,490.4 442,484.6 442.1,474.5 442.1,460.5 442.1,443.2 442.2,423.1 442.2,400.9 442.3,377.1 442.3,352.5 442.3,327.6 442.4,302.9 442.4,279.1 442.4,256.6 442.5,235.8 442.5,217.1 442.5,200.9 442.6,187.4 442.6,176.7 442.7,169 442.7,164.3 442.7,162.7 442.8,164.1 442.8,168.3 442.8,175.3 442.9,184.8 442.9,196.6 442.9,210.5 443,226.1 443,243.3 443.1,261.6 443.1,280.9 443.1,300.7 443.2,320.9 443.2,341.1 443.2,361.1 443.3,380.6 443.3,399.3 443.3,417.2 443.4,433.9 443.4,449.3 443.5,463.3 443.5,475.8 443.5,486.7 443.6,495.9 443.6,503.4 443.6,509.2 443.7,513.2 443.7,515.5 443.7,516.2 443.8,515.3 443.8,512.9 443.9,509.1 443.9,503.9 443.9,497.6 444,490.1 444,481.7 444,472.5 444.1,462.6 444.1,452.1 444.1,441.1 444.2,429.9 444.2,418.5 444.3,407 444.3,395.6 444.3,384.4 444.4,373.4 444.4,362.8 444.4,352.7 444.5,343.1 444.5,334.1 444.5,325.8 444.6,318.2 444.6,311.4 444.7,305.3 444.7,300.2 444.7,295.8 444.8,292.4 444.8,289.8 444.8,288.1 444.9,287.2 444.9,287.2 444.9,288 445,289.5 445,291.9 445.1,294.9 445.1,298.7 445.1,303.1 445.2,308 445.2,313.5 445.2,319.6 445.3,326 445.3,332.9 445.3,340.1 445.4,347.5 445.4,355.3 445.5,363.2 445.5,371.2 445.5,379.3 445.6,387.5 445.6,395.7 445.6,403.8 445.7,411.8 445.7,419.7 445.7,427.4 445.8,435 445.8,442.3 445.9,449.3 445.9,456.1 445.9,462.5 446,468.6 446,474.3 446,479.7 446.1,484.7 446.1,489.4 446.1,493.6 446.2,497.4 446.2,500.8 446.3,503.8 446.3,506.4 446.3,508.6 446.4,510.4 446.4,511.8 446.4,512.8 446.5,513.4 446.5,513.7 446.5,513.6 446.6,513.2 446.6,512.4 446.7,511.3 446.7,509.9 446.7,508.3 446.8,506.4 446.8,504.2 446.8,501.8 446.9,499.2 446.9,496.4 446.9,493.4 447,490.3 447,487 447.1,483.6 447.1,480.1 447.1,476.5 447.2,472.8 447.2,469.1 447.2,465.3 447.3,461.5 447.3,457.7 447.3,453.9 447.4,450.1 447.4,446.4 447.5,442.7 447.5,439.1 447.5,435.5 447.6,432 447.6,428.6 447.6,425.3 447.7,422 447.7,418.9 447.7,416 447.8,413.1 447.8,410.4 447.9,407.8 447.9,405.3 447.9,403 448,400.9 448,398.8 448,397 448.1,395.3 448.1,393.7 448.1,392.3 448.2,391.1 448.2,390 448.3,389 448.3,388.2 448.3,387.6 448.4,387.1 448.4,386.7 448.4,386.5 448.5,386.4 448.5,386.5 448.5,386.7 448.6,387 448.6,387.4 448.7,388 448.7,388.6 448.7,389.4 448.8,390.3 448.8,391.3 448.8,392.3 448.9,393.5 448.9,394.7 448.9,396.1 449,397.5 449,399 449.1,400.5 449.1,402.1 449.1,403.7 449.2,405.4 449.2,407.2 449.2,409 449.3,410.8 449.3,412.7 449.3,414.5 449.4,416.4 449.4,418.4 449.5,420.3 449.5,422.2 449.5,424.2 449.6,426.1 449.6,428.1 449.6,430 449.7,432 449.7,433.9 449.7,435.8 449.8,437.7 449.8,439.5 449.9,441.4 449.9,443.2 449.9,445 450,446.8 450,448.5 450,450.2 450.1,451.8 450.1,453.4 450.1,455 450.2,456.6 450.2,458.1 450.3,459.5 450.3,460.9 450.3,462.3 450.4,463.6 450.6,470.3 450.8,475.4 451,478.9 451.2,480.9 451.4,481.7 451.6,481.3 451.8,480.1 452.1,478.3 452.3,476.1 452.5,473.7 452.7,471.1 452.9,468.7 453.1,466.4 453.3,464.4 453.5,462.6 453.8,461.2 454,460 454.2,459.2 454.4,458.7 454.6,458.4 454.8,458.2 455,458.3 455.2,458.4 455.5,458.6 455.7,458.7 455.9,458.9 456.1,459 456.3,458.9 456.5,458.8 456.7,458.4 456.9,458 457.2,457.3 457.4,456.5 457.6,455.5 457.8,454.3 458,452.9 458.2,451.4 458.4,449.8 458.6,448 458.9,446.1 459.1,444.2 459.3,442.2 459.5,440.1 459.7,438.1 459.9,436 460.1,433.9 460.3,431.9 460.5,430 460.8,428.1 461,426.3 461.2,424.6 461.4,423.1 461.6,421.6 461.8,420.3 462,419.2 462.2,418.2 462.5,417.3 462.7,416.6 462.9,416.1 463.1,415.8 463.3,415.6 463.5,415.6 463.7,415.7 463.9,416 464.2,416.5 464.4,417.1 464.6,417.9 464.8,418.8 465,419.9 465.2,421 465.4,422.3 465.6,423.8 465.9,425.3 466.1,426.9 466.3,428.6 466.5,430.4 466.7,432.3 466.9,434.3 467.1,436.3 467.3,438.3 467.5,440.4 467.8,442.6 468,444.8 468.2,447 468.4,449.2 468.6,451.4 468.8,453.6 469,455.8 469.2,458.1 469.5,460.2 469.7,462.4 469.9,464.6 470.1,466.7 470.3,468.8 470.5,470.8 470.7,472.8 470.9,474.8 471.2,476.7 471.4,478.5 471.6,480.3 471.8,482 472,483.7 472.2,485.3 472.4,486.8 472.6,488.3 472.9,489.7 473.1,491 473.3,492.2 473.5,493.4 473.7,494.5 473.9,495.5 474.1,496.4 474.3,497.3 474.5,498.1 474.8,498.8 475,499.5 475.2,500 475.4,500.5 475.6,500.9 475.8,501.2 476,501.5 476.2,501.7 476.5,501.8 476.7,501.9 476.9,501.8 477.1,501.7 477.3,501.6 477.5,501.3 477.7,501 477.9,500.7 478.2,500.2 478.4,499.8 478.6,499.2 478.8,498.6 479,497.9 479.2,497.2 479.4,496.4 479.6,495.6 479.9,494.7 480.1,493.8 480.3,492.8 480.5,491.8 480.7,490.7 480.9,489.6 481.1,488.4 481.3,487.2 481.5,485.9 481.8,484.7 482,483.3 482.2,482 482.4,480.6 482.6,479.2 482.8,477.7 483,476.2 483.2,474.7 483.5,473.2 483.7,471.6 483.9,470 484.1,468.4 484.3,466.7 484.5,465.1 484.7,463.4 484.9,461.7 485.2,460 485.4,458.2 485.6,456.5 485.8,454.7 486,452.9 486.2,451.5 486.4,450.1 486.6,448.7 486.9,447.2 487.1,445.7 487.3,444.2 487.5,442.6 487.7,441 487.9,439.4 488.1,437.8 488.3,436.2 488.6,434.5 489.9,424 491.2,413.2 492.5,402.3 493.8,391.4 495.1,380.7 496.4,370.3 497.7,360.4 499,351 500.3,342.1 501.6,333.8 503,326.2 504.3,319.2 505.6,312.9 506.9,307.3 508.2,302.3 509.5,297.9 510.8,294 512.1,290.7 513.4,287.8 514.7,285.3 516,283.2 517.4,281.6 518.7,280.2 520,279.2 521.3,278.4 522.6,277.9 523.9,277.6 525.2,277.5 526.5,277.6 527.8,277.8 529.1,278.2 530.4,278.7 531.8,279.4 533.1,280.1 534.4,281 535.7,282 537,283 538.3,284.2 539.6,285.4 540.9,286.7 542.2,288 543.5,289.4 544.8,290.8 546.2,292.3 547.5,293.9 548.8,295.4 550.1,297 551.4,298.7 552.7,300.3 554,302 557.8,307 561.6,312.1 565.5,317.3 569.3,322.5 573.1,327.7 576.9,332.8 580.7,337.8 584.6,342.7 588.4,347.5 592.2,352.2 596,356.7 599.8,361.1 603.7,365.3 607.5,369.4 611.3,373.4 615.1,377.2 618.9,380.9 622.7,384.4 626.6,387.9 630.4,391.2 634.2,394.3 638,397.4 641.8,400.3 645.7,403.1 649.5,405.8 653.3,408.4 657.1,410.9 660.9,413.3 664.7,415.6 668.6,417.8 672.4,419.9 676.2,421.9 680,423.9 683.8,425.8 687.7,427.6 691.5,429.3 695.3,430.9 699.1,432.5 702.9,434.1 706.8,435.7" stroke="#000000" stroke-dasharray="6.8 7.7"/>
<g stroke="#000" stroke-width="1.5" fill="none"><rect x="101.80" y="62.10" width="327.20" height="456.50"/><rect x="434.00" y="62.10" width="327.30" height="456.50"/></g>
<g font-size="20.7">
<text x="89.3" y="525.60" text-anchor="end">0</text>
<text x="89.3" y="434.26" text-anchor="end">0.02</text>
<text x="89.3" y="342.92" text-anchor="end">0.04</text>
<text x="89.3" y="251.58" text-anchor="end">0.06</text>
<text x="89.3" y="160.24" text-anchor="end">0.08</text>
<text x="89.3" y="68.90" text-anchor="end">0.1</text>
<text x="4.8" y="297.6">Probability</text>
<text x="104.80" y="546.7" text-anchor="middle">0</text>
<text x="214.00" y="546.7" text-anchor="middle">2</text>
<text x="322.50" y="546.7" text-anchor="middle">4</text>
<text x="431.60" y="546.7" text-anchor="middle">6</text>
<text x="543.20" y="546.7" text-anchor="middle">2</text>
<text x="652.30" y="546.7" text-anchor="middle">4</text>
<text x="761.30" y="546.7" text-anchor="middle">6</text>
<text x="374.5" y="571.1">E [GeV]</text>
</g>
</svg></body></html>
